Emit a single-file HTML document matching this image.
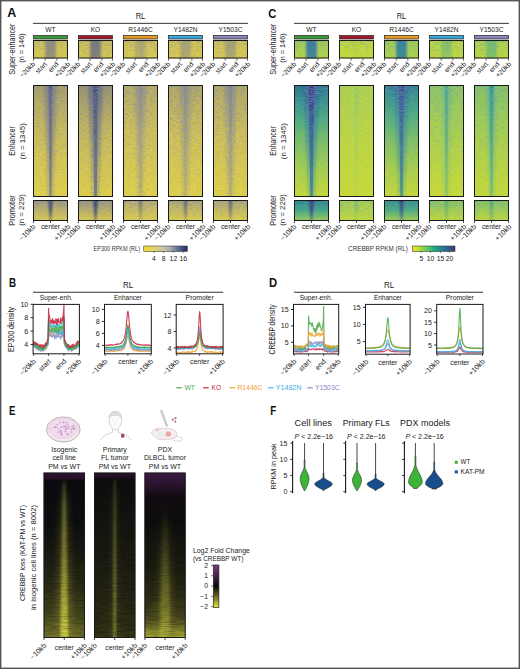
<!DOCTYPE html><html><head><meta charset="utf-8"><style>html,body{margin:0;padding:0;background:#fff;overflow:hidden;}svg{display:block;font-family:"Liberation Sans", sans-serif;}</style></head><body><svg width="520" height="669" viewBox="0 0 520 669"><defs><clipPath id="cp1"><rect x="33" y="40" width="35" height="18.5"/></clipPath><linearGradient id="lg2" x1="0" y1="0" x2="0" y2="1"><stop offset="0" stop-color="#cec256" stop-opacity="1"/><stop offset="1" stop-color="#d8ca50" stop-opacity="1"/></linearGradient><linearGradient id="lg3" x1="0" y1="0" x2="0" y2="1"><stop offset="0" stop-color="#8e8a7a" stop-opacity="1"/><stop offset="1" stop-color="#9a9676" stop-opacity="1"/></linearGradient><filter id="bl4" x="-100%" y="-5%" width="300%" height="110%"><feGaussianBlur stdDeviation="0.8 0.3"/></filter><filter id="nf5" x="33" y="40" width="35" height="18.5" filterUnits="userSpaceOnUse"><feTurbulence type="fractalNoise" baseFrequency="0.3 0.75" numOctaves="2" seed="10"/><feColorMatrix type="matrix" values="0 0 0 0 0.22  0 0 0 0 0.26  0 0 0 0 0.42  1.68 0 0 0 -0.672"/></filter><linearGradient id="lg7" x1="0" y1="0" x2="0" y2="1"><stop offset="0" stop-color="#fff" stop-opacity="1"/><stop offset="0.35" stop-color="#aaa" stop-opacity="1"/><stop offset="0.7" stop-color="#666" stop-opacity="1"/><stop offset="1" stop-color="#444" stop-opacity="1"/></linearGradient><mask id="mk6" maskUnits="userSpaceOnUse" x="33" y="40" width="35" height="18.5"><rect x="33" y="40" width="35" height="18.5" fill="url(#lg7)"/></mask><clipPath id="cp8"><rect x="33" y="85" width="35" height="112"/></clipPath><linearGradient id="lg9" x1="0" y1="0" x2="0" y2="1"><stop offset="0" stop-color="#aaa060" stop-opacity="1"/><stop offset="0.12" stop-color="#b8ac5e" stop-opacity="1"/><stop offset="0.35" stop-color="#cabb58" stop-opacity="1"/><stop offset="0.65" stop-color="#d8c852" stop-opacity="1"/><stop offset="1" stop-color="#e2d24a" stop-opacity="1"/></linearGradient><linearGradient id="lg10" x1="0" y1="0" x2="0" y2="1"><stop offset="0" stop-color="#6e6e74" stop-opacity="0.6"/><stop offset="0.5" stop-color="#7c7a74" stop-opacity="0.38"/><stop offset="1" stop-color="#9a9270" stop-opacity="0.25"/></linearGradient><filter id="bl11" x="-100%" y="-5%" width="300%" height="110%"><feGaussianBlur stdDeviation="1.5 0.3"/></filter><linearGradient id="lg12" x1="0" y1="0" x2="0" y2="1"><stop offset="0" stop-color="#50587a" stop-opacity="0.9"/><stop offset="0.5" stop-color="#66687a" stop-opacity="0.78"/><stop offset="1" stop-color="#747680" stop-opacity="0.7"/></linearGradient><filter id="bl13" x="-100%" y="-5%" width="300%" height="110%"><feGaussianBlur stdDeviation="0.7 0.3"/></filter><filter id="nf14" x="33" y="85" width="35" height="112" filterUnits="userSpaceOnUse"><feTurbulence type="fractalNoise" baseFrequency="0.3 0.75" numOctaves="2" seed="20"/><feColorMatrix type="matrix" values="0 0 0 0 0.22  0 0 0 0 0.26  0 0 0 0 0.42  1.68 0 0 0 -0.672"/></filter><linearGradient id="lg16" x1="0" y1="0" x2="0" y2="1"><stop offset="0" stop-color="#fff" stop-opacity="1"/><stop offset="0.35" stop-color="#aaa" stop-opacity="1"/><stop offset="0.7" stop-color="#666" stop-opacity="1"/><stop offset="1" stop-color="#444" stop-opacity="1"/></linearGradient><mask id="mk15" maskUnits="userSpaceOnUse" x="33" y="85" width="35" height="112"><rect x="33" y="85" width="35" height="112" fill="url(#lg16)"/></mask><linearGradient id="lg18" x1="0" y1="0" x2="0" y2="1"><stop offset="0" stop-color="#fff" stop-opacity="1"/><stop offset="1" stop-color="#fff" stop-opacity="0.65"/></linearGradient><filter id="bl19" x="-100%" y="-5%" width="300%" height="110%"><feGaussianBlur stdDeviation="1.2 0.3"/></filter><mask id="mk17" maskUnits="userSpaceOnUse" x="33" y="85" width="35" height="112"><polygon points="43.5,83 57.5,83 54.0,199 47.0,199" fill="url(#lg18)" filter="url(#bl19)"/></mask><filter id="nf20" x="33" y="85" width="35" height="112" filterUnits="userSpaceOnUse"><feTurbulence type="fractalNoise" baseFrequency="0.35 0.8" numOctaves="2" seed="120"/><feColorMatrix type="matrix" values="0 0 0 0 0.2  0 0 0 0 0.25  0 0 0 0 0.45  1.8 0 0 0 -0.7200000000000001"/></filter><clipPath id="cp21"><rect x="33" y="200" width="35" height="21"/></clipPath><linearGradient id="lg22" x1="0" y1="0" x2="0" y2="1"><stop offset="0" stop-color="#9c9884" stop-opacity="1"/><stop offset="0.5" stop-color="#c2b664" stop-opacity="1"/><stop offset="1" stop-color="#dacb50" stop-opacity="1"/></linearGradient><linearGradient id="lg23" x1="0" y1="0" x2="0" y2="1"><stop offset="0" stop-color="#2e3e70" stop-opacity="1"/><stop offset="0.6" stop-color="#3e4c72" stop-opacity="0.9"/><stop offset="1" stop-color="#6a6e78" stop-opacity="0.5"/></linearGradient><filter id="bl24" x="-100%" y="-5%" width="300%" height="110%"><feGaussianBlur stdDeviation="0.9 0.3"/></filter><filter id="nf25" x="33" y="200" width="35" height="21" filterUnits="userSpaceOnUse"><feTurbulence type="fractalNoise" baseFrequency="0.3 0.75" numOctaves="2" seed="30"/><feColorMatrix type="matrix" values="0 0 0 0 0.22  0 0 0 0 0.26  0 0 0 0 0.42  1.68 0 0 0 -0.672"/></filter><linearGradient id="lg27" x1="0" y1="0" x2="0" y2="1"><stop offset="0" stop-color="#fff" stop-opacity="1"/><stop offset="0.35" stop-color="#aaa" stop-opacity="1"/><stop offset="0.7" stop-color="#666" stop-opacity="1"/><stop offset="1" stop-color="#444" stop-opacity="1"/></linearGradient><mask id="mk26" maskUnits="userSpaceOnUse" x="33" y="200" width="35" height="21"><rect x="33" y="200" width="35" height="21" fill="url(#lg27)"/></mask><clipPath id="cp28"><rect x="78" y="40" width="35" height="18.5"/></clipPath><linearGradient id="lg29" x1="0" y1="0" x2="0" y2="1"><stop offset="0" stop-color="#ccbf58" stop-opacity="1"/><stop offset="1" stop-color="#d6c852" stop-opacity="1"/></linearGradient><linearGradient id="lg30" x1="0" y1="0" x2="0" y2="1"><stop offset="0" stop-color="#76767a" stop-opacity="1"/><stop offset="1" stop-color="#868276" stop-opacity="1"/></linearGradient><filter id="nf31" x="78" y="40" width="35" height="18.5" filterUnits="userSpaceOnUse"><feTurbulence type="fractalNoise" baseFrequency="0.3 0.75" numOctaves="2" seed="11"/><feColorMatrix type="matrix" values="0 0 0 0 0.22  0 0 0 0 0.26  0 0 0 0 0.42  1.68 0 0 0 -0.672"/></filter><linearGradient id="lg33" x1="0" y1="0" x2="0" y2="1"><stop offset="0" stop-color="#fff" stop-opacity="1"/><stop offset="0.35" stop-color="#aaa" stop-opacity="1"/><stop offset="0.7" stop-color="#666" stop-opacity="1"/><stop offset="1" stop-color="#444" stop-opacity="1"/></linearGradient><mask id="mk32" maskUnits="userSpaceOnUse" x="78" y="40" width="35" height="18.5"><rect x="78" y="40" width="35" height="18.5" fill="url(#lg33)"/></mask><clipPath id="cp34"><rect x="78" y="85" width="35" height="112"/></clipPath><linearGradient id="lg35" x1="0" y1="0" x2="0" y2="1"><stop offset="0" stop-color="#96926c" stop-opacity="1"/><stop offset="0.12" stop-color="#aaa064" stop-opacity="1"/><stop offset="0.35" stop-color="#c4b65c" stop-opacity="1"/><stop offset="0.65" stop-color="#d4c554" stop-opacity="1"/><stop offset="1" stop-color="#e0d04a" stop-opacity="1"/></linearGradient><linearGradient id="lg36" x1="0" y1="0" x2="0" y2="1"><stop offset="0" stop-color="#575c6d" stop-opacity="0.7"/><stop offset="0.5" stop-color="#707173" stop-opacity="0.42"/><stop offset="1" stop-color="#8a8678" stop-opacity="0.28"/></linearGradient><linearGradient id="lg37" x1="0" y1="0" x2="0" y2="1"><stop offset="0" stop-color="#3b496c" stop-opacity="0.95"/><stop offset="0.5" stop-color="#56607a" stop-opacity="0.85"/><stop offset="1" stop-color="#686c7c" stop-opacity="0.75"/></linearGradient><filter id="nf38" x="78" y="85" width="35" height="112" filterUnits="userSpaceOnUse"><feTurbulence type="fractalNoise" baseFrequency="0.3 0.75" numOctaves="2" seed="21"/><feColorMatrix type="matrix" values="0 0 0 0 0.22  0 0 0 0 0.26  0 0 0 0 0.42  1.68 0 0 0 -0.672"/></filter><linearGradient id="lg40" x1="0" y1="0" x2="0" y2="1"><stop offset="0" stop-color="#fff" stop-opacity="1"/><stop offset="0.35" stop-color="#aaa" stop-opacity="1"/><stop offset="0.7" stop-color="#666" stop-opacity="1"/><stop offset="1" stop-color="#444" stop-opacity="1"/></linearGradient><mask id="mk39" maskUnits="userSpaceOnUse" x="78" y="85" width="35" height="112"><rect x="78" y="85" width="35" height="112" fill="url(#lg40)"/></mask><linearGradient id="lg42" x1="0" y1="0" x2="0" y2="1"><stop offset="0" stop-color="#fff" stop-opacity="1"/><stop offset="1" stop-color="#fff" stop-opacity="0.65"/></linearGradient><mask id="mk41" maskUnits="userSpaceOnUse" x="78" y="85" width="35" height="112"><polygon points="87.5,83 103.5,83 99.5,199 91.5,199" fill="url(#lg42)" filter="url(#bl19)"/></mask><filter id="nf43" x="78" y="85" width="35" height="112" filterUnits="userSpaceOnUse"><feTurbulence type="fractalNoise" baseFrequency="0.35 0.8" numOctaves="2" seed="121"/><feColorMatrix type="matrix" values="0 0 0 0 0.15  0 0 0 0 0.2  0 0 0 0 0.45  2.0 0 0 0 -0.8"/></filter><clipPath id="cp44"><rect x="78" y="200" width="35" height="21"/></clipPath><linearGradient id="lg45" x1="0" y1="0" x2="0" y2="1"><stop offset="0" stop-color="#969482" stop-opacity="1"/><stop offset="0.5" stop-color="#beb266" stop-opacity="1"/><stop offset="1" stop-color="#dacb50" stop-opacity="1"/></linearGradient><linearGradient id="lg46" x1="0" y1="0" x2="0" y2="1"><stop offset="0" stop-color="#27386c" stop-opacity="1"/><stop offset="0.6" stop-color="#3a4870" stop-opacity="0.9"/><stop offset="1" stop-color="#5e6478" stop-opacity="0.55"/></linearGradient><filter id="nf47" x="78" y="200" width="35" height="21" filterUnits="userSpaceOnUse"><feTurbulence type="fractalNoise" baseFrequency="0.3 0.75" numOctaves="2" seed="31"/><feColorMatrix type="matrix" values="0 0 0 0 0.22  0 0 0 0 0.26  0 0 0 0 0.42  1.68 0 0 0 -0.672"/></filter><linearGradient id="lg49" x1="0" y1="0" x2="0" y2="1"><stop offset="0" stop-color="#fff" stop-opacity="1"/><stop offset="0.35" stop-color="#aaa" stop-opacity="1"/><stop offset="0.7" stop-color="#666" stop-opacity="1"/><stop offset="1" stop-color="#444" stop-opacity="1"/></linearGradient><mask id="mk48" maskUnits="userSpaceOnUse" x="78" y="200" width="35" height="21"><rect x="78" y="200" width="35" height="21" fill="url(#lg49)"/></mask><clipPath id="cp50"><rect x="123" y="40" width="35" height="18.5"/></clipPath><linearGradient id="lg51" x1="0" y1="0" x2="0" y2="1"><stop offset="0" stop-color="#d2c456" stop-opacity="1"/><stop offset="1" stop-color="#dacb50" stop-opacity="1"/></linearGradient><linearGradient id="lg52" x1="0" y1="0" x2="0" y2="1"><stop offset="0" stop-color="#b2a86e" stop-opacity="1"/><stop offset="1" stop-color="#bcb068" stop-opacity="1"/></linearGradient><filter id="nf53" x="123" y="40" width="35" height="18.5" filterUnits="userSpaceOnUse"><feTurbulence type="fractalNoise" baseFrequency="0.3 0.75" numOctaves="2" seed="12"/><feColorMatrix type="matrix" values="0 0 0 0 0.22  0 0 0 0 0.26  0 0 0 0 0.42  1.68 0 0 0 -0.672"/></filter><linearGradient id="lg55" x1="0" y1="0" x2="0" y2="1"><stop offset="0" stop-color="#fff" stop-opacity="1"/><stop offset="0.35" stop-color="#aaa" stop-opacity="1"/><stop offset="0.7" stop-color="#666" stop-opacity="1"/><stop offset="1" stop-color="#444" stop-opacity="1"/></linearGradient><mask id="mk54" maskUnits="userSpaceOnUse" x="123" y="40" width="35" height="18.5"><rect x="123" y="40" width="35" height="18.5" fill="url(#lg55)"/></mask><clipPath id="cp56"><rect x="123" y="85" width="35" height="112"/></clipPath><linearGradient id="lg57" x1="0" y1="0" x2="0" y2="1"><stop offset="0" stop-color="#b8ac60" stop-opacity="1"/><stop offset="0.15" stop-color="#c4b65c" stop-opacity="1"/><stop offset="0.45" stop-color="#d4c456" stop-opacity="1"/><stop offset="1" stop-color="#e2d24a" stop-opacity="1"/></linearGradient><linearGradient id="lg58" x1="0" y1="0" x2="0" y2="1"><stop offset="0" stop-color="#84837a" stop-opacity="0.5"/><stop offset="0.5" stop-color="#959080" stop-opacity="0.32"/><stop offset="1" stop-color="#a59c74" stop-opacity="0.2"/></linearGradient><linearGradient id="lg59" x1="0" y1="0" x2="0" y2="1"><stop offset="0" stop-color="#6a6e78" stop-opacity="0.3"/><stop offset="0.5" stop-color="#7c7c78" stop-opacity="0.22"/><stop offset="1" stop-color="#8e8a70" stop-opacity="0.25"/></linearGradient><filter id="nf60" x="123" y="85" width="35" height="112" filterUnits="userSpaceOnUse"><feTurbulence type="fractalNoise" baseFrequency="0.3 0.75" numOctaves="2" seed="22"/><feColorMatrix type="matrix" values="0 0 0 0 0.22  0 0 0 0 0.26  0 0 0 0 0.42  1.68 0 0 0 -0.672"/></filter><linearGradient id="lg62" x1="0" y1="0" x2="0" y2="1"><stop offset="0" stop-color="#fff" stop-opacity="1"/><stop offset="0.35" stop-color="#aaa" stop-opacity="1"/><stop offset="0.7" stop-color="#666" stop-opacity="1"/><stop offset="1" stop-color="#444" stop-opacity="1"/></linearGradient><mask id="mk61" maskUnits="userSpaceOnUse" x="123" y="85" width="35" height="112"><rect x="123" y="85" width="35" height="112" fill="url(#lg62)"/></mask><linearGradient id="lg64" x1="0" y1="0" x2="0" y2="1"><stop offset="0" stop-color="#fff" stop-opacity="1"/><stop offset="1" stop-color="#fff" stop-opacity="0.65"/></linearGradient><mask id="mk63" maskUnits="userSpaceOnUse" x="123" y="85" width="35" height="112"><polygon points="134.5,83 146.5,83 143.5,199 137.5,199" fill="url(#lg64)" filter="url(#bl19)"/></mask><filter id="nf65" x="123" y="85" width="35" height="112" filterUnits="userSpaceOnUse"><feTurbulence type="fractalNoise" baseFrequency="0.35 0.8" numOctaves="2" seed="122"/><feColorMatrix type="matrix" values="0 0 0 0 0.28  0 0 0 0 0.31  0 0 0 0 0.45  2.2 0 0 0 -0.8800000000000001"/></filter><clipPath id="cp66"><rect x="123" y="200" width="35" height="21"/></clipPath><linearGradient id="lg67" x1="0" y1="0" x2="0" y2="1"><stop offset="0" stop-color="#b2aa78" stop-opacity="1"/><stop offset="0.5" stop-color="#cec05c" stop-opacity="1"/><stop offset="1" stop-color="#dece4e" stop-opacity="1"/></linearGradient><linearGradient id="lg68" x1="0" y1="0" x2="0" y2="1"><stop offset="0" stop-color="#4a5470" stop-opacity="0.8"/><stop offset="0.6" stop-color="#5e6474" stop-opacity="0.6"/><stop offset="1" stop-color="#8a8672" stop-opacity="0.4"/></linearGradient><filter id="nf69" x="123" y="200" width="35" height="21" filterUnits="userSpaceOnUse"><feTurbulence type="fractalNoise" baseFrequency="0.3 0.75" numOctaves="2" seed="32"/><feColorMatrix type="matrix" values="0 0 0 0 0.22  0 0 0 0 0.26  0 0 0 0 0.42  1.68 0 0 0 -0.672"/></filter><linearGradient id="lg71" x1="0" y1="0" x2="0" y2="1"><stop offset="0" stop-color="#fff" stop-opacity="1"/><stop offset="0.35" stop-color="#aaa" stop-opacity="1"/><stop offset="0.7" stop-color="#666" stop-opacity="1"/><stop offset="1" stop-color="#444" stop-opacity="1"/></linearGradient><mask id="mk70" maskUnits="userSpaceOnUse" x="123" y="200" width="35" height="21"><rect x="123" y="200" width="35" height="21" fill="url(#lg71)"/></mask><clipPath id="cp72"><rect x="168" y="40" width="35" height="18.5"/></clipPath><linearGradient id="lg73" x1="0" y1="0" x2="0" y2="1"><stop offset="0" stop-color="#d2c456" stop-opacity="1"/><stop offset="1" stop-color="#dacb50" stop-opacity="1"/></linearGradient><linearGradient id="lg74" x1="0" y1="0" x2="0" y2="1"><stop offset="0" stop-color="#aaa270" stop-opacity="1"/><stop offset="1" stop-color="#b6ac6a" stop-opacity="1"/></linearGradient><filter id="nf75" x="168" y="40" width="35" height="18.5" filterUnits="userSpaceOnUse"><feTurbulence type="fractalNoise" baseFrequency="0.3 0.75" numOctaves="2" seed="13"/><feColorMatrix type="matrix" values="0 0 0 0 0.22  0 0 0 0 0.26  0 0 0 0 0.42  1.68 0 0 0 -0.672"/></filter><linearGradient id="lg77" x1="0" y1="0" x2="0" y2="1"><stop offset="0" stop-color="#fff" stop-opacity="1"/><stop offset="0.35" stop-color="#aaa" stop-opacity="1"/><stop offset="0.7" stop-color="#666" stop-opacity="1"/><stop offset="1" stop-color="#444" stop-opacity="1"/></linearGradient><mask id="mk76" maskUnits="userSpaceOnUse" x="168" y="40" width="35" height="18.5"><rect x="168" y="40" width="35" height="18.5" fill="url(#lg77)"/></mask><clipPath id="cp78"><rect x="168" y="85" width="35" height="112"/></clipPath><linearGradient id="lg79" x1="0" y1="0" x2="0" y2="1"><stop offset="0" stop-color="#b4aa62" stop-opacity="1"/><stop offset="0.15" stop-color="#c2b45c" stop-opacity="1"/><stop offset="0.45" stop-color="#d3c356" stop-opacity="1"/><stop offset="1" stop-color="#e2d24a" stop-opacity="1"/></linearGradient><linearGradient id="lg80" x1="0" y1="0" x2="0" y2="1"><stop offset="0" stop-color="#84837a" stop-opacity="0.5"/><stop offset="0.5" stop-color="#959080" stop-opacity="0.32"/><stop offset="1" stop-color="#a59c74" stop-opacity="0.2"/></linearGradient><linearGradient id="lg81" x1="0" y1="0" x2="0" y2="1"><stop offset="0" stop-color="#646a7a" stop-opacity="0.32"/><stop offset="0.5" stop-color="#787a78" stop-opacity="0.24"/><stop offset="1" stop-color="#8c8a70" stop-opacity="0.26"/></linearGradient><filter id="nf82" x="168" y="85" width="35" height="112" filterUnits="userSpaceOnUse"><feTurbulence type="fractalNoise" baseFrequency="0.3 0.75" numOctaves="2" seed="23"/><feColorMatrix type="matrix" values="0 0 0 0 0.22  0 0 0 0 0.26  0 0 0 0 0.42  1.68 0 0 0 -0.672"/></filter><linearGradient id="lg84" x1="0" y1="0" x2="0" y2="1"><stop offset="0" stop-color="#fff" stop-opacity="1"/><stop offset="0.35" stop-color="#aaa" stop-opacity="1"/><stop offset="0.7" stop-color="#666" stop-opacity="1"/><stop offset="1" stop-color="#444" stop-opacity="1"/></linearGradient><mask id="mk83" maskUnits="userSpaceOnUse" x="168" y="85" width="35" height="112"><rect x="168" y="85" width="35" height="112" fill="url(#lg84)"/></mask><linearGradient id="lg86" x1="0" y1="0" x2="0" y2="1"><stop offset="0" stop-color="#fff" stop-opacity="1"/><stop offset="1" stop-color="#fff" stop-opacity="0.65"/></linearGradient><mask id="mk85" maskUnits="userSpaceOnUse" x="168" y="85" width="35" height="112"><polygon points="179.5,83 191.5,83 188.5,199 182.5,199" fill="url(#lg86)" filter="url(#bl19)"/></mask><filter id="nf87" x="168" y="85" width="35" height="112" filterUnits="userSpaceOnUse"><feTurbulence type="fractalNoise" baseFrequency="0.35 0.8" numOctaves="2" seed="123"/><feColorMatrix type="matrix" values="0 0 0 0 0.28  0 0 0 0 0.31  0 0 0 0 0.45  2.2 0 0 0 -0.8800000000000001"/></filter><clipPath id="cp88"><rect x="168" y="200" width="35" height="21"/></clipPath><linearGradient id="lg89" x1="0" y1="0" x2="0" y2="1"><stop offset="0" stop-color="#aca67a" stop-opacity="1"/><stop offset="0.5" stop-color="#cabe5e" stop-opacity="1"/><stop offset="1" stop-color="#dece4e" stop-opacity="1"/></linearGradient><linearGradient id="lg90" x1="0" y1="0" x2="0" y2="1"><stop offset="0" stop-color="#3e4c70" stop-opacity="0.85"/><stop offset="0.6" stop-color="#505a74" stop-opacity="0.7"/><stop offset="1" stop-color="#7e7e74" stop-opacity="0.45"/></linearGradient><filter id="nf91" x="168" y="200" width="35" height="21" filterUnits="userSpaceOnUse"><feTurbulence type="fractalNoise" baseFrequency="0.3 0.75" numOctaves="2" seed="33"/><feColorMatrix type="matrix" values="0 0 0 0 0.22  0 0 0 0 0.26  0 0 0 0 0.42  1.68 0 0 0 -0.672"/></filter><linearGradient id="lg93" x1="0" y1="0" x2="0" y2="1"><stop offset="0" stop-color="#fff" stop-opacity="1"/><stop offset="0.35" stop-color="#aaa" stop-opacity="1"/><stop offset="0.7" stop-color="#666" stop-opacity="1"/><stop offset="1" stop-color="#444" stop-opacity="1"/></linearGradient><mask id="mk92" maskUnits="userSpaceOnUse" x="168" y="200" width="35" height="21"><rect x="168" y="200" width="35" height="21" fill="url(#lg93)"/></mask><clipPath id="cp94"><rect x="213" y="40" width="35" height="18.5"/></clipPath><linearGradient id="lg95" x1="0" y1="0" x2="0" y2="1"><stop offset="0" stop-color="#d2c456" stop-opacity="1"/><stop offset="1" stop-color="#dacb50" stop-opacity="1"/></linearGradient><linearGradient id="lg96" x1="0" y1="0" x2="0" y2="1"><stop offset="0" stop-color="#a8a072" stop-opacity="1"/><stop offset="1" stop-color="#b4ac6c" stop-opacity="1"/></linearGradient><filter id="nf97" x="213" y="40" width="35" height="18.5" filterUnits="userSpaceOnUse"><feTurbulence type="fractalNoise" baseFrequency="0.3 0.75" numOctaves="2" seed="14"/><feColorMatrix type="matrix" values="0 0 0 0 0.22  0 0 0 0 0.26  0 0 0 0 0.42  1.68 0 0 0 -0.672"/></filter><linearGradient id="lg99" x1="0" y1="0" x2="0" y2="1"><stop offset="0" stop-color="#fff" stop-opacity="1"/><stop offset="0.35" stop-color="#aaa" stop-opacity="1"/><stop offset="0.7" stop-color="#666" stop-opacity="1"/><stop offset="1" stop-color="#444" stop-opacity="1"/></linearGradient><mask id="mk98" maskUnits="userSpaceOnUse" x="213" y="40" width="35" height="18.5"><rect x="213" y="40" width="35" height="18.5" fill="url(#lg99)"/></mask><clipPath id="cp100"><rect x="213" y="85" width="35" height="112"/></clipPath><linearGradient id="lg101" x1="0" y1="0" x2="0" y2="1"><stop offset="0" stop-color="#b4aa62" stop-opacity="1"/><stop offset="0.15" stop-color="#c2b45c" stop-opacity="1"/><stop offset="0.45" stop-color="#d3c356" stop-opacity="1"/><stop offset="1" stop-color="#e2d24a" stop-opacity="1"/></linearGradient><linearGradient id="lg102" x1="0" y1="0" x2="0" y2="1"><stop offset="0" stop-color="#7c7c7c" stop-opacity="0.5"/><stop offset="0.5" stop-color="#909080" stop-opacity="0.32"/><stop offset="1" stop-color="#a59c74" stop-opacity="0.2"/></linearGradient><linearGradient id="lg103" x1="0" y1="0" x2="0" y2="1"><stop offset="0" stop-color="#5e667a" stop-opacity="0.36"/><stop offset="0.5" stop-color="#747678" stop-opacity="0.26"/><stop offset="1" stop-color="#8a8870" stop-opacity="0.28"/></linearGradient><filter id="nf104" x="213" y="85" width="35" height="112" filterUnits="userSpaceOnUse"><feTurbulence type="fractalNoise" baseFrequency="0.3 0.75" numOctaves="2" seed="24"/><feColorMatrix type="matrix" values="0 0 0 0 0.22  0 0 0 0 0.26  0 0 0 0 0.42  1.68 0 0 0 -0.672"/></filter><linearGradient id="lg106" x1="0" y1="0" x2="0" y2="1"><stop offset="0" stop-color="#fff" stop-opacity="1"/><stop offset="0.35" stop-color="#aaa" stop-opacity="1"/><stop offset="0.7" stop-color="#666" stop-opacity="1"/><stop offset="1" stop-color="#444" stop-opacity="1"/></linearGradient><mask id="mk105" maskUnits="userSpaceOnUse" x="213" y="85" width="35" height="112"><rect x="213" y="85" width="35" height="112" fill="url(#lg106)"/></mask><linearGradient id="lg108" x1="0" y1="0" x2="0" y2="1"><stop offset="0" stop-color="#fff" stop-opacity="1"/><stop offset="1" stop-color="#fff" stop-opacity="0.65"/></linearGradient><mask id="mk107" maskUnits="userSpaceOnUse" x="213" y="85" width="35" height="112"><polygon points="224.5,83 236.5,83 233.5,199 227.5,199" fill="url(#lg108)" filter="url(#bl19)"/></mask><filter id="nf109" x="213" y="85" width="35" height="112" filterUnits="userSpaceOnUse"><feTurbulence type="fractalNoise" baseFrequency="0.35 0.8" numOctaves="2" seed="124"/><feColorMatrix type="matrix" values="0 0 0 0 0.26  0 0 0 0 0.29  0 0 0 0 0.45  2.32 0 0 0 -0.9279999999999999"/></filter><clipPath id="cp110"><rect x="213" y="200" width="35" height="21"/></clipPath><linearGradient id="lg111" x1="0" y1="0" x2="0" y2="1"><stop offset="0" stop-color="#aca67a" stop-opacity="1"/><stop offset="0.5" stop-color="#cabe5e" stop-opacity="1"/><stop offset="1" stop-color="#dece4e" stop-opacity="1"/></linearGradient><linearGradient id="lg112" x1="0" y1="0" x2="0" y2="1"><stop offset="0" stop-color="#3e4c70" stop-opacity="0.85"/><stop offset="0.6" stop-color="#505a74" stop-opacity="0.7"/><stop offset="1" stop-color="#7e7e74" stop-opacity="0.45"/></linearGradient><filter id="nf113" x="213" y="200" width="35" height="21" filterUnits="userSpaceOnUse"><feTurbulence type="fractalNoise" baseFrequency="0.3 0.75" numOctaves="2" seed="34"/><feColorMatrix type="matrix" values="0 0 0 0 0.22  0 0 0 0 0.26  0 0 0 0 0.42  1.68 0 0 0 -0.672"/></filter><linearGradient id="lg115" x1="0" y1="0" x2="0" y2="1"><stop offset="0" stop-color="#fff" stop-opacity="1"/><stop offset="0.35" stop-color="#aaa" stop-opacity="1"/><stop offset="0.7" stop-color="#666" stop-opacity="1"/><stop offset="1" stop-color="#444" stop-opacity="1"/></linearGradient><mask id="mk114" maskUnits="userSpaceOnUse" x="213" y="200" width="35" height="21"><rect x="213" y="200" width="35" height="21" fill="url(#lg115)"/></mask><linearGradient id="lg116" x1="0" y1="0" x2="1" y2="0"><stop offset="0" stop-color="#f2dc3c" stop-opacity="1"/><stop offset="0.2" stop-color="#e6d460" stop-opacity="1"/><stop offset="0.45" stop-color="#c8c6a8" stop-opacity="1"/><stop offset="0.6" stop-color="#a8acb0" stop-opacity="1"/><stop offset="0.8" stop-color="#5a6890" stop-opacity="1"/><stop offset="1" stop-color="#1d2e5e" stop-opacity="1"/></linearGradient><clipPath id="cp117"><rect x="294" y="40" width="35" height="18.5"/></clipPath><linearGradient id="lg118" x1="0" y1="0" x2="0" y2="1"><stop offset="0" stop-color="#a4cc52" stop-opacity="1"/><stop offset="1" stop-color="#b4d448" stop-opacity="1"/></linearGradient><linearGradient id="lg119" x1="0" y1="0" x2="0" y2="1"><stop offset="0" stop-color="#3c7498" stop-opacity="1"/><stop offset="1" stop-color="#428896" stop-opacity="1"/></linearGradient><filter id="nf120" x="294" y="40" width="35" height="18.5" filterUnits="userSpaceOnUse"><feTurbulence type="fractalNoise" baseFrequency="0.2 0.75" numOctaves="2" seed="10"/><feColorMatrix type="matrix" values="0 0 0 0 0.13  0 0 0 0 0.35  0 0 0 0 0.55  1.44 0 0 0 -0.576"/></filter><linearGradient id="lg122" x1="0" y1="0" x2="0" y2="1"><stop offset="0" stop-color="#fff" stop-opacity="1"/><stop offset="0.35" stop-color="#aaa" stop-opacity="1"/><stop offset="0.7" stop-color="#666" stop-opacity="1"/><stop offset="1" stop-color="#444" stop-opacity="1"/></linearGradient><mask id="mk121" maskUnits="userSpaceOnUse" x="294" y="40" width="35" height="18.5"><rect x="294" y="40" width="35" height="18.5" fill="url(#lg122)"/></mask><clipPath id="cp123"><rect x="294" y="85" width="35" height="112"/></clipPath><linearGradient id="lg124" x1="0" y1="0" x2="0" y2="1"><stop offset="0" stop-color="#2f6e8e" stop-opacity="1"/><stop offset="0.1" stop-color="#32888c" stop-opacity="1"/><stop offset="0.3" stop-color="#4eab7e" stop-opacity="1"/><stop offset="0.5" stop-color="#7cc064" stop-opacity="1"/><stop offset="0.75" stop-color="#a8d04c" stop-opacity="1"/><stop offset="1" stop-color="#c8da38" stop-opacity="1"/></linearGradient><linearGradient id="lg125" x1="0" y1="0" x2="0" y2="1"><stop offset="0" stop-color="#2f5a8e" stop-opacity="0.85"/><stop offset="0.4" stop-color="#2f8a8c" stop-opacity="0.6"/><stop offset="1" stop-color="#4aa884" stop-opacity="0.4"/></linearGradient><linearGradient id="lg126" x1="0" y1="0" x2="0" y2="1"><stop offset="0" stop-color="#3a307e" stop-opacity="1"/><stop offset="0.3" stop-color="#31538e" stop-opacity="0.95"/><stop offset="1" stop-color="#2f8a8c" stop-opacity="0.85"/></linearGradient><filter id="nf127" x="294" y="85" width="35" height="112" filterUnits="userSpaceOnUse"><feTurbulence type="fractalNoise" baseFrequency="0.2 0.75" numOctaves="2" seed="20"/><feColorMatrix type="matrix" values="0 0 0 0 0.13  0 0 0 0 0.35  0 0 0 0 0.55  1.44 0 0 0 -0.576"/></filter><linearGradient id="lg129" x1="0" y1="0" x2="0" y2="1"><stop offset="0" stop-color="#fff" stop-opacity="1"/><stop offset="0.35" stop-color="#aaa" stop-opacity="1"/><stop offset="0.7" stop-color="#666" stop-opacity="1"/><stop offset="1" stop-color="#444" stop-opacity="1"/></linearGradient><mask id="mk128" maskUnits="userSpaceOnUse" x="294" y="85" width="35" height="112"><rect x="294" y="85" width="35" height="112" fill="url(#lg129)"/></mask><linearGradient id="lg131" x1="0" y1="0" x2="0" y2="1"><stop offset="0" stop-color="#fff" stop-opacity="1"/><stop offset="1" stop-color="#fff" stop-opacity="0.65"/></linearGradient><mask id="mk130" maskUnits="userSpaceOnUse" x="294" y="85" width="35" height="112"><polygon points="304.5,83 318.5,83 315.0,199 308.0,199" fill="url(#lg131)" filter="url(#bl19)"/></mask><filter id="nf132" x="294" y="85" width="35" height="112" filterUnits="userSpaceOnUse"><feTurbulence type="fractalNoise" baseFrequency="0.35 0.8" numOctaves="2" seed="120"/><feColorMatrix type="matrix" values="0 0 0 0 0.2  0 0 0 0 0.2  0 0 0 0 0.5  1.6 0 0 0 -0.6400000000000001"/></filter><clipPath id="cp133"><rect x="294" y="200" width="35" height="21"/></clipPath><linearGradient id="lg134" x1="0" y1="0" x2="0" y2="1"><stop offset="0" stop-color="#2a828c" stop-opacity="1"/><stop offset="0.5" stop-color="#46a884" stop-opacity="1"/><stop offset="1" stop-color="#a4ce52" stop-opacity="1"/></linearGradient><linearGradient id="lg135" x1="0" y1="0" x2="0" y2="1"><stop offset="0" stop-color="#40207a" stop-opacity="1"/><stop offset="0.5" stop-color="#3a3a86" stop-opacity="0.95"/><stop offset="1" stop-color="#2d6a8e" stop-opacity="0.7"/></linearGradient><filter id="nf136" x="294" y="200" width="35" height="21" filterUnits="userSpaceOnUse"><feTurbulence type="fractalNoise" baseFrequency="0.2 0.75" numOctaves="2" seed="30"/><feColorMatrix type="matrix" values="0 0 0 0 0.13  0 0 0 0 0.35  0 0 0 0 0.55  1.44 0 0 0 -0.576"/></filter><linearGradient id="lg138" x1="0" y1="0" x2="0" y2="1"><stop offset="0" stop-color="#fff" stop-opacity="1"/><stop offset="0.35" stop-color="#aaa" stop-opacity="1"/><stop offset="0.7" stop-color="#666" stop-opacity="1"/><stop offset="1" stop-color="#444" stop-opacity="1"/></linearGradient><mask id="mk137" maskUnits="userSpaceOnUse" x="294" y="200" width="35" height="21"><rect x="294" y="200" width="35" height="21" fill="url(#lg138)"/></mask><clipPath id="cp139"><rect x="339" y="40" width="35" height="18.5"/></clipPath><linearGradient id="lg140" x1="0" y1="0" x2="0" y2="1"><stop offset="0" stop-color="#c2d83c" stop-opacity="1"/><stop offset="1" stop-color="#c8da38" stop-opacity="1"/></linearGradient><linearGradient id="lg141" x1="0" y1="0" x2="0" y2="1"><stop offset="0" stop-color="#c0d63e" stop-opacity="1"/><stop offset="1" stop-color="#c6d83a" stop-opacity="1"/></linearGradient><filter id="nf142" x="339" y="40" width="35" height="18.5" filterUnits="userSpaceOnUse"><feTurbulence type="fractalNoise" baseFrequency="0.2 0.75" numOctaves="2" seed="11"/><feColorMatrix type="matrix" values="0 0 0 0 0.13  0 0 0 0 0.35  0 0 0 0 0.55  1.44 0 0 0 -0.576"/></filter><linearGradient id="lg144" x1="0" y1="0" x2="0" y2="1"><stop offset="0" stop-color="#fff" stop-opacity="1"/><stop offset="0.35" stop-color="#aaa" stop-opacity="1"/><stop offset="0.7" stop-color="#666" stop-opacity="1"/><stop offset="1" stop-color="#444" stop-opacity="1"/></linearGradient><mask id="mk143" maskUnits="userSpaceOnUse" x="339" y="40" width="35" height="18.5"><rect x="339" y="40" width="35" height="18.5" fill="url(#lg144)"/></mask><clipPath id="cp145"><rect x="339" y="85" width="35" height="112"/></clipPath><linearGradient id="lg146" x1="0" y1="0" x2="0" y2="1"><stop offset="0" stop-color="#b4d34a" stop-opacity="1"/><stop offset="0.5" stop-color="#c0d740" stop-opacity="1"/><stop offset="1" stop-color="#c9da38" stop-opacity="1"/></linearGradient><linearGradient id="lg147" x1="0" y1="0" x2="0" y2="1"><stop offset="0" stop-color="#8cc860" stop-opacity="0.45"/><stop offset="1" stop-color="#a8d050" stop-opacity="0.3"/></linearGradient><filter id="nf148" x="339" y="85" width="35" height="112" filterUnits="userSpaceOnUse"><feTurbulence type="fractalNoise" baseFrequency="0.2 0.75" numOctaves="2" seed="21"/><feColorMatrix type="matrix" values="0 0 0 0 0.13  0 0 0 0 0.35  0 0 0 0 0.55  0.72 0 0 0 -0.288"/></filter><linearGradient id="lg150" x1="0" y1="0" x2="0" y2="1"><stop offset="0" stop-color="#fff" stop-opacity="1"/><stop offset="0.35" stop-color="#aaa" stop-opacity="1"/><stop offset="0.7" stop-color="#666" stop-opacity="1"/><stop offset="1" stop-color="#444" stop-opacity="1"/></linearGradient><mask id="mk149" maskUnits="userSpaceOnUse" x="339" y="85" width="35" height="112"><rect x="339" y="85" width="35" height="112" fill="url(#lg150)"/></mask><linearGradient id="lg152" x1="0" y1="0" x2="0" y2="1"><stop offset="0" stop-color="#fff" stop-opacity="1"/><stop offset="1" stop-color="#fff" stop-opacity="0.65"/></linearGradient><mask id="mk151" maskUnits="userSpaceOnUse" x="339" y="85" width="35" height="112"><polygon points="352.5,83 360.5,83 358.5,199 354.5,199" fill="url(#lg152)" filter="url(#bl19)"/></mask><filter id="nf153" x="339" y="85" width="35" height="112" filterUnits="userSpaceOnUse"><feTurbulence type="fractalNoise" baseFrequency="0.35 0.8" numOctaves="2" seed="121"/><feColorMatrix type="matrix" values="0 0 0 0 0.4  0 0 0 0 0.7  0 0 0 0 0.4  0.8 0 0 0 -0.32000000000000006"/></filter><clipPath id="cp154"><rect x="339" y="200" width="35" height="21"/></clipPath><linearGradient id="lg155" x1="0" y1="0" x2="0" y2="1"><stop offset="0" stop-color="#a8cf50" stop-opacity="1"/><stop offset="0.5" stop-color="#b6d446" stop-opacity="1"/><stop offset="1" stop-color="#c3d83c" stop-opacity="1"/></linearGradient><linearGradient id="lg156" x1="0" y1="0" x2="0" y2="1"><stop offset="0" stop-color="#58ac78" stop-opacity="0.7"/><stop offset="1" stop-color="#88c262" stop-opacity="0.5"/></linearGradient><filter id="nf157" x="339" y="200" width="35" height="21" filterUnits="userSpaceOnUse"><feTurbulence type="fractalNoise" baseFrequency="0.2 0.75" numOctaves="2" seed="31"/><feColorMatrix type="matrix" values="0 0 0 0 0.13  0 0 0 0 0.35  0 0 0 0 0.55  1.44 0 0 0 -0.576"/></filter><linearGradient id="lg159" x1="0" y1="0" x2="0" y2="1"><stop offset="0" stop-color="#fff" stop-opacity="1"/><stop offset="0.35" stop-color="#aaa" stop-opacity="1"/><stop offset="0.7" stop-color="#666" stop-opacity="1"/><stop offset="1" stop-color="#444" stop-opacity="1"/></linearGradient><mask id="mk158" maskUnits="userSpaceOnUse" x="339" y="200" width="35" height="21"><rect x="339" y="200" width="35" height="21" fill="url(#lg159)"/></mask><clipPath id="cp160"><rect x="384" y="40" width="35" height="18.5"/></clipPath><linearGradient id="lg161" x1="0" y1="0" x2="0" y2="1"><stop offset="0" stop-color="#a0cc54" stop-opacity="1"/><stop offset="1" stop-color="#b2d34a" stop-opacity="1"/></linearGradient><linearGradient id="lg162" x1="0" y1="0" x2="0" y2="1"><stop offset="0" stop-color="#387a98" stop-opacity="1"/><stop offset="1" stop-color="#408e92" stop-opacity="1"/></linearGradient><filter id="nf163" x="384" y="40" width="35" height="18.5" filterUnits="userSpaceOnUse"><feTurbulence type="fractalNoise" baseFrequency="0.2 0.75" numOctaves="2" seed="12"/><feColorMatrix type="matrix" values="0 0 0 0 0.13  0 0 0 0 0.35  0 0 0 0 0.55  1.44 0 0 0 -0.576"/></filter><linearGradient id="lg165" x1="0" y1="0" x2="0" y2="1"><stop offset="0" stop-color="#fff" stop-opacity="1"/><stop offset="0.35" stop-color="#aaa" stop-opacity="1"/><stop offset="0.7" stop-color="#666" stop-opacity="1"/><stop offset="1" stop-color="#444" stop-opacity="1"/></linearGradient><mask id="mk164" maskUnits="userSpaceOnUse" x="384" y="40" width="35" height="18.5"><rect x="384" y="40" width="35" height="18.5" fill="url(#lg165)"/></mask><clipPath id="cp166"><rect x="384" y="85" width="35" height="112"/></clipPath><linearGradient id="lg167" x1="0" y1="0" x2="0" y2="1"><stop offset="0" stop-color="#33788e" stop-opacity="1"/><stop offset="0.1" stop-color="#3a948a" stop-opacity="1"/><stop offset="0.3" stop-color="#58b07b" stop-opacity="1"/><stop offset="0.5" stop-color="#84c262" stop-opacity="1"/><stop offset="0.75" stop-color="#acd04a" stop-opacity="1"/><stop offset="1" stop-color="#c9da38" stop-opacity="1"/></linearGradient><linearGradient id="lg168" x1="0" y1="0" x2="0" y2="1"><stop offset="0" stop-color="#2f6690" stop-opacity="0.8"/><stop offset="0.4" stop-color="#34928a" stop-opacity="0.55"/><stop offset="1" stop-color="#58b07c" stop-opacity="0.35"/></linearGradient><linearGradient id="lg169" x1="0" y1="0" x2="0" y2="1"><stop offset="0" stop-color="#3b458a" stop-opacity="1"/><stop offset="0.3" stop-color="#2f6090" stop-opacity="0.9"/><stop offset="1" stop-color="#34928a" stop-opacity="0.8"/></linearGradient><filter id="nf170" x="384" y="85" width="35" height="112" filterUnits="userSpaceOnUse"><feTurbulence type="fractalNoise" baseFrequency="0.2 0.75" numOctaves="2" seed="22"/><feColorMatrix type="matrix" values="0 0 0 0 0.13  0 0 0 0 0.35  0 0 0 0 0.55  1.44 0 0 0 -0.576"/></filter><linearGradient id="lg172" x1="0" y1="0" x2="0" y2="1"><stop offset="0" stop-color="#fff" stop-opacity="1"/><stop offset="0.35" stop-color="#aaa" stop-opacity="1"/><stop offset="0.7" stop-color="#666" stop-opacity="1"/><stop offset="1" stop-color="#444" stop-opacity="1"/></linearGradient><mask id="mk171" maskUnits="userSpaceOnUse" x="384" y="85" width="35" height="112"><rect x="384" y="85" width="35" height="112" fill="url(#lg172)"/></mask><linearGradient id="lg174" x1="0" y1="0" x2="0" y2="1"><stop offset="0" stop-color="#fff" stop-opacity="1"/><stop offset="1" stop-color="#fff" stop-opacity="0.65"/></linearGradient><mask id="mk173" maskUnits="userSpaceOnUse" x="384" y="85" width="35" height="112"><polygon points="394.5,83 408.5,83 405.0,199 398.0,199" fill="url(#lg174)" filter="url(#bl19)"/></mask><filter id="nf175" x="384" y="85" width="35" height="112" filterUnits="userSpaceOnUse"><feTurbulence type="fractalNoise" baseFrequency="0.35 0.8" numOctaves="2" seed="122"/><feColorMatrix type="matrix" values="0 0 0 0 0.2  0 0 0 0 0.25  0 0 0 0 0.5  1.6 0 0 0 -0.6400000000000001"/></filter><clipPath id="cp176"><rect x="384" y="200" width="35" height="21"/></clipPath><linearGradient id="lg177" x1="0" y1="0" x2="0" y2="1"><stop offset="0" stop-color="#348a8c" stop-opacity="1"/><stop offset="0.5" stop-color="#52ac7e" stop-opacity="1"/><stop offset="1" stop-color="#aad04e" stop-opacity="1"/></linearGradient><linearGradient id="lg178" x1="0" y1="0" x2="0" y2="1"><stop offset="0" stop-color="#3a2f78" stop-opacity="1"/><stop offset="0.5" stop-color="#3a4a8a" stop-opacity="0.9"/><stop offset="1" stop-color="#2f7a8e" stop-opacity="0.7"/></linearGradient><filter id="nf179" x="384" y="200" width="35" height="21" filterUnits="userSpaceOnUse"><feTurbulence type="fractalNoise" baseFrequency="0.2 0.75" numOctaves="2" seed="32"/><feColorMatrix type="matrix" values="0 0 0 0 0.13  0 0 0 0 0.35  0 0 0 0 0.55  1.44 0 0 0 -0.576"/></filter><linearGradient id="lg181" x1="0" y1="0" x2="0" y2="1"><stop offset="0" stop-color="#fff" stop-opacity="1"/><stop offset="0.35" stop-color="#aaa" stop-opacity="1"/><stop offset="0.7" stop-color="#666" stop-opacity="1"/><stop offset="1" stop-color="#444" stop-opacity="1"/></linearGradient><mask id="mk180" maskUnits="userSpaceOnUse" x="384" y="200" width="35" height="21"><rect x="384" y="200" width="35" height="21" fill="url(#lg181)"/></mask><clipPath id="cp182"><rect x="429" y="40" width="35" height="18.5"/></clipPath><linearGradient id="lg183" x1="0" y1="0" x2="0" y2="1"><stop offset="0" stop-color="#b6d446" stop-opacity="1"/><stop offset="1" stop-color="#c2d83e" stop-opacity="1"/></linearGradient><linearGradient id="lg184" x1="0" y1="0" x2="0" y2="1"><stop offset="0" stop-color="#88c262" stop-opacity="1"/><stop offset="1" stop-color="#98c85a" stop-opacity="1"/></linearGradient><filter id="nf185" x="429" y="40" width="35" height="18.5" filterUnits="userSpaceOnUse"><feTurbulence type="fractalNoise" baseFrequency="0.2 0.75" numOctaves="2" seed="13"/><feColorMatrix type="matrix" values="0 0 0 0 0.13  0 0 0 0 0.35  0 0 0 0 0.55  1.44 0 0 0 -0.576"/></filter><linearGradient id="lg187" x1="0" y1="0" x2="0" y2="1"><stop offset="0" stop-color="#fff" stop-opacity="1"/><stop offset="0.35" stop-color="#aaa" stop-opacity="1"/><stop offset="0.7" stop-color="#666" stop-opacity="1"/><stop offset="1" stop-color="#444" stop-opacity="1"/></linearGradient><mask id="mk186" maskUnits="userSpaceOnUse" x="429" y="40" width="35" height="18.5"><rect x="429" y="40" width="35" height="18.5" fill="url(#lg187)"/></mask><clipPath id="cp188"><rect x="429" y="85" width="35" height="112"/></clipPath><linearGradient id="lg189" x1="0" y1="0" x2="0" y2="1"><stop offset="0" stop-color="#92c65e" stop-opacity="1"/><stop offset="0.3" stop-color="#a8cf50" stop-opacity="1"/><stop offset="1" stop-color="#cbdb36" stop-opacity="1"/></linearGradient><linearGradient id="lg190" x1="0" y1="0" x2="0" y2="1"><stop offset="0" stop-color="#5cb07c" stop-opacity="0.5"/><stop offset="1" stop-color="#90c660" stop-opacity="0.3"/></linearGradient><linearGradient id="lg191" x1="0" y1="0" x2="0" y2="1"><stop offset="0" stop-color="#3c9a88" stop-opacity="0.8"/><stop offset="0.5" stop-color="#58ac78" stop-opacity="0.7"/><stop offset="1" stop-color="#7abc68" stop-opacity="0.5"/></linearGradient><filter id="nf192" x="429" y="85" width="35" height="112" filterUnits="userSpaceOnUse"><feTurbulence type="fractalNoise" baseFrequency="0.2 0.75" numOctaves="2" seed="23"/><feColorMatrix type="matrix" values="0 0 0 0 0.13  0 0 0 0 0.35  0 0 0 0 0.55  1.152 0 0 0 -0.4608"/></filter><linearGradient id="lg194" x1="0" y1="0" x2="0" y2="1"><stop offset="0" stop-color="#fff" stop-opacity="1"/><stop offset="0.35" stop-color="#aaa" stop-opacity="1"/><stop offset="0.7" stop-color="#666" stop-opacity="1"/><stop offset="1" stop-color="#444" stop-opacity="1"/></linearGradient><mask id="mk193" maskUnits="userSpaceOnUse" x="429" y="85" width="35" height="112"><rect x="429" y="85" width="35" height="112" fill="url(#lg194)"/></mask><linearGradient id="lg196" x1="0" y1="0" x2="0" y2="1"><stop offset="0" stop-color="#fff" stop-opacity="1"/><stop offset="1" stop-color="#fff" stop-opacity="0.65"/></linearGradient><mask id="mk195" maskUnits="userSpaceOnUse" x="429" y="85" width="35" height="112"><polygon points="440.5,83 452.5,83 449.5,199 443.5,199" fill="url(#lg196)" filter="url(#bl19)"/></mask><filter id="nf197" x="429" y="85" width="35" height="112" filterUnits="userSpaceOnUse"><feTurbulence type="fractalNoise" baseFrequency="0.35 0.8" numOctaves="2" seed="123"/><feColorMatrix type="matrix" values="0 0 0 0 0.2  0 0 0 0 0.55  0 0 0 0 0.5  1.4 0 0 0 -0.5599999999999999"/></filter><clipPath id="cp198"><rect x="429" y="200" width="35" height="21"/></clipPath><linearGradient id="lg199" x1="0" y1="0" x2="0" y2="1"><stop offset="0" stop-color="#8cc460" stop-opacity="1"/><stop offset="0.5" stop-color="#a8cf50" stop-opacity="1"/><stop offset="1" stop-color="#c3d83c" stop-opacity="1"/></linearGradient><linearGradient id="lg200" x1="0" y1="0" x2="0" y2="1"><stop offset="0" stop-color="#3a9488" stop-opacity="0.8"/><stop offset="1" stop-color="#6cb870" stop-opacity="0.6"/></linearGradient><filter id="nf201" x="429" y="200" width="35" height="21" filterUnits="userSpaceOnUse"><feTurbulence type="fractalNoise" baseFrequency="0.2 0.75" numOctaves="2" seed="33"/><feColorMatrix type="matrix" values="0 0 0 0 0.13  0 0 0 0 0.35  0 0 0 0 0.55  1.44 0 0 0 -0.576"/></filter><linearGradient id="lg203" x1="0" y1="0" x2="0" y2="1"><stop offset="0" stop-color="#fff" stop-opacity="1"/><stop offset="0.35" stop-color="#aaa" stop-opacity="1"/><stop offset="0.7" stop-color="#666" stop-opacity="1"/><stop offset="1" stop-color="#444" stop-opacity="1"/></linearGradient><mask id="mk202" maskUnits="userSpaceOnUse" x="429" y="200" width="35" height="21"><rect x="429" y="200" width="35" height="21" fill="url(#lg203)"/></mask><clipPath id="cp204"><rect x="474" y="40" width="35" height="18.5"/></clipPath><linearGradient id="lg205" x1="0" y1="0" x2="0" y2="1"><stop offset="0" stop-color="#b0d24a" stop-opacity="1"/><stop offset="1" stop-color="#bed640" stop-opacity="1"/></linearGradient><linearGradient id="lg206" x1="0" y1="0" x2="0" y2="1"><stop offset="0" stop-color="#72bc6c" stop-opacity="1"/><stop offset="1" stop-color="#84c264" stop-opacity="1"/></linearGradient><filter id="nf207" x="474" y="40" width="35" height="18.5" filterUnits="userSpaceOnUse"><feTurbulence type="fractalNoise" baseFrequency="0.2 0.75" numOctaves="2" seed="14"/><feColorMatrix type="matrix" values="0 0 0 0 0.13  0 0 0 0 0.35  0 0 0 0 0.55  1.44 0 0 0 -0.576"/></filter><linearGradient id="lg209" x1="0" y1="0" x2="0" y2="1"><stop offset="0" stop-color="#fff" stop-opacity="1"/><stop offset="0.35" stop-color="#aaa" stop-opacity="1"/><stop offset="0.7" stop-color="#666" stop-opacity="1"/><stop offset="1" stop-color="#444" stop-opacity="1"/></linearGradient><mask id="mk208" maskUnits="userSpaceOnUse" x="474" y="40" width="35" height="18.5"><rect x="474" y="40" width="35" height="18.5" fill="url(#lg209)"/></mask><clipPath id="cp210"><rect x="474" y="85" width="35" height="112"/></clipPath><linearGradient id="lg211" x1="0" y1="0" x2="0" y2="1"><stop offset="0" stop-color="#88c362" stop-opacity="1"/><stop offset="0.3" stop-color="#a2cd52" stop-opacity="1"/><stop offset="1" stop-color="#c9da38" stop-opacity="1"/></linearGradient><linearGradient id="lg212" x1="0" y1="0" x2="0" y2="1"><stop offset="0" stop-color="#4aa884" stop-opacity="0.55"/><stop offset="1" stop-color="#88c262" stop-opacity="0.3"/></linearGradient><linearGradient id="lg213" x1="0" y1="0" x2="0" y2="1"><stop offset="0" stop-color="#2f8a8c" stop-opacity="0.9"/><stop offset="0.5" stop-color="#48a682" stop-opacity="0.8"/><stop offset="1" stop-color="#6cb870" stop-opacity="0.6"/></linearGradient><filter id="nf214" x="474" y="85" width="35" height="112" filterUnits="userSpaceOnUse"><feTurbulence type="fractalNoise" baseFrequency="0.2 0.75" numOctaves="2" seed="24"/><feColorMatrix type="matrix" values="0 0 0 0 0.13  0 0 0 0 0.35  0 0 0 0 0.55  1.152 0 0 0 -0.4608"/></filter><linearGradient id="lg216" x1="0" y1="0" x2="0" y2="1"><stop offset="0" stop-color="#fff" stop-opacity="1"/><stop offset="0.35" stop-color="#aaa" stop-opacity="1"/><stop offset="0.7" stop-color="#666" stop-opacity="1"/><stop offset="1" stop-color="#444" stop-opacity="1"/></linearGradient><mask id="mk215" maskUnits="userSpaceOnUse" x="474" y="85" width="35" height="112"><rect x="474" y="85" width="35" height="112" fill="url(#lg216)"/></mask><linearGradient id="lg218" x1="0" y1="0" x2="0" y2="1"><stop offset="0" stop-color="#fff" stop-opacity="1"/><stop offset="1" stop-color="#fff" stop-opacity="0.65"/></linearGradient><mask id="mk217" maskUnits="userSpaceOnUse" x="474" y="85" width="35" height="112"><polygon points="485.5,83 497.5,83 494.5,199 488.5,199" fill="url(#lg218)" filter="url(#bl19)"/></mask><filter id="nf219" x="474" y="85" width="35" height="112" filterUnits="userSpaceOnUse"><feTurbulence type="fractalNoise" baseFrequency="0.35 0.8" numOctaves="2" seed="124"/><feColorMatrix type="matrix" values="0 0 0 0 0.15  0 0 0 0 0.5  0 0 0 0 0.52  1.52 0 0 0 -0.6080000000000001"/></filter><clipPath id="cp220"><rect x="474" y="200" width="35" height="21"/></clipPath><linearGradient id="lg221" x1="0" y1="0" x2="0" y2="1"><stop offset="0" stop-color="#86c264" stop-opacity="1"/><stop offset="0.5" stop-color="#a4ce52" stop-opacity="1"/><stop offset="1" stop-color="#c0d63e" stop-opacity="1"/></linearGradient><linearGradient id="lg222" x1="0" y1="0" x2="0" y2="1"><stop offset="0" stop-color="#2f8a8c" stop-opacity="0.85"/><stop offset="1" stop-color="#5cb07c" stop-opacity="0.6"/></linearGradient><filter id="nf223" x="474" y="200" width="35" height="21" filterUnits="userSpaceOnUse"><feTurbulence type="fractalNoise" baseFrequency="0.2 0.75" numOctaves="2" seed="34"/><feColorMatrix type="matrix" values="0 0 0 0 0.13  0 0 0 0 0.35  0 0 0 0 0.55  1.44 0 0 0 -0.576"/></filter><linearGradient id="lg225" x1="0" y1="0" x2="0" y2="1"><stop offset="0" stop-color="#fff" stop-opacity="1"/><stop offset="0.35" stop-color="#aaa" stop-opacity="1"/><stop offset="0.7" stop-color="#666" stop-opacity="1"/><stop offset="1" stop-color="#444" stop-opacity="1"/></linearGradient><mask id="mk224" maskUnits="userSpaceOnUse" x="474" y="200" width="35" height="21"><rect x="474" y="200" width="35" height="21" fill="url(#lg225)"/></mask><linearGradient id="lg226" x1="0" y1="0" x2="1" y2="0"><stop offset="0" stop-color="#fde725" stop-opacity="1"/><stop offset="0.2" stop-color="#a0da39" stop-opacity="1"/><stop offset="0.4" stop-color="#4ac16d" stop-opacity="1"/><stop offset="0.55" stop-color="#1fa187" stop-opacity="1"/><stop offset="0.7" stop-color="#277f8e" stop-opacity="1"/><stop offset="0.85" stop-color="#365c8d" stop-opacity="1"/><stop offset="1" stop-color="#46327e" stop-opacity="1"/></linearGradient><clipPath id="cp227"><rect x="33.1" y="301.4" width="46.300000000000004" height="52.400000000000034"/></clipPath><clipPath id="cp228"><rect x="104.5" y="301.4" width="46.80000000000001" height="52.400000000000034"/></clipPath><clipPath id="cp229"><rect x="176.2" y="301.4" width="46.900000000000006" height="52.400000000000034"/></clipPath><clipPath id="cp230"><rect x="293.5" y="301.4" width="45.19999999999999" height="52.5"/></clipPath><clipPath id="cp231"><rect x="365.5" y="301.4" width="44.60000000000002" height="52.80000000000001"/></clipPath><clipPath id="cp232"><rect x="436.7" y="301.4" width="46.30000000000001" height="52.60000000000002"/></clipPath><clipPath id="cp233"><rect x="43.5" y="472.5" width="41.5" height="165.5"/></clipPath><linearGradient id="lg234" x1="0" y1="0" x2="0" y2="1"><stop offset="0" stop-color="#2c1230" stop-opacity="1"/><stop offset="0.035" stop-color="#2a1228" stop-opacity="1"/><stop offset="0.05" stop-color="#0c0a10" stop-opacity="1"/><stop offset="0.3" stop-color="#0e0e10" stop-opacity="1"/><stop offset="0.5" stop-color="#1a1a12" stop-opacity="1"/><stop offset="0.7" stop-color="#2c2c16" stop-opacity="1"/><stop offset="0.85" stop-color="#44441c" stop-opacity="1"/><stop offset="0.95" stop-color="#626226" stop-opacity="1"/><stop offset="1" stop-color="#76762c" stop-opacity="1"/></linearGradient><linearGradient id="lg235" x1="0" y1="0" x2="0" y2="1"><stop offset="0" stop-color="#707028" stop-opacity="0"/><stop offset="0.06" stop-color="#707028" stop-opacity="0"/><stop offset="0.2" stop-color="#707028" stop-opacity="0.2"/><stop offset="0.6" stop-color="#7a7a2c" stop-opacity="0.35"/><stop offset="1" stop-color="#8a8a30" stop-opacity="0.45"/></linearGradient><filter id="bl236" x="-100%" y="-5%" width="300%" height="110%"><feGaussianBlur stdDeviation="2.5 0.3"/></filter><linearGradient id="lg237" x1="0" y1="0" x2="0" y2="1"><stop offset="0" stop-color="#a8b040" stop-opacity="0"/><stop offset="0.05" stop-color="#a8b040" stop-opacity="0"/><stop offset="0.08" stop-color="#a8b040" stop-opacity="0.2"/><stop offset="0.2" stop-color="#b0b440" stop-opacity="0.4"/><stop offset="0.5" stop-color="#b8b840" stop-opacity="0.55"/><stop offset="0.8" stop-color="#c8c844" stop-opacity="0.75"/><stop offset="1" stop-color="#d8d848" stop-opacity="0.9"/></linearGradient><filter id="bl238" x="-100%" y="-5%" width="300%" height="110%"><feGaussianBlur stdDeviation="1.1 0.3"/></filter><filter id="nf239" x="43.5" y="472.5" width="41.5" height="165.5" filterUnits="userSpaceOnUse"><feTurbulence type="fractalNoise" baseFrequency="0.08 1.1" numOctaves="2" seed="60"/><feColorMatrix type="matrix" values="0 0 0 0 0.0  0 0 0 0 0.0  0 0 0 0 0.0  0.72 0 0 0 -0.288"/></filter><linearGradient id="lg241" x1="0" y1="0" x2="0" y2="1"><stop offset="0" stop-color="#000" stop-opacity="1"/><stop offset="0.1" stop-color="#666" stop-opacity="1"/><stop offset="0.5" stop-color="#aaa" stop-opacity="1"/><stop offset="1" stop-color="#ddd" stop-opacity="1"/></linearGradient><mask id="mk240" maskUnits="userSpaceOnUse" x="43.5" y="472.5" width="41.5" height="165.5"><rect x="43.5" y="472.5" width="41.5" height="165.5" fill="url(#lg241)"/></mask><clipPath id="cp242"><rect x="94" y="472.5" width="41.5" height="165.5"/></clipPath><linearGradient id="lg243" x1="0" y1="0" x2="0" y2="1"><stop offset="0" stop-color="#26122a" stop-opacity="1"/><stop offset="0.025" stop-color="#221024" stop-opacity="1"/><stop offset="0.04" stop-color="#0e0c0e" stop-opacity="1"/><stop offset="0.3" stop-color="#141410" stop-opacity="1"/><stop offset="0.6" stop-color="#1e1e14" stop-opacity="1"/><stop offset="0.9" stop-color="#2c2c16" stop-opacity="1"/><stop offset="1" stop-color="#363618" stop-opacity="1"/></linearGradient><linearGradient id="lg244" x1="0" y1="0" x2="0" y2="1"><stop offset="0" stop-color="#505020" stop-opacity="0"/><stop offset="0.06" stop-color="#505020" stop-opacity="0"/><stop offset="0.2" stop-color="#505020" stop-opacity="0.25"/><stop offset="1" stop-color="#606024" stop-opacity="0.35"/></linearGradient><linearGradient id="lg245" x1="0" y1="0" x2="0" y2="1"><stop offset="0" stop-color="#a0a040" stop-opacity="0"/><stop offset="0.04" stop-color="#a0a040" stop-opacity="0"/><stop offset="0.07" stop-color="#a0a040" stop-opacity="0.3"/><stop offset="0.5" stop-color="#a8a840" stop-opacity="0.55"/><stop offset="1" stop-color="#b0b044" stop-opacity="0.65"/></linearGradient><filter id="nf246" x="94" y="472.5" width="41.5" height="165.5" filterUnits="userSpaceOnUse"><feTurbulence type="fractalNoise" baseFrequency="0.08 1.1" numOctaves="2" seed="61"/><feColorMatrix type="matrix" values="0 0 0 0 0.0  0 0 0 0 0.0  0 0 0 0 0.0  0.88 0 0 0 -0.35200000000000004"/></filter><linearGradient id="lg248" x1="0" y1="0" x2="0" y2="1"><stop offset="0" stop-color="#000" stop-opacity="1"/><stop offset="0.1" stop-color="#666" stop-opacity="1"/><stop offset="0.5" stop-color="#aaa" stop-opacity="1"/><stop offset="1" stop-color="#ddd" stop-opacity="1"/></linearGradient><mask id="mk247" maskUnits="userSpaceOnUse" x="94" y="472.5" width="41.5" height="165.5"><rect x="94" y="472.5" width="41.5" height="165.5" fill="url(#lg248)"/></mask><clipPath id="cp249"><rect x="144.4" y="472.5" width="41.29999999999998" height="165.5"/></clipPath><linearGradient id="lg250" x1="0" y1="0" x2="0" y2="1"><stop offset="0" stop-color="#3a1a40" stop-opacity="1"/><stop offset="0.06" stop-color="#2e1634" stop-opacity="1"/><stop offset="0.15" stop-color="#120c12" stop-opacity="1"/><stop offset="0.3" stop-color="#0e0e0e" stop-opacity="1"/><stop offset="0.55" stop-color="#1a1a10" stop-opacity="1"/><stop offset="0.75" stop-color="#2c2c16" stop-opacity="1"/><stop offset="0.88" stop-color="#4a4a1e" stop-opacity="1"/><stop offset="0.93" stop-color="#6a6a26" stop-opacity="1"/><stop offset="0.97" stop-color="#9a9a32" stop-opacity="1"/><stop offset="1" stop-color="#a8a834" stop-opacity="1"/></linearGradient><linearGradient id="lg251" x1="0" y1="0" x2="0" y2="1"><stop offset="0" stop-color="#606024" stop-opacity="0"/><stop offset="0.25" stop-color="#606024" stop-opacity="0"/><stop offset="0.5" stop-color="#606024" stop-opacity="0.2"/><stop offset="1" stop-color="#707028" stop-opacity="0.35"/></linearGradient><linearGradient id="lg252" x1="0" y1="0" x2="0" y2="1"><stop offset="0" stop-color="#b0b040" stop-opacity="0"/><stop offset="0.2" stop-color="#b0b040" stop-opacity="0"/><stop offset="0.35" stop-color="#b0b040" stop-opacity="0.1"/><stop offset="0.6" stop-color="#b8b840" stop-opacity="0.28"/><stop offset="0.85" stop-color="#c0c044" stop-opacity="0.45"/><stop offset="1" stop-color="#d0d048" stop-opacity="0.55"/></linearGradient><filter id="bl253" x="-100%" y="-5%" width="300%" height="110%"><feGaussianBlur stdDeviation="1.8 0.3"/></filter><filter id="nf254" x="144.4" y="472.5" width="41.29999999999998" height="165.5" filterUnits="userSpaceOnUse"><feTurbulence type="fractalNoise" baseFrequency="0.08 1.1" numOctaves="2" seed="62"/><feColorMatrix type="matrix" values="0 0 0 0 0.0  0 0 0 0 0.0  0 0 0 0 0.0  0.72 0 0 0 -0.288"/></filter><linearGradient id="lg256" x1="0" y1="0" x2="0" y2="1"><stop offset="0" stop-color="#000" stop-opacity="1"/><stop offset="0.1" stop-color="#666" stop-opacity="1"/><stop offset="0.5" stop-color="#aaa" stop-opacity="1"/><stop offset="1" stop-color="#ddd" stop-opacity="1"/></linearGradient><mask id="mk255" maskUnits="userSpaceOnUse" x="144.4" y="472.5" width="41.29999999999998" height="165.5"><rect x="144.4" y="472.5" width="41.29999999999998" height="165.5" fill="url(#lg256)"/></mask><linearGradient id="lg257" x1="0" y1="0" x2="0" y2="1"><stop offset="0" stop-color="#7a3c78" stop-opacity="1"/><stop offset="0.25" stop-color="#4a2448" stop-opacity="1"/><stop offset="0.5" stop-color="#0a0808" stop-opacity="1"/><stop offset="0.75" stop-color="#6a6a28" stop-opacity="1"/><stop offset="1" stop-color="#e8e840" stop-opacity="1"/></linearGradient></defs><rect x="0" y="0" width="520" height="669" fill="#fff" stroke="none" stroke-width="1"/><text x="0" y="0" font-size="12.21" font-weight="bold" fill="#111" transform="translate(7.30 17.3) scale(1.021 1)">A</text><text x="140.5" y="18.75" font-size="9.3" fill="#222" text-anchor="middle" textLength="9.6" lengthAdjust="spacingAndGlyphs">RL</text><line x1="33" y1="23.35" x2="248" y2="23.35" stroke="#333" stroke-width="1"/><text x="50.5" y="31.6" font-size="7.3" fill="#222" text-anchor="middle" textLength="10.33" lengthAdjust="spacingAndGlyphs">WT</text><rect x="33.5" y="35.5" width="34" height="3.5" fill="#3f9a3c" stroke="#222" stroke-width="0.7"/><g clip-path="url(#cp1)"><rect x="33" y="40" width="35" height="18.5" fill="url(#lg2)" stroke="none" stroke-width="1"/><rect x="45.166666666666664" y="38" width="10.666666666666666" height="22.5" fill="url(#lg3)" filter="url(#bl4)"/><g mask="url(#mk6)"><rect x="33" y="40" width="35" height="18.5" filter="url(#nf5)"/></g></g><rect x="33.5" y="40.5" width="34" height="17.5" fill="none" stroke="#1a1a1a" stroke-width="1"/><line x1="33.5" y1="58.5" x2="33.5" y2="60.5" stroke="#222" stroke-width="0.8"/><text x="35.7" y="64.6" font-size="6.9" fill="#222" text-anchor="end" transform="rotate(-45 35.7 64.6)">−20kb</text><line x1="45.166666666666664" y1="58.5" x2="45.166666666666664" y2="60.5" stroke="#222" stroke-width="0.8"/><text x="47.36666666666667" y="64.6" font-size="6.9" fill="#222" text-anchor="end" transform="rotate(-45 47.36666666666667 64.6)">start</text><line x1="56.83333333333333" y1="58.5" x2="56.83333333333333" y2="60.5" stroke="#222" stroke-width="0.8"/><text x="59.03333333333333" y="64.6" font-size="6.9" fill="#222" text-anchor="end" transform="rotate(-45 59.03333333333333 64.6)">end</text><line x1="67.5" y1="58.5" x2="67.5" y2="60.5" stroke="#222" stroke-width="0.8"/><text x="70.7" y="64.6" font-size="6.9" fill="#222" text-anchor="end" transform="rotate(-45 70.7 64.6)">+20kb</text><g clip-path="url(#cp8)"><rect x="33" y="85" width="35" height="112" fill="url(#lg9)" stroke="none" stroke-width="1"/><polygon points="44.5,83 56.5,83 53.5,199 47.5,199" fill="url(#lg10)" filter="url(#bl11)"/><polygon points="48.5,83 52.5,83 51.7,199 49.3,199" fill="url(#lg12)" filter="url(#bl13)"/><g mask="url(#mk15)"><rect x="33" y="85" width="35" height="112" filter="url(#nf14)"/></g><g mask="url(#mk17)"><rect x="33" y="85" width="35" height="112" filter="url(#nf20)"/></g></g><rect x="33.5" y="85.5" width="34" height="111" fill="none" stroke="#1a1a1a" stroke-width="1"/><g clip-path="url(#cp21)"><rect x="33" y="200" width="35" height="21" fill="url(#lg22)" stroke="none" stroke-width="1"/><polygon points="48.3,198 52.7,198 51.2,223 49.8,223" fill="url(#lg23)" filter="url(#bl24)"/><g mask="url(#mk26)"><rect x="33" y="200" width="35" height="21" filter="url(#nf25)"/></g></g><rect x="33.5" y="200.5" width="34" height="20" fill="none" stroke="#1a1a1a" stroke-width="1"/><line x1="33.5" y1="221" x2="33.5" y2="223" stroke="#222" stroke-width="0.8"/><text x="35.8" y="227.2" font-size="7.2" fill="#222" text-anchor="end" transform="rotate(-45 35.8 227.2)">−10kb</text><line x1="50.5" y1="221" x2="50.5" y2="223" stroke="#222" stroke-width="0.8"/><text x="50.5" y="228.9" font-size="6.9" fill="#222" text-anchor="middle">center</text><line x1="67.5" y1="221" x2="67.5" y2="223" stroke="#222" stroke-width="0.8"/><text x="70.8" y="227.2" font-size="7.2" fill="#222" text-anchor="end" transform="rotate(-45 70.8 227.2)">+10kb</text><text x="95.5" y="31.6" font-size="7.3" fill="#222" text-anchor="middle" textLength="9.6" lengthAdjust="spacingAndGlyphs">KO</text><rect x="78.5" y="35.5" width="34" height="3.5" fill="#a3192e" stroke="#222" stroke-width="0.7"/><g clip-path="url(#cp28)"><rect x="78" y="40" width="35" height="18.5" fill="url(#lg29)" stroke="none" stroke-width="1"/><rect x="90.16666666666667" y="38" width="10.666666666666666" height="22.5" fill="url(#lg30)" filter="url(#bl4)"/><g mask="url(#mk32)"><rect x="78" y="40" width="35" height="18.5" filter="url(#nf31)"/></g></g><rect x="78.5" y="40.5" width="34" height="17.5" fill="none" stroke="#1a1a1a" stroke-width="1"/><line x1="78.5" y1="58.5" x2="78.5" y2="60.5" stroke="#222" stroke-width="0.8"/><text x="80.7" y="64.6" font-size="6.9" fill="#222" text-anchor="end" transform="rotate(-45 80.7 64.6)">−20kb</text><line x1="90.16666666666667" y1="58.5" x2="90.16666666666667" y2="60.5" stroke="#222" stroke-width="0.8"/><text x="92.36666666666667" y="64.6" font-size="6.9" fill="#222" text-anchor="end" transform="rotate(-45 92.36666666666667 64.6)">start</text><line x1="101.83333333333333" y1="58.5" x2="101.83333333333333" y2="60.5" stroke="#222" stroke-width="0.8"/><text x="104.03333333333333" y="64.6" font-size="6.9" fill="#222" text-anchor="end" transform="rotate(-45 104.03333333333333 64.6)">end</text><line x1="112.5" y1="58.5" x2="112.5" y2="60.5" stroke="#222" stroke-width="0.8"/><text x="115.7" y="64.6" font-size="6.9" fill="#222" text-anchor="end" transform="rotate(-45 115.7 64.6)">+20kb</text><g clip-path="url(#cp34)"><rect x="78" y="85" width="35" height="112" fill="url(#lg35)" stroke="none" stroke-width="1"/><polygon points="88.5,83 102.5,83 98.7,199 92.3,199" fill="url(#lg36)" filter="url(#bl11)"/><polygon points="93.1,83 97.9,83 96.9,199 94.1,199" fill="url(#lg37)" filter="url(#bl13)"/><g mask="url(#mk39)"><rect x="78" y="85" width="35" height="112" filter="url(#nf38)"/></g><g mask="url(#mk41)"><rect x="78" y="85" width="35" height="112" filter="url(#nf43)"/></g></g><rect x="78.5" y="85.5" width="34" height="111" fill="none" stroke="#1a1a1a" stroke-width="1"/><g clip-path="url(#cp44)"><rect x="78" y="200" width="35" height="21" fill="url(#lg45)" stroke="none" stroke-width="1"/><polygon points="93.1,198 97.9,198 96.3,223 94.7,223" fill="url(#lg46)" filter="url(#bl24)"/><g mask="url(#mk48)"><rect x="78" y="200" width="35" height="21" filter="url(#nf47)"/></g></g><rect x="78.5" y="200.5" width="34" height="20" fill="none" stroke="#1a1a1a" stroke-width="1"/><line x1="78.5" y1="221" x2="78.5" y2="223" stroke="#222" stroke-width="0.8"/><text x="80.8" y="227.2" font-size="7.2" fill="#222" text-anchor="end" transform="rotate(-45 80.8 227.2)">−10kb</text><line x1="95.5" y1="221" x2="95.5" y2="223" stroke="#222" stroke-width="0.8"/><text x="95.5" y="228.9" font-size="6.9" fill="#222" text-anchor="middle">center</text><line x1="112.5" y1="221" x2="112.5" y2="223" stroke="#222" stroke-width="0.8"/><text x="115.8" y="227.2" font-size="7.2" fill="#222" text-anchor="end" transform="rotate(-45 115.8 227.2)">+10kb</text><text x="140.5" y="31.6" font-size="7.3" fill="#222" text-anchor="middle" textLength="24.37" lengthAdjust="spacingAndGlyphs">R1446C</text><rect x="123.5" y="35.5" width="34" height="3.5" fill="#e79a27" stroke="#222" stroke-width="0.7"/><g clip-path="url(#cp50)"><rect x="123" y="40" width="35" height="18.5" fill="url(#lg51)" stroke="none" stroke-width="1"/><rect x="135.16666666666666" y="38" width="10.666666666666666" height="22.5" fill="url(#lg52)" filter="url(#bl4)"/><g mask="url(#mk54)"><rect x="123" y="40" width="35" height="18.5" filter="url(#nf53)"/></g></g><rect x="123.5" y="40.5" width="34" height="17.5" fill="none" stroke="#1a1a1a" stroke-width="1"/><line x1="123.5" y1="58.5" x2="123.5" y2="60.5" stroke="#222" stroke-width="0.8"/><text x="125.7" y="64.6" font-size="6.9" fill="#222" text-anchor="end" transform="rotate(-45 125.7 64.6)">−20kb</text><line x1="135.16666666666666" y1="58.5" x2="135.16666666666666" y2="60.5" stroke="#222" stroke-width="0.8"/><text x="137.36666666666665" y="64.6" font-size="6.9" fill="#222" text-anchor="end" transform="rotate(-45 137.36666666666665 64.6)">start</text><line x1="146.83333333333334" y1="58.5" x2="146.83333333333334" y2="60.5" stroke="#222" stroke-width="0.8"/><text x="149.03333333333333" y="64.6" font-size="6.9" fill="#222" text-anchor="end" transform="rotate(-45 149.03333333333333 64.6)">end</text><line x1="157.5" y1="58.5" x2="157.5" y2="60.5" stroke="#222" stroke-width="0.8"/><text x="160.7" y="64.6" font-size="6.9" fill="#222" text-anchor="end" transform="rotate(-45 160.7 64.6)">+20kb</text><g clip-path="url(#cp56)"><rect x="123" y="85" width="35" height="112" fill="url(#lg57)" stroke="none" stroke-width="1"/><polygon points="135.0,83 146.0,83 143.3,199 137.7,199" fill="url(#lg58)" filter="url(#bl11)"/><polygon points="139.0,83 142.0,83 141.5,199 139.5,199" fill="url(#lg59)" filter="url(#bl13)"/><g mask="url(#mk61)"><rect x="123" y="85" width="35" height="112" filter="url(#nf60)"/></g><g mask="url(#mk63)"><rect x="123" y="85" width="35" height="112" filter="url(#nf65)"/></g></g><rect x="123.5" y="85.5" width="34" height="111" fill="none" stroke="#1a1a1a" stroke-width="1"/><g clip-path="url(#cp66)"><rect x="123" y="200" width="35" height="21" fill="url(#lg67)" stroke="none" stroke-width="1"/><polygon points="138.8,198 142.2,198 141.2,223 139.8,223" fill="url(#lg68)" filter="url(#bl24)"/><g mask="url(#mk70)"><rect x="123" y="200" width="35" height="21" filter="url(#nf69)"/></g></g><rect x="123.5" y="200.5" width="34" height="20" fill="none" stroke="#1a1a1a" stroke-width="1"/><line x1="123.5" y1="221" x2="123.5" y2="223" stroke="#222" stroke-width="0.8"/><text x="125.8" y="227.2" font-size="7.2" fill="#222" text-anchor="end" transform="rotate(-45 125.8 227.2)">−10kb</text><line x1="140.5" y1="221" x2="140.5" y2="223" stroke="#222" stroke-width="0.8"/><text x="140.5" y="228.9" font-size="6.9" fill="#222" text-anchor="middle">center</text><line x1="157.5" y1="221" x2="157.5" y2="223" stroke="#222" stroke-width="0.8"/><text x="160.8" y="227.2" font-size="7.2" fill="#222" text-anchor="end" transform="rotate(-45 160.8 227.2)">+10kb</text><text x="185.5" y="31.6" font-size="7.3" fill="#222" text-anchor="middle" textLength="24.01" lengthAdjust="spacingAndGlyphs">Y1482N</text><rect x="168.5" y="35.5" width="34" height="3.5" fill="#3aa5d8" stroke="#222" stroke-width="0.7"/><g clip-path="url(#cp72)"><rect x="168" y="40" width="35" height="18.5" fill="url(#lg73)" stroke="none" stroke-width="1"/><rect x="180.16666666666666" y="38" width="10.666666666666666" height="22.5" fill="url(#lg74)" filter="url(#bl4)"/><g mask="url(#mk76)"><rect x="168" y="40" width="35" height="18.5" filter="url(#nf75)"/></g></g><rect x="168.5" y="40.5" width="34" height="17.5" fill="none" stroke="#1a1a1a" stroke-width="1"/><line x1="168.5" y1="58.5" x2="168.5" y2="60.5" stroke="#222" stroke-width="0.8"/><text x="170.7" y="64.6" font-size="6.9" fill="#222" text-anchor="end" transform="rotate(-45 170.7 64.6)">−20kb</text><line x1="180.16666666666666" y1="58.5" x2="180.16666666666666" y2="60.5" stroke="#222" stroke-width="0.8"/><text x="182.36666666666665" y="64.6" font-size="6.9" fill="#222" text-anchor="end" transform="rotate(-45 182.36666666666665 64.6)">start</text><line x1="191.83333333333334" y1="58.5" x2="191.83333333333334" y2="60.5" stroke="#222" stroke-width="0.8"/><text x="194.03333333333333" y="64.6" font-size="6.9" fill="#222" text-anchor="end" transform="rotate(-45 194.03333333333333 64.6)">end</text><line x1="202.5" y1="58.5" x2="202.5" y2="60.5" stroke="#222" stroke-width="0.8"/><text x="205.7" y="64.6" font-size="6.9" fill="#222" text-anchor="end" transform="rotate(-45 205.7 64.6)">+20kb</text><g clip-path="url(#cp78)"><rect x="168" y="85" width="35" height="112" fill="url(#lg79)" stroke="none" stroke-width="1"/><polygon points="180.0,83 191.0,83 188.3,199 182.7,199" fill="url(#lg80)" filter="url(#bl11)"/><polygon points="184.0,83 187.0,83 186.5,199 184.5,199" fill="url(#lg81)" filter="url(#bl13)"/><g mask="url(#mk83)"><rect x="168" y="85" width="35" height="112" filter="url(#nf82)"/></g><g mask="url(#mk85)"><rect x="168" y="85" width="35" height="112" filter="url(#nf87)"/></g></g><rect x="168.5" y="85.5" width="34" height="111" fill="none" stroke="#1a1a1a" stroke-width="1"/><g clip-path="url(#cp88)"><rect x="168" y="200" width="35" height="21" fill="url(#lg89)" stroke="none" stroke-width="1"/><polygon points="183.7,198 187.3,198 186.2,223 184.8,223" fill="url(#lg90)" filter="url(#bl24)"/><g mask="url(#mk92)"><rect x="168" y="200" width="35" height="21" filter="url(#nf91)"/></g></g><rect x="168.5" y="200.5" width="34" height="20" fill="none" stroke="#1a1a1a" stroke-width="1"/><line x1="168.5" y1="221" x2="168.5" y2="223" stroke="#222" stroke-width="0.8"/><text x="170.8" y="227.2" font-size="7.2" fill="#222" text-anchor="end" transform="rotate(-45 170.8 227.2)">−10kb</text><line x1="185.5" y1="221" x2="185.5" y2="223" stroke="#222" stroke-width="0.8"/><text x="185.5" y="228.9" font-size="6.9" fill="#222" text-anchor="middle">center</text><line x1="202.5" y1="221" x2="202.5" y2="223" stroke="#222" stroke-width="0.8"/><text x="205.8" y="227.2" font-size="7.2" fill="#222" text-anchor="end" transform="rotate(-45 205.8 227.2)">+10kb</text><text x="230.5" y="31.6" font-size="7.3" fill="#222" text-anchor="middle" textLength="24.01" lengthAdjust="spacingAndGlyphs">Y1503C</text><rect x="213.5" y="35.5" width="34" height="3.5" fill="#8a86b8" stroke="#222" stroke-width="0.7"/><g clip-path="url(#cp94)"><rect x="213" y="40" width="35" height="18.5" fill="url(#lg95)" stroke="none" stroke-width="1"/><rect x="225.16666666666666" y="38" width="10.666666666666666" height="22.5" fill="url(#lg96)" filter="url(#bl4)"/><g mask="url(#mk98)"><rect x="213" y="40" width="35" height="18.5" filter="url(#nf97)"/></g></g><rect x="213.5" y="40.5" width="34" height="17.5" fill="none" stroke="#1a1a1a" stroke-width="1"/><line x1="213.5" y1="58.5" x2="213.5" y2="60.5" stroke="#222" stroke-width="0.8"/><text x="215.7" y="64.6" font-size="6.9" fill="#222" text-anchor="end" transform="rotate(-45 215.7 64.6)">−20kb</text><line x1="225.16666666666666" y1="58.5" x2="225.16666666666666" y2="60.5" stroke="#222" stroke-width="0.8"/><text x="227.36666666666665" y="64.6" font-size="6.9" fill="#222" text-anchor="end" transform="rotate(-45 227.36666666666665 64.6)">start</text><line x1="236.83333333333334" y1="58.5" x2="236.83333333333334" y2="60.5" stroke="#222" stroke-width="0.8"/><text x="239.03333333333333" y="64.6" font-size="6.9" fill="#222" text-anchor="end" transform="rotate(-45 239.03333333333333 64.6)">end</text><line x1="247.5" y1="58.5" x2="247.5" y2="60.5" stroke="#222" stroke-width="0.8"/><text x="250.7" y="64.6" font-size="6.9" fill="#222" text-anchor="end" transform="rotate(-45 250.7 64.6)">+20kb</text><g clip-path="url(#cp100)"><rect x="213" y="85" width="35" height="112" fill="url(#lg101)" stroke="none" stroke-width="1"/><polygon points="225.0,83 236.0,83 233.3,199 227.7,199" fill="url(#lg102)" filter="url(#bl11)"/><polygon points="228.9,83 232.1,83 231.6,199 229.4,199" fill="url(#lg103)" filter="url(#bl13)"/><g mask="url(#mk105)"><rect x="213" y="85" width="35" height="112" filter="url(#nf104)"/></g><g mask="url(#mk107)"><rect x="213" y="85" width="35" height="112" filter="url(#nf109)"/></g></g><rect x="213.5" y="85.5" width="34" height="111" fill="none" stroke="#1a1a1a" stroke-width="1"/><g clip-path="url(#cp110)"><rect x="213" y="200" width="35" height="21" fill="url(#lg111)" stroke="none" stroke-width="1"/><polygon points="228.7,198 232.3,198 231.2,223 229.8,223" fill="url(#lg112)" filter="url(#bl24)"/><g mask="url(#mk114)"><rect x="213" y="200" width="35" height="21" filter="url(#nf113)"/></g></g><rect x="213.5" y="200.5" width="34" height="20" fill="none" stroke="#1a1a1a" stroke-width="1"/><line x1="213.5" y1="221" x2="213.5" y2="223" stroke="#222" stroke-width="0.8"/><text x="215.8" y="227.2" font-size="7.2" fill="#222" text-anchor="end" transform="rotate(-45 215.8 227.2)">−10kb</text><line x1="230.5" y1="221" x2="230.5" y2="223" stroke="#222" stroke-width="0.8"/><text x="230.5" y="228.9" font-size="6.9" fill="#222" text-anchor="middle">center</text><line x1="247.5" y1="221" x2="247.5" y2="223" stroke="#222" stroke-width="0.8"/><text x="250.8" y="227.2" font-size="7.2" fill="#222" text-anchor="end" transform="rotate(-45 250.8 227.2)">+10kb</text><text x="14.899999999999999" y="49.2" font-size="8.2" fill="#222" text-anchor="middle" textLength="50.9" lengthAdjust="spacingAndGlyphs" transform="rotate(-90 14.899999999999999 49.2)">Super-enhancer</text><text x="24.1" y="48" font-size="7.3" fill="#222" text-anchor="middle" textLength="29.3" lengthAdjust="spacingAndGlyphs" transform="rotate(-90 24.1 48)">(n = 146)</text><text x="14.899999999999999" y="141.0" font-size="8.2" fill="#222" text-anchor="middle" textLength="29.6" lengthAdjust="spacingAndGlyphs" transform="rotate(-90 14.899999999999999 141.0)">Enhancer</text><text x="24.6" y="141.2" font-size="7.6" fill="#222" text-anchor="middle" textLength="36" lengthAdjust="spacingAndGlyphs" transform="rotate(-90 24.6 141.2)">(n = 1345)</text><text x="14.899999999999999" y="210.5" font-size="8.2" fill="#222" text-anchor="middle" textLength="30.4" lengthAdjust="spacingAndGlyphs" transform="rotate(-90 14.899999999999999 210.5)">Promoter</text><text x="24.1" y="210" font-size="7.3" fill="#222" text-anchor="middle" textLength="31.5" lengthAdjust="spacingAndGlyphs" transform="rotate(-90 24.1 210)">(n = 229)</text><text x="140" y="251.2" font-size="6.3" fill="#333" text-anchor="end" textLength="46.5" lengthAdjust="spacingAndGlyphs">EP300 RPKM (RL)</text><rect x="143.8" y="246" width="43.5" height="5.5" fill="url(#lg116)" stroke="#222" stroke-width="0.5"/><line x1="153.8" y1="251.5" x2="153.8" y2="253" stroke="#222" stroke-width="0.5"/><text x="153.8" y="261" font-size="6.8" fill="#222" text-anchor="middle">4</text><line x1="163.6" y1="251.5" x2="163.6" y2="253" stroke="#222" stroke-width="0.5"/><text x="163.6" y="261" font-size="6.8" fill="#222" text-anchor="middle">8</text><line x1="173.4" y1="251.5" x2="173.4" y2="253" stroke="#222" stroke-width="0.5"/><text x="173.4" y="261" font-size="6.8" fill="#222" text-anchor="middle">12</text><line x1="183.2" y1="251.5" x2="183.2" y2="253" stroke="#222" stroke-width="0.5"/><text x="183.2" y="261" font-size="6.8" fill="#222" text-anchor="middle">16</text><text x="0" y="0" font-size="13.18" font-weight="bold" fill="#111" transform="translate(268.30 17.6) scale(0.851 1)">C</text><text x="401.5" y="18.75" font-size="9.3" fill="#222" text-anchor="middle" textLength="9.6" lengthAdjust="spacingAndGlyphs">RL</text><line x1="294" y1="23.35" x2="509" y2="23.35" stroke="#333" stroke-width="1"/><text x="311.5" y="31.6" font-size="7.3" fill="#222" text-anchor="middle" textLength="10.33" lengthAdjust="spacingAndGlyphs">WT</text><rect x="294.5" y="35.5" width="34" height="3.5" fill="#3f9a3c" stroke="#222" stroke-width="0.7"/><g clip-path="url(#cp117)"><rect x="294" y="40" width="35" height="18.5" fill="url(#lg118)" stroke="none" stroke-width="1"/><rect x="306.1666666666667" y="38" width="10.666666666666666" height="22.5" fill="url(#lg119)" filter="url(#bl4)"/><g mask="url(#mk121)"><rect x="294" y="40" width="35" height="18.5" filter="url(#nf120)"/></g></g><rect x="294.5" y="40.5" width="34" height="17.5" fill="none" stroke="#1a1a1a" stroke-width="1"/><line x1="294.5" y1="58.5" x2="294.5" y2="60.5" stroke="#222" stroke-width="0.8"/><text x="296.7" y="64.6" font-size="6.9" fill="#222" text-anchor="end" transform="rotate(-45 296.7 64.6)">−20kb</text><line x1="306.1666666666667" y1="58.5" x2="306.1666666666667" y2="60.5" stroke="#222" stroke-width="0.8"/><text x="308.3666666666667" y="64.6" font-size="6.9" fill="#222" text-anchor="end" transform="rotate(-45 308.3666666666667 64.6)">start</text><line x1="317.8333333333333" y1="58.5" x2="317.8333333333333" y2="60.5" stroke="#222" stroke-width="0.8"/><text x="320.0333333333333" y="64.6" font-size="6.9" fill="#222" text-anchor="end" transform="rotate(-45 320.0333333333333 64.6)">end</text><line x1="328.5" y1="58.5" x2="328.5" y2="60.5" stroke="#222" stroke-width="0.8"/><text x="331.7" y="64.6" font-size="6.9" fill="#222" text-anchor="end" transform="rotate(-45 331.7 64.6)">+20kb</text><g clip-path="url(#cp123)"><rect x="294" y="85" width="35" height="112" fill="url(#lg124)" stroke="none" stroke-width="1"/><polygon points="303.5,83 319.5,83 314.5,199 308.5,199" fill="url(#lg125)" filter="url(#bl11)"/><polygon points="308.7,83 314.3,83 312.7,199 310.3,199" fill="url(#lg126)" filter="url(#bl13)"/><g mask="url(#mk128)"><rect x="294" y="85" width="35" height="112" filter="url(#nf127)"/></g><g mask="url(#mk130)"><rect x="294" y="85" width="35" height="112" filter="url(#nf132)"/></g></g><rect x="294.5" y="85.5" width="34" height="111" fill="none" stroke="#1a1a1a" stroke-width="1"/><g clip-path="url(#cp133)"><rect x="294" y="200" width="35" height="21" fill="url(#lg134)" stroke="none" stroke-width="1"/><polygon points="309.2,198 313.8,198 312.3,223 310.7,223" fill="url(#lg135)" filter="url(#bl24)"/><g mask="url(#mk137)"><rect x="294" y="200" width="35" height="21" filter="url(#nf136)"/></g></g><rect x="294.5" y="200.5" width="34" height="20" fill="none" stroke="#1a1a1a" stroke-width="1"/><line x1="294.5" y1="221" x2="294.5" y2="223" stroke="#222" stroke-width="0.8"/><text x="296.8" y="227.2" font-size="7.2" fill="#222" text-anchor="end" transform="rotate(-45 296.8 227.2)">−10kb</text><line x1="311.5" y1="221" x2="311.5" y2="223" stroke="#222" stroke-width="0.8"/><text x="311.5" y="228.9" font-size="6.9" fill="#222" text-anchor="middle">center</text><line x1="328.5" y1="221" x2="328.5" y2="223" stroke="#222" stroke-width="0.8"/><text x="331.8" y="227.2" font-size="7.2" fill="#222" text-anchor="end" transform="rotate(-45 331.8 227.2)">+10kb</text><text x="356.5" y="31.6" font-size="7.3" fill="#222" text-anchor="middle" textLength="9.6" lengthAdjust="spacingAndGlyphs">KO</text><rect x="339.5" y="35.5" width="34" height="3.5" fill="#a3192e" stroke="#222" stroke-width="0.7"/><g clip-path="url(#cp139)"><rect x="339" y="40" width="35" height="18.5" fill="url(#lg140)" stroke="none" stroke-width="1"/><rect x="351.1666666666667" y="38" width="10.666666666666666" height="22.5" fill="url(#lg141)" filter="url(#bl4)"/><g mask="url(#mk143)"><rect x="339" y="40" width="35" height="18.5" filter="url(#nf142)"/></g></g><rect x="339.5" y="40.5" width="34" height="17.5" fill="none" stroke="#1a1a1a" stroke-width="1"/><line x1="339.5" y1="58.5" x2="339.5" y2="60.5" stroke="#222" stroke-width="0.8"/><text x="341.7" y="64.6" font-size="6.9" fill="#222" text-anchor="end" transform="rotate(-45 341.7 64.6)">−20kb</text><line x1="351.1666666666667" y1="58.5" x2="351.1666666666667" y2="60.5" stroke="#222" stroke-width="0.8"/><text x="353.3666666666667" y="64.6" font-size="6.9" fill="#222" text-anchor="end" transform="rotate(-45 353.3666666666667 64.6)">start</text><line x1="362.8333333333333" y1="58.5" x2="362.8333333333333" y2="60.5" stroke="#222" stroke-width="0.8"/><text x="365.0333333333333" y="64.6" font-size="6.9" fill="#222" text-anchor="end" transform="rotate(-45 365.0333333333333 64.6)">end</text><line x1="373.5" y1="58.5" x2="373.5" y2="60.5" stroke="#222" stroke-width="0.8"/><text x="376.7" y="64.6" font-size="6.9" fill="#222" text-anchor="end" transform="rotate(-45 376.7 64.6)">+20kb</text><g clip-path="url(#cp145)"><rect x="339" y="85" width="35" height="112" fill="url(#lg146)" stroke="none" stroke-width="1"/><polygon points="354.5,83 358.5,83 357.7,199 355.3,199" fill="url(#lg147)" filter="url(#bl13)"/><g mask="url(#mk149)"><rect x="339" y="85" width="35" height="112" filter="url(#nf148)"/></g><g mask="url(#mk151)"><rect x="339" y="85" width="35" height="112" filter="url(#nf153)"/></g></g><rect x="339.5" y="85.5" width="34" height="111" fill="none" stroke="#1a1a1a" stroke-width="1"/><g clip-path="url(#cp154)"><rect x="339" y="200" width="35" height="21" fill="url(#lg155)" stroke="none" stroke-width="1"/><polygon points="355.0,198 358.0,198 357.3,223 355.7,223" fill="url(#lg156)" filter="url(#bl24)"/><g mask="url(#mk158)"><rect x="339" y="200" width="35" height="21" filter="url(#nf157)"/></g></g><rect x="339.5" y="200.5" width="34" height="20" fill="none" stroke="#1a1a1a" stroke-width="1"/><line x1="339.5" y1="221" x2="339.5" y2="223" stroke="#222" stroke-width="0.8"/><text x="341.8" y="227.2" font-size="7.2" fill="#222" text-anchor="end" transform="rotate(-45 341.8 227.2)">−10kb</text><line x1="356.5" y1="221" x2="356.5" y2="223" stroke="#222" stroke-width="0.8"/><text x="356.5" y="228.9" font-size="6.9" fill="#222" text-anchor="middle">center</text><line x1="373.5" y1="221" x2="373.5" y2="223" stroke="#222" stroke-width="0.8"/><text x="376.8" y="227.2" font-size="7.2" fill="#222" text-anchor="end" transform="rotate(-45 376.8 227.2)">+10kb</text><text x="401.5" y="31.6" font-size="7.3" fill="#222" text-anchor="middle" textLength="24.37" lengthAdjust="spacingAndGlyphs">R1446C</text><rect x="384.5" y="35.5" width="34" height="3.5" fill="#e79a27" stroke="#222" stroke-width="0.7"/><g clip-path="url(#cp160)"><rect x="384" y="40" width="35" height="18.5" fill="url(#lg161)" stroke="none" stroke-width="1"/><rect x="396.1666666666667" y="38" width="10.666666666666666" height="22.5" fill="url(#lg162)" filter="url(#bl4)"/><g mask="url(#mk164)"><rect x="384" y="40" width="35" height="18.5" filter="url(#nf163)"/></g></g><rect x="384.5" y="40.5" width="34" height="17.5" fill="none" stroke="#1a1a1a" stroke-width="1"/><line x1="384.5" y1="58.5" x2="384.5" y2="60.5" stroke="#222" stroke-width="0.8"/><text x="386.7" y="64.6" font-size="6.9" fill="#222" text-anchor="end" transform="rotate(-45 386.7 64.6)">−20kb</text><line x1="396.1666666666667" y1="58.5" x2="396.1666666666667" y2="60.5" stroke="#222" stroke-width="0.8"/><text x="398.3666666666667" y="64.6" font-size="6.9" fill="#222" text-anchor="end" transform="rotate(-45 398.3666666666667 64.6)">start</text><line x1="407.8333333333333" y1="58.5" x2="407.8333333333333" y2="60.5" stroke="#222" stroke-width="0.8"/><text x="410.0333333333333" y="64.6" font-size="6.9" fill="#222" text-anchor="end" transform="rotate(-45 410.0333333333333 64.6)">end</text><line x1="418.5" y1="58.5" x2="418.5" y2="60.5" stroke="#222" stroke-width="0.8"/><text x="421.7" y="64.6" font-size="6.9" fill="#222" text-anchor="end" transform="rotate(-45 421.7 64.6)">+20kb</text><g clip-path="url(#cp166)"><rect x="384" y="85" width="35" height="112" fill="url(#lg167)" stroke="none" stroke-width="1"/><polygon points="394.0,83 409.0,83 404.5,199 398.5,199" fill="url(#lg168)" filter="url(#bl11)"/><polygon points="398.9,83 404.1,83 402.7,199 400.3,199" fill="url(#lg169)" filter="url(#bl13)"/><g mask="url(#mk171)"><rect x="384" y="85" width="35" height="112" filter="url(#nf170)"/></g><g mask="url(#mk173)"><rect x="384" y="85" width="35" height="112" filter="url(#nf175)"/></g></g><rect x="384.5" y="85.5" width="34" height="111" fill="none" stroke="#1a1a1a" stroke-width="1"/><g clip-path="url(#cp176)"><rect x="384" y="200" width="35" height="21" fill="url(#lg177)" stroke="none" stroke-width="1"/><polygon points="399.3,198 403.7,198 402.3,223 400.7,223" fill="url(#lg178)" filter="url(#bl24)"/><g mask="url(#mk180)"><rect x="384" y="200" width="35" height="21" filter="url(#nf179)"/></g></g><rect x="384.5" y="200.5" width="34" height="20" fill="none" stroke="#1a1a1a" stroke-width="1"/><line x1="384.5" y1="221" x2="384.5" y2="223" stroke="#222" stroke-width="0.8"/><text x="386.8" y="227.2" font-size="7.2" fill="#222" text-anchor="end" transform="rotate(-45 386.8 227.2)">−10kb</text><line x1="401.5" y1="221" x2="401.5" y2="223" stroke="#222" stroke-width="0.8"/><text x="401.5" y="228.9" font-size="6.9" fill="#222" text-anchor="middle">center</text><line x1="418.5" y1="221" x2="418.5" y2="223" stroke="#222" stroke-width="0.8"/><text x="421.8" y="227.2" font-size="7.2" fill="#222" text-anchor="end" transform="rotate(-45 421.8 227.2)">+10kb</text><text x="446.5" y="31.6" font-size="7.3" fill="#222" text-anchor="middle" textLength="24.01" lengthAdjust="spacingAndGlyphs">Y1482N</text><rect x="429.5" y="35.5" width="34" height="3.5" fill="#3aa5d8" stroke="#222" stroke-width="0.7"/><g clip-path="url(#cp182)"><rect x="429" y="40" width="35" height="18.5" fill="url(#lg183)" stroke="none" stroke-width="1"/><rect x="441.1666666666667" y="38" width="10.666666666666666" height="22.5" fill="url(#lg184)" filter="url(#bl4)"/><g mask="url(#mk186)"><rect x="429" y="40" width="35" height="18.5" filter="url(#nf185)"/></g></g><rect x="429.5" y="40.5" width="34" height="17.5" fill="none" stroke="#1a1a1a" stroke-width="1"/><line x1="429.5" y1="58.5" x2="429.5" y2="60.5" stroke="#222" stroke-width="0.8"/><text x="431.7" y="64.6" font-size="6.9" fill="#222" text-anchor="end" transform="rotate(-45 431.7 64.6)">−20kb</text><line x1="441.1666666666667" y1="58.5" x2="441.1666666666667" y2="60.5" stroke="#222" stroke-width="0.8"/><text x="443.3666666666667" y="64.6" font-size="6.9" fill="#222" text-anchor="end" transform="rotate(-45 443.3666666666667 64.6)">start</text><line x1="452.8333333333333" y1="58.5" x2="452.8333333333333" y2="60.5" stroke="#222" stroke-width="0.8"/><text x="455.0333333333333" y="64.6" font-size="6.9" fill="#222" text-anchor="end" transform="rotate(-45 455.0333333333333 64.6)">end</text><line x1="463.5" y1="58.5" x2="463.5" y2="60.5" stroke="#222" stroke-width="0.8"/><text x="466.7" y="64.6" font-size="6.9" fill="#222" text-anchor="end" transform="rotate(-45 466.7 64.6)">+20kb</text><g clip-path="url(#cp188)"><rect x="429" y="85" width="35" height="112" fill="url(#lg189)" stroke="none" stroke-width="1"/><polygon points="442.0,83 451.0,83 449.3,199 443.7,199" fill="url(#lg190)" filter="url(#bl11)"/><polygon points="444.7,83 448.3,83 447.7,199 445.3,199" fill="url(#lg191)" filter="url(#bl13)"/><g mask="url(#mk193)"><rect x="429" y="85" width="35" height="112" filter="url(#nf192)"/></g><g mask="url(#mk195)"><rect x="429" y="85" width="35" height="112" filter="url(#nf197)"/></g></g><rect x="429.5" y="85.5" width="34" height="111" fill="none" stroke="#1a1a1a" stroke-width="1"/><g clip-path="url(#cp198)"><rect x="429" y="200" width="35" height="21" fill="url(#lg199)" stroke="none" stroke-width="1"/><polygon points="445.0,198 448.0,198 447.3,223 445.7,223" fill="url(#lg200)" filter="url(#bl24)"/><g mask="url(#mk202)"><rect x="429" y="200" width="35" height="21" filter="url(#nf201)"/></g></g><rect x="429.5" y="200.5" width="34" height="20" fill="none" stroke="#1a1a1a" stroke-width="1"/><line x1="429.5" y1="221" x2="429.5" y2="223" stroke="#222" stroke-width="0.8"/><text x="431.8" y="227.2" font-size="7.2" fill="#222" text-anchor="end" transform="rotate(-45 431.8 227.2)">−10kb</text><line x1="446.5" y1="221" x2="446.5" y2="223" stroke="#222" stroke-width="0.8"/><text x="446.5" y="228.9" font-size="6.9" fill="#222" text-anchor="middle">center</text><line x1="463.5" y1="221" x2="463.5" y2="223" stroke="#222" stroke-width="0.8"/><text x="466.8" y="227.2" font-size="7.2" fill="#222" text-anchor="end" transform="rotate(-45 466.8 227.2)">+10kb</text><text x="491.5" y="31.6" font-size="7.3" fill="#222" text-anchor="middle" textLength="24.01" lengthAdjust="spacingAndGlyphs">Y1503C</text><rect x="474.5" y="35.5" width="34" height="3.5" fill="#8a86b8" stroke="#222" stroke-width="0.7"/><g clip-path="url(#cp204)"><rect x="474" y="40" width="35" height="18.5" fill="url(#lg205)" stroke="none" stroke-width="1"/><rect x="486.1666666666667" y="38" width="10.666666666666666" height="22.5" fill="url(#lg206)" filter="url(#bl4)"/><g mask="url(#mk208)"><rect x="474" y="40" width="35" height="18.5" filter="url(#nf207)"/></g></g><rect x="474.5" y="40.5" width="34" height="17.5" fill="none" stroke="#1a1a1a" stroke-width="1"/><line x1="474.5" y1="58.5" x2="474.5" y2="60.5" stroke="#222" stroke-width="0.8"/><text x="476.7" y="64.6" font-size="6.9" fill="#222" text-anchor="end" transform="rotate(-45 476.7 64.6)">−20kb</text><line x1="486.1666666666667" y1="58.5" x2="486.1666666666667" y2="60.5" stroke="#222" stroke-width="0.8"/><text x="488.3666666666667" y="64.6" font-size="6.9" fill="#222" text-anchor="end" transform="rotate(-45 488.3666666666667 64.6)">start</text><line x1="497.8333333333333" y1="58.5" x2="497.8333333333333" y2="60.5" stroke="#222" stroke-width="0.8"/><text x="500.0333333333333" y="64.6" font-size="6.9" fill="#222" text-anchor="end" transform="rotate(-45 500.0333333333333 64.6)">end</text><line x1="508.5" y1="58.5" x2="508.5" y2="60.5" stroke="#222" stroke-width="0.8"/><text x="511.7" y="64.6" font-size="6.9" fill="#222" text-anchor="end" transform="rotate(-45 511.7 64.6)">+20kb</text><g clip-path="url(#cp210)"><rect x="474" y="85" width="35" height="112" fill="url(#lg211)" stroke="none" stroke-width="1"/><polygon points="487.0,83 496.0,83 494.3,199 488.7,199" fill="url(#lg212)" filter="url(#bl11)"/><polygon points="489.5,83 493.5,83 492.8,199 490.2,199" fill="url(#lg213)" filter="url(#bl13)"/><g mask="url(#mk215)"><rect x="474" y="85" width="35" height="112" filter="url(#nf214)"/></g><g mask="url(#mk217)"><rect x="474" y="85" width="35" height="112" filter="url(#nf219)"/></g></g><rect x="474.5" y="85.5" width="34" height="111" fill="none" stroke="#1a1a1a" stroke-width="1"/><g clip-path="url(#cp220)"><rect x="474" y="200" width="35" height="21" fill="url(#lg221)" stroke="none" stroke-width="1"/><polygon points="490.0,198 493.0,198 492.3,223 490.7,223" fill="url(#lg222)" filter="url(#bl24)"/><g mask="url(#mk224)"><rect x="474" y="200" width="35" height="21" filter="url(#nf223)"/></g></g><rect x="474.5" y="200.5" width="34" height="20" fill="none" stroke="#1a1a1a" stroke-width="1"/><line x1="474.5" y1="221" x2="474.5" y2="223" stroke="#222" stroke-width="0.8"/><text x="476.8" y="227.2" font-size="7.2" fill="#222" text-anchor="end" transform="rotate(-45 476.8 227.2)">−10kb</text><line x1="491.5" y1="221" x2="491.5" y2="223" stroke="#222" stroke-width="0.8"/><text x="491.5" y="228.9" font-size="6.9" fill="#222" text-anchor="middle">center</text><line x1="508.5" y1="221" x2="508.5" y2="223" stroke="#222" stroke-width="0.8"/><text x="511.8" y="227.2" font-size="7.2" fill="#222" text-anchor="end" transform="rotate(-45 511.8 227.2)">+10kb</text><text x="275.9" y="49.2" font-size="8.2" fill="#222" text-anchor="middle" textLength="50.9" lengthAdjust="spacingAndGlyphs" transform="rotate(-90 275.9 49.2)">Super-enhancer</text><text x="285.1" y="48" font-size="7.3" fill="#222" text-anchor="middle" textLength="29.3" lengthAdjust="spacingAndGlyphs" transform="rotate(-90 285.1 48)">(n = 146)</text><text x="275.9" y="141.0" font-size="8.2" fill="#222" text-anchor="middle" textLength="29.6" lengthAdjust="spacingAndGlyphs" transform="rotate(-90 275.9 141.0)">Enhancer</text><text x="285.6" y="141.2" font-size="7.6" fill="#222" text-anchor="middle" textLength="36" lengthAdjust="spacingAndGlyphs" transform="rotate(-90 285.6 141.2)">(n = 1345)</text><text x="275.9" y="210.5" font-size="8.2" fill="#222" text-anchor="middle" textLength="30.4" lengthAdjust="spacingAndGlyphs" transform="rotate(-90 275.9 210.5)">Promoter</text><text x="285.1" y="210" font-size="7.3" fill="#222" text-anchor="middle" textLength="31.5" lengthAdjust="spacingAndGlyphs" transform="rotate(-90 285.1 210)">(n = 229)</text><text x="407.8" y="251.2" font-size="7.0" fill="#333" text-anchor="end" textLength="59.7" lengthAdjust="spacingAndGlyphs">CREBBP RPKM (RL)</text><rect x="412.3" y="246" width="42.7" height="5.5" fill="url(#lg226)" stroke="#222" stroke-width="0.5"/><line x1="421.3" y1="251.5" x2="421.3" y2="253" stroke="#222" stroke-width="0.5"/><text x="421.3" y="261" font-size="6.8" fill="#222" text-anchor="middle">5</text><line x1="430.5" y1="251.5" x2="430.5" y2="253" stroke="#222" stroke-width="0.5"/><text x="430.5" y="261" font-size="6.8" fill="#222" text-anchor="middle">10</text><line x1="440.5" y1="251.5" x2="440.5" y2="253" stroke="#222" stroke-width="0.5"/><text x="440.5" y="261" font-size="6.8" fill="#222" text-anchor="middle">15</text><line x1="449.5" y1="251.5" x2="449.5" y2="253" stroke="#222" stroke-width="0.5"/><text x="449.5" y="261" font-size="6.8" fill="#222" text-anchor="middle">20</text><text x="0" y="0" font-size="12.65" font-weight="bold" fill="#111" transform="translate(8.90 286.5) scale(0.778 1)">B</text><text x="128" y="287.6" font-size="9.3" fill="#222" text-anchor="middle" textLength="10.2" lengthAdjust="spacingAndGlyphs">RL</text><line x1="33" y1="292.3" x2="223.1" y2="292.3" stroke="#333" stroke-width="1.1"/><text x="56.25" y="300.4" font-size="7.3" fill="#222" text-anchor="middle" textLength="32.9" lengthAdjust="spacingAndGlyphs">Super-enh.</text><g clip-path="url(#cp227)"><polyline points="33.10,346.28 33.49,344.23 33.87,344.85 34.26,346.88 34.64,346.40 35.03,346.87 35.41,346.50 35.80,346.33 36.19,348.95 36.57,349.44 36.96,346.99 37.34,348.58 37.73,347.71 38.12,350.47 38.50,349.18 38.89,348.44 39.27,350.25 39.66,347.99 40.05,348.26 40.43,351.28 40.82,351.37 41.20,349.70 41.59,348.39 41.97,350.26 42.36,350.78 42.75,350.04 43.13,351.26 43.52,350.48 43.90,349.59 44.29,349.19 44.68,349.81 45.06,349.52 45.45,349.20 45.83,347.97 46.22,348.06 46.60,348.41 46.99,345.05 47.38,345.29 47.76,344.20 48.15,344.83 48.53,325.38 48.92,329.89 49.31,336.19 49.69,336.21 50.08,334.68 50.46,335.01 50.85,333.94 51.23,336.76 51.62,334.61 52.01,335.48 52.39,337.46 52.78,335.94 53.16,334.36 53.55,334.55 53.94,336.38 54.32,335.93 54.71,338.90 55.09,337.79 55.48,334.82 55.86,336.87 56.25,338.16 56.64,336.15 57.02,335.32 57.41,335.47 57.79,337.08 58.18,336.74 58.56,336.36 58.95,334.92 59.34,336.30 59.72,336.98 60.11,336.46 60.49,338.91 60.88,338.82 61.27,335.25 61.65,333.67 62.04,335.61 62.42,336.36 62.81,336.92 63.20,333.83 63.58,328.58 63.97,324.78 64.35,343.65 64.74,343.47 65.12,346.37 65.51,346.14 65.90,345.29 66.28,347.10 66.67,347.98 67.05,349.03 67.44,348.45 67.83,347.39 68.21,350.83 68.60,348.43 68.98,348.48 69.37,348.39 69.75,348.97 70.14,348.80 70.53,349.80 70.91,349.66 71.30,350.08 71.68,351.27 72.07,348.47 72.46,349.37 72.84,350.49 73.23,349.33 73.61,349.23 74.00,349.48 74.38,349.32 74.77,348.46 75.16,347.94 75.54,347.74 75.93,348.00 76.31,349.17 76.70,348.21 77.09,348.09 77.47,346.42 77.86,345.18 78.24,345.06 78.63,344.74 79.01,344.34 79.40,345.87" fill="none" stroke="#8c88c4" stroke-width="1.1" stroke-linejoin="round" stroke-opacity="0.85"/><polyline points="33.10,342.52 33.49,342.89 33.87,346.21 34.26,346.45 34.64,344.26 35.03,344.91 35.41,345.43 35.80,346.94 36.19,346.22 36.57,346.49 36.96,346.84 37.34,348.50 37.73,347.82 38.12,348.15 38.50,347.25 38.89,346.52 39.27,346.83 39.66,348.33 40.05,348.78 40.43,349.48 40.82,350.33 41.20,350.41 41.59,348.98 41.97,349.47 42.36,349.23 42.75,347.46 43.13,348.59 43.52,348.34 43.90,349.26 44.29,349.76 44.68,348.50 45.06,348.83 45.45,347.22 45.83,345.16 46.22,345.77 46.60,346.87 46.99,343.86 47.38,343.48 47.76,342.89 48.15,341.41 48.53,323.47 48.92,327.24 49.31,331.76 49.69,329.46 50.08,330.08 50.46,334.63 50.85,331.58 51.23,331.85 51.62,333.24 52.01,332.88 52.39,333.11 52.78,330.78 53.16,333.05 53.55,331.28 53.94,333.84 54.32,331.01 54.71,330.92 55.09,333.27 55.48,332.70 55.86,330.81 56.25,331.86 56.64,333.13 57.02,334.55 57.41,334.00 57.79,331.99 58.18,334.85 58.56,330.87 58.95,334.30 59.34,330.85 59.72,334.08 60.11,330.60 60.49,331.94 60.88,333.00 61.27,332.89 61.65,332.10 62.04,332.29 62.42,333.45 62.81,333.37 63.20,330.43 63.58,325.49 63.97,321.93 64.35,344.20 64.74,342.60 65.12,343.71 65.51,343.81 65.90,346.84 66.28,345.53 66.67,348.31 67.05,346.74 67.44,348.37 67.83,348.83 68.21,346.91 68.60,349.70 68.98,348.47 69.37,347.49 69.75,349.62 70.14,349.80 70.53,347.58 70.91,349.12 71.30,348.10 71.68,350.35 72.07,349.16 72.46,349.70 72.84,347.90 73.23,349.73 73.61,346.65 74.00,349.58 74.38,347.03 74.77,349.19 75.16,348.17 75.54,346.06 75.93,348.00 76.31,347.64 76.70,345.65 77.09,346.38 77.47,347.23 77.86,343.74 78.24,346.23 78.63,346.28 79.01,344.91 79.40,343.66" fill="none" stroke="#f0a030" stroke-width="1.1" stroke-linejoin="round" stroke-opacity="0.85"/><polyline points="33.10,344.93 33.49,344.24 33.87,345.16 34.26,344.71 34.64,344.96 35.03,347.15 35.41,347.63 35.80,345.17 36.19,347.39 36.57,347.74 36.96,345.45 37.34,347.45 37.73,346.46 38.12,347.88 38.50,347.53 38.89,349.35 39.27,347.88 39.66,347.25 40.05,348.52 40.43,347.89 40.82,348.20 41.20,350.29 41.59,347.99 41.97,348.55 42.36,349.50 42.75,350.34 43.13,347.45 43.52,348.64 43.90,347.65 44.29,346.90 44.68,347.20 45.06,346.20 45.45,347.60 45.83,345.83 46.22,346.54 46.60,344.35 46.99,343.91 47.38,345.82 47.76,344.89 48.15,343.72 48.53,321.45 48.92,328.14 49.31,329.46 49.69,332.36 50.08,331.81 50.46,332.74 50.85,333.06 51.23,331.87 51.62,331.91 52.01,330.21 52.39,331.41 52.78,330.09 53.16,330.48 53.55,329.76 53.94,331.47 54.32,334.20 54.71,330.46 55.09,329.90 55.48,330.22 55.86,332.02 56.25,331.24 56.64,333.94 57.02,330.61 57.41,332.00 57.79,333.54 58.18,334.73 58.56,330.49 58.95,329.76 59.34,334.59 59.72,330.77 60.11,332.86 60.49,334.24 60.88,333.46 61.27,330.88 61.65,330.24 62.04,334.53 62.42,331.16 62.81,333.57 63.20,328.65 63.58,328.05 63.97,320.39 64.35,341.17 64.74,343.65 65.12,342.80 65.51,345.82 65.90,347.22 66.28,346.02 66.67,348.40 67.05,348.26 67.44,347.92 67.83,347.54 68.21,349.32 68.60,349.91 68.98,347.32 69.37,349.30 69.75,347.23 70.14,347.50 70.53,349.27 70.91,348.99 71.30,348.76 71.68,348.30 72.07,348.38 72.46,348.40 72.84,348.08 73.23,346.86 73.61,348.15 74.00,348.23 74.38,347.06 74.77,348.46 75.16,348.02 75.54,345.51 75.93,346.78 76.31,346.42 76.70,347.93 77.09,346.29 77.47,345.43 77.86,346.99 78.24,344.67 78.63,344.29 79.01,345.86 79.40,343.62" fill="none" stroke="#44b2e2" stroke-width="1.1" stroke-linejoin="round" stroke-opacity="0.85"/><polyline points="33.10,344.26 33.49,345.05 33.87,344.41 34.26,345.54 34.64,346.16 35.03,345.36 35.41,343.93 35.80,344.62 36.19,345.02 36.57,347.11 36.96,346.32 37.34,347.43 37.73,348.01 38.12,348.45 38.50,348.28 38.89,346.07 39.27,346.56 39.66,346.78 40.05,346.92 40.43,349.06 40.82,348.74 41.20,347.74 41.59,347.41 41.97,347.00 42.36,346.89 42.75,349.48 43.13,347.65 43.52,347.30 43.90,347.69 44.29,348.58 44.68,347.33 45.06,348.31 45.45,345.12 45.83,344.94 46.22,345.52 46.60,345.80 46.99,343.14 47.38,343.56 47.76,341.72 48.15,340.94 48.53,317.62 48.92,322.22 49.31,323.23 49.69,325.12 50.08,327.04 50.46,326.51 50.85,323.90 51.23,328.08 51.62,328.10 52.01,325.00 52.39,326.86 52.78,325.50 53.16,325.84 53.55,326.53 53.94,323.02 54.32,327.32 54.71,326.16 55.09,327.28 55.48,324.98 55.86,326.89 56.25,326.46 56.64,324.37 57.02,326.65 57.41,325.38 57.79,323.52 58.18,327.83 58.56,328.04 58.95,327.14 59.34,324.27 59.72,325.07 60.11,327.09 60.49,326.58 60.88,327.39 61.27,325.84 61.65,328.00 62.04,324.35 62.42,322.99 62.81,322.07 63.20,322.02 63.58,318.31 63.97,317.25 64.35,342.81 64.74,341.44 65.12,342.88 65.51,344.81 65.90,343.65 66.28,345.28 66.67,345.10 67.05,347.27 67.44,347.97 67.83,347.43 68.21,348.72 68.60,348.11 68.98,346.33 69.37,348.57 69.75,349.74 70.14,349.68 70.53,349.30 70.91,347.24 71.30,348.62 71.68,348.81 72.07,349.38 72.46,346.32 72.84,348.06 73.23,348.64 73.61,348.98 74.00,348.81 74.38,348.24 74.77,346.32 75.16,347.86 75.54,347.98 75.93,346.21 76.31,346.75 76.70,343.96 77.09,346.60 77.47,344.93 77.86,343.79 78.24,344.69 78.63,342.42 79.01,343.80 79.40,344.24" fill="none" stroke="#30b8c8" stroke-width="1.1" stroke-linejoin="round" stroke-opacity="0.85"/><polyline points="33.10,342.97 33.49,342.91 33.87,343.07 34.26,342.91 34.64,343.91 35.03,343.61 35.41,346.91 35.80,345.74 36.19,344.42 36.57,345.68 36.96,345.10 37.34,347.98 37.73,347.02 38.12,347.98 38.50,347.18 38.89,347.26 39.27,349.30 39.66,348.76 40.05,348.67 40.43,346.64 40.82,347.22 41.20,349.30 41.59,347.19 41.97,349.40 42.36,347.77 42.75,349.35 43.13,349.68 43.52,346.63 43.90,348.68 44.29,348.45 44.68,345.63 45.06,345.69 45.45,347.29 45.83,344.62 46.22,345.55 46.60,344.54 46.99,345.50 47.38,342.32 47.76,342.36 48.15,340.54 48.53,319.01 48.92,325.85 49.31,327.70 49.69,329.81 50.08,330.44 50.46,331.13 50.85,329.98 51.23,328.43 51.62,331.67 52.01,328.07 52.39,329.90 52.78,330.06 53.16,327.33 53.55,329.14 53.94,330.03 54.32,329.14 54.71,327.94 55.09,331.41 55.48,326.49 55.86,331.60 56.25,327.70 56.64,327.19 57.02,331.62 57.41,327.50 57.79,329.76 58.18,328.62 58.56,331.67 58.95,331.47 59.34,330.75 59.72,326.60 60.11,330.66 60.49,327.65 60.88,326.70 61.27,326.60 61.65,329.73 62.04,329.52 62.42,328.29 62.81,326.31 63.20,328.57 63.58,322.46 63.97,317.32 64.35,340.90 64.74,344.55 65.12,342.31 65.51,345.88 65.90,345.67 66.28,345.31 66.67,344.76 67.05,347.12 67.44,345.52 67.83,347.09 68.21,348.13 68.60,348.32 68.98,348.96 69.37,349.42 69.75,349.28 70.14,347.53 70.53,346.52 70.91,349.32 71.30,349.67 71.68,346.48 72.07,347.92 72.46,348.25 72.84,348.69 73.23,347.35 73.61,346.41 74.00,347.47 74.38,347.39 74.77,348.40 75.16,345.29 75.54,348.00 75.93,346.20 76.31,344.78 76.70,346.86 77.09,344.56 77.47,343.52 77.86,344.28 78.24,343.42 78.63,345.38 79.01,343.94 79.40,344.55" fill="none" stroke="#48a848" stroke-width="1.1" stroke-linejoin="round" stroke-opacity="0.85"/><polyline points="33.10,340.19 33.49,340.42 33.87,342.11 34.26,343.34 34.64,344.71 35.03,342.36 35.41,343.44 35.80,342.57 36.19,344.41 36.57,343.09 36.96,345.34 37.34,343.46 37.73,343.98 38.12,345.46 38.50,345.16 38.89,344.76 39.27,346.89 39.66,345.58 40.05,344.69 40.43,346.96 40.82,344.88 41.20,345.40 41.59,344.79 41.97,346.84 42.36,347.79 42.75,344.88 43.13,344.77 43.52,346.09 43.90,347.33 44.29,346.71 44.68,344.69 45.06,345.77 45.45,342.76 45.83,343.80 46.22,344.88 46.60,342.50 46.99,343.06 47.38,340.05 47.76,339.35 48.15,340.04 48.53,308.36 48.92,313.82 49.31,316.14 49.69,316.52 50.08,323.34 50.46,321.55 50.85,320.18 51.23,322.18 51.62,320.39 52.01,323.62 52.39,318.55 52.78,320.83 53.16,323.46 53.55,319.95 53.94,322.21 54.32,322.95 54.71,321.10 55.09,323.33 55.48,322.87 55.86,318.65 56.25,319.73 56.64,324.14 57.02,319.21 57.41,324.11 57.79,322.07 58.18,318.40 58.56,320.23 58.95,322.25 59.34,321.79 59.72,321.71 60.11,323.39 60.49,317.76 60.88,323.82 61.27,321.39 61.65,319.19 62.04,321.21 62.42,316.98 62.81,320.75 63.20,314.06 63.58,310.61 63.97,304.24 64.35,338.53 64.74,341.20 65.12,340.46 65.51,341.31 65.90,343.06 66.28,343.79 66.67,343.33 67.05,344.94 67.44,346.59 67.83,344.24 68.21,346.43 68.60,345.75 68.98,344.73 69.37,347.31 69.75,348.01 70.14,347.66 70.53,345.82 70.91,346.74 71.30,347.13 71.68,346.29 72.07,344.30 72.46,346.91 72.84,346.16 73.23,344.13 73.61,345.04 74.00,346.25 74.38,345.22 74.77,344.99 75.16,346.11 75.54,344.92 75.93,344.95 76.31,342.67 76.70,344.33 77.09,342.68 77.47,341.12 77.86,341.00 78.24,342.88 78.63,341.63 79.01,342.43 79.40,341.78" fill="none" stroke="#c4203c" stroke-width="1.1" stroke-linejoin="round" stroke-opacity="0.85"/></g><rect x="33.1" y="304.4" width="46.300000000000004" height="49.400000000000034" fill="none" stroke="#1a1a1a" stroke-width="1"/><line x1="30.5" y1="304.25" x2="33.1" y2="304.25" stroke="#1a1a1a" stroke-width="0.9"/><text x="28.3" y="306.8" font-size="7.1" fill="#222" text-anchor="end">10</text><line x1="30.5" y1="317.65" x2="33.1" y2="317.65" stroke="#1a1a1a" stroke-width="0.9"/><text x="28.3" y="320.2" font-size="7.1" fill="#222" text-anchor="end">8</text><line x1="30.5" y1="331.05" x2="33.1" y2="331.05" stroke="#1a1a1a" stroke-width="0.9"/><text x="28.3" y="333.6" font-size="7.1" fill="#222" text-anchor="end">6</text><line x1="30.5" y1="344.45" x2="33.1" y2="344.45" stroke="#1a1a1a" stroke-width="0.9"/><text x="28.3" y="347.0" font-size="7.1" fill="#222" text-anchor="end">4</text><line x1="33.6" y1="353.8" x2="33.6" y2="355.8" stroke="#1a1a1a" stroke-width="0.8"/><text x="36.4" y="361.8" font-size="7.2" fill="#222" text-anchor="end" transform="rotate(-45 36.4 361.8)">−20kb</text><line x1="48.53333333333334" y1="353.8" x2="48.53333333333334" y2="355.8" stroke="#1a1a1a" stroke-width="0.8"/><text x="51.333333333333336" y="361.8" font-size="7.2" fill="#222" text-anchor="end" transform="rotate(-45 51.333333333333336 361.8)">start</text><line x1="63.96666666666667" y1="353.8" x2="63.96666666666667" y2="355.8" stroke="#1a1a1a" stroke-width="0.8"/><text x="66.76666666666667" y="361.8" font-size="7.2" fill="#222" text-anchor="end" transform="rotate(-45 66.76666666666667 361.8)">end</text><line x1="78.9" y1="353.8" x2="78.9" y2="355.8" stroke="#1a1a1a" stroke-width="0.8"/><text x="81.7" y="361.8" font-size="7.2" fill="#222" text-anchor="end" transform="rotate(-45 81.7 361.8)">+20kb</text><text x="127.9" y="300.4" font-size="7.3" fill="#222" text-anchor="middle" textLength="27.7" lengthAdjust="spacingAndGlyphs">Enhancer</text><g clip-path="url(#cp228)"><polyline points="104.50,351.35 104.89,351.24 105.28,350.89 105.67,351.32 106.06,351.28 106.45,351.20 106.84,351.58 107.23,351.26 107.62,351.14 108.01,350.98 108.40,351.65 108.79,351.44 109.18,351.64 109.57,350.94 109.96,351.05 110.35,351.66 110.74,350.75 111.13,350.76 111.52,351.05 111.91,351.08 112.30,351.51 112.69,351.63 113.08,351.13 113.47,351.56 113.86,351.42 114.25,351.36 114.64,351.55 115.03,351.11 115.42,351.11 115.81,350.71 116.20,350.99 116.59,350.85 116.98,350.95 117.37,350.77 117.76,350.93 118.15,351.06 118.54,350.32 118.93,350.27 119.32,350.36 119.71,350.43 120.10,350.73 120.49,350.72 120.88,350.57 121.27,350.66 121.66,349.86 122.05,350.05 122.44,349.43 122.83,349.64 123.22,348.81 123.61,348.57 124.00,348.96 124.39,348.22 124.78,346.88 125.17,346.44 125.56,344.85 125.95,344.02 126.34,342.60 126.73,340.06 127.12,337.84 127.51,336.67 127.90,336.20 128.29,336.61 128.68,337.66 129.07,339.93 129.46,342.56 129.85,344.16 130.24,345.70 130.63,346.83 131.02,346.99 131.41,348.25 131.80,348.42 132.19,348.96 132.58,349.55 132.97,349.31 133.36,350.11 133.75,349.81 134.14,350.48 134.53,350.32 134.92,350.64 135.31,350.69 135.70,350.10 136.09,350.33 136.48,350.88 136.87,350.38 137.26,351.08 137.65,350.95 138.04,350.55 138.43,350.79 138.82,351.34 139.21,350.51 139.60,351.29 139.99,351.27 140.38,350.79 140.77,351.24 141.16,351.29 141.55,351.52 141.94,351.52 142.33,351.06 142.72,351.40 143.11,351.07 143.50,351.30 143.89,351.23 144.28,350.76 144.67,351.22 145.06,351.14 145.45,350.87 145.84,351.54 146.23,351.57 146.62,350.85 147.01,350.95 147.40,351.50 147.79,351.56 148.18,351.04 148.57,350.85 148.96,351.57 149.35,350.85 149.74,350.92 150.13,351.19 150.52,351.37 150.91,351.68 151.30,351.74" fill="none" stroke="#f0a030" stroke-width="1.1" stroke-linejoin="round" stroke-opacity="0.85"/><polyline points="104.50,350.11 104.89,349.93 105.28,349.92 105.67,350.42 106.06,350.54 106.45,350.18 106.84,350.28 107.23,349.76 107.62,349.86 108.01,349.94 108.40,349.98 108.79,349.87 109.18,350.36 109.57,350.07 109.96,350.33 110.35,349.61 110.74,350.41 111.13,349.67 111.52,350.38 111.91,349.78 112.30,350.10 112.69,350.02 113.08,349.59 113.47,350.36 113.86,350.31 114.25,349.47 114.64,349.84 115.03,350.22 115.42,349.34 115.81,349.35 116.20,350.12 116.59,349.79 116.98,350.04 117.37,349.83 117.76,349.49 118.15,349.88 118.54,349.32 118.93,349.88 119.32,349.70 119.71,349.00 120.10,349.32 120.49,349.20 120.88,348.91 121.27,348.89 121.66,348.82 122.05,348.98 122.44,348.09 122.83,347.59 123.22,347.26 123.61,347.16 124.00,346.97 124.39,346.35 124.78,345.25 125.17,344.28 125.56,343.55 125.95,341.82 126.34,339.71 126.73,337.25 127.12,334.57 127.51,332.95 127.90,332.65 128.29,332.64 128.68,334.93 129.07,337.24 129.46,339.84 129.85,341.64 130.24,343.28 130.63,344.18 131.02,345.82 131.41,346.17 131.80,347.14 132.19,347.13 132.58,348.16 132.97,348.25 133.36,348.46 133.75,348.40 134.14,349.14 134.53,348.91 134.92,349.28 135.31,349.33 135.70,349.24 136.09,348.87 136.48,349.40 136.87,349.01 137.26,349.83 137.65,349.15 138.04,349.74 138.43,349.95 138.82,349.45 139.21,349.32 139.60,350.22 139.99,350.00 140.38,349.54 140.77,349.98 141.16,350.10 141.55,350.34 141.94,350.33 142.33,349.79 142.72,349.45 143.11,349.45 143.50,349.94 143.89,350.41 144.28,350.14 144.67,349.70 145.06,349.67 145.45,349.86 145.84,350.27 146.23,349.99 146.62,350.04 147.01,349.91 147.40,350.26 147.79,349.61 148.18,349.67 148.57,350.38 148.96,350.26 149.35,349.71 149.74,350.28 150.13,349.65 150.52,350.06 150.91,349.89 151.30,349.89" fill="none" stroke="#8c88c4" stroke-width="1.1" stroke-linejoin="round" stroke-opacity="0.85"/><polyline points="104.50,349.40 104.89,348.98 105.28,348.98 105.67,348.81 106.06,349.45 106.45,349.40 106.84,349.47 107.23,349.39 107.62,348.90 108.01,349.47 108.40,349.08 108.79,349.37 109.18,349.29 109.57,349.15 109.96,348.75 110.35,348.96 110.74,349.52 111.13,349.25 111.52,349.36 111.91,348.66 112.30,348.70 112.69,348.69 113.08,348.65 113.47,348.71 113.86,348.50 114.25,348.62 114.64,349.12 115.03,348.52 115.42,348.84 115.81,348.56 116.20,348.71 116.59,348.80 116.98,348.82 117.37,348.71 117.76,348.78 118.15,348.91 118.54,348.17 118.93,348.12 119.32,347.87 119.71,348.06 120.10,348.09 120.49,347.78 120.88,348.24 121.27,347.56 121.66,347.60 122.05,347.63 122.44,347.35 122.83,346.72 123.22,346.60 123.61,345.93 124.00,345.21 124.39,344.68 124.78,344.02 125.17,342.50 125.56,341.24 125.95,339.34 126.34,337.02 126.73,334.11 127.12,331.56 127.51,328.74 127.90,327.56 128.29,328.99 128.68,330.94 129.07,333.57 129.46,337.17 129.85,339.43 130.24,340.69 130.63,342.16 131.02,343.53 131.41,344.91 131.80,345.39 132.19,345.54 132.58,345.99 132.97,346.45 133.36,347.34 133.75,346.98 134.14,347.66 134.53,347.52 134.92,348.23 135.31,347.57 135.70,348.04 136.09,348.03 136.48,348.61 136.87,348.30 137.26,348.40 137.65,348.46 138.04,348.73 138.43,348.43 138.82,348.84 139.21,348.93 139.60,349.09 139.99,348.62 140.38,349.20 140.77,349.12 141.16,349.30 141.55,348.77 141.94,348.87 142.33,348.91 142.72,349.41 143.11,349.04 143.50,349.15 143.89,349.40 144.28,349.50 144.67,348.56 145.06,349.41 145.45,349.25 145.84,349.29 146.23,348.99 146.62,349.49 147.01,349.13 147.40,349.23 147.79,348.79 148.18,349.59 148.57,349.29 148.96,349.14 149.35,348.69 149.74,349.13 150.13,349.17 150.52,348.99 150.91,349.36 151.30,349.61" fill="none" stroke="#44b2e2" stroke-width="1.1" stroke-linejoin="round" stroke-opacity="0.85"/><polyline points="104.50,348.05 104.89,347.47 105.28,347.52 105.67,347.23 106.06,347.87 106.45,347.88 106.84,347.42 107.23,347.48 107.62,347.82 108.01,347.44 108.40,347.71 108.79,347.34 109.18,347.96 109.57,347.86 109.96,347.19 110.35,347.71 110.74,347.79 111.13,347.26 111.52,347.41 111.91,347.86 112.30,347.46 112.69,347.34 113.08,347.80 113.47,347.32 113.86,347.81 114.25,347.58 114.64,347.80 115.03,347.66 115.42,346.89 115.81,347.41 116.20,346.82 116.59,347.31 116.98,347.11 117.37,346.82 117.76,346.95 118.15,347.45 118.54,346.93 118.93,346.82 119.32,347.18 119.71,347.18 120.10,346.33 120.49,346.56 120.88,346.74 121.27,346.34 121.66,346.39 122.05,345.62 122.44,345.65 122.83,345.73 123.22,344.68 123.61,344.93 124.00,344.19 124.39,343.74 124.78,342.17 125.17,341.65 125.56,339.81 125.95,338.41 126.34,335.78 126.73,332.95 127.12,330.38 127.51,328.29 127.90,327.41 128.29,328.31 128.68,330.33 129.07,333.52 129.46,335.79 129.85,338.27 130.24,339.49 130.63,340.85 131.02,342.82 131.41,343.62 131.80,343.78 132.19,344.47 132.58,345.45 132.97,345.16 133.36,345.23 133.75,345.98 134.14,346.26 134.53,346.23 134.92,346.02 135.31,346.80 135.70,346.88 136.09,347.09 136.48,346.75 136.87,346.98 137.26,347.25 137.65,347.18 138.04,347.57 138.43,347.36 138.82,346.75 139.21,347.17 139.60,347.50 139.99,346.90 140.38,347.49 140.77,347.62 141.16,347.85 141.55,347.76 141.94,347.73 142.33,347.72 142.72,347.12 143.11,347.72 143.50,347.75 143.89,347.42 144.28,347.14 144.67,347.75 145.06,347.31 145.45,347.70 145.84,347.52 146.23,347.50 146.62,347.17 147.01,347.36 147.40,347.61 147.79,347.29 148.18,347.76 148.57,347.75 148.96,347.20 149.35,347.60 149.74,347.39 150.13,347.83 150.52,347.26 150.91,347.56 151.30,347.91" fill="none" stroke="#30b8c8" stroke-width="1.1" stroke-linejoin="round" stroke-opacity="0.85"/><polyline points="104.50,347.21 104.89,348.12 105.28,347.42 105.67,347.97 106.06,347.17 106.45,348.09 106.84,347.26 107.23,347.44 107.62,347.26 108.01,347.12 108.40,347.84 108.79,347.74 109.18,347.37 109.57,347.78 109.96,347.78 110.35,347.80 110.74,347.19 111.13,347.16 111.52,347.22 111.91,347.76 112.30,347.07 112.69,347.45 113.08,347.70 113.47,347.47 113.86,347.48 114.25,347.78 114.64,347.29 115.03,347.46 115.42,347.23 115.81,346.85 116.20,347.09 116.59,347.28 116.98,346.80 117.37,346.63 117.76,347.06 118.15,346.56 118.54,347.39 118.93,347.19 119.32,347.08 119.71,346.25 120.10,346.38 120.49,346.22 120.88,346.49 121.27,346.12 121.66,345.55 122.05,346.07 122.44,345.77 122.83,345.50 123.22,344.69 123.61,343.83 124.00,343.48 124.39,342.85 124.78,341.76 125.17,340.82 125.56,338.47 125.95,337.01 126.34,334.60 126.73,331.59 127.12,328.06 127.51,326.12 127.90,324.61 128.29,326.11 128.68,328.43 129.07,331.81 129.46,333.95 129.85,336.58 130.24,338.93 130.63,340.88 131.02,341.77 131.41,342.87 131.80,343.20 132.19,343.74 132.58,344.42 132.97,345.27 133.36,345.84 133.75,345.30 134.14,345.49 134.53,346.44 134.92,346.29 135.31,346.45 135.70,346.10 136.09,347.11 136.48,347.18 136.87,346.52 137.26,346.86 137.65,347.03 138.04,346.78 138.43,347.01 138.82,346.96 139.21,347.43 139.60,347.63 139.99,347.74 140.38,347.46 140.77,347.19 141.16,347.47 141.55,347.53 141.94,347.29 142.33,347.23 142.72,347.35 143.11,347.64 143.50,347.17 143.89,347.20 144.28,347.13 144.67,347.14 145.06,348.00 145.45,347.38 145.84,347.70 146.23,347.67 146.62,347.56 147.01,347.93 147.40,347.83 147.79,347.13 148.18,347.77 148.57,347.22 148.96,347.44 149.35,347.81 149.74,347.81 150.13,347.54 150.52,347.45 150.91,347.80 151.30,348.08" fill="none" stroke="#48a848" stroke-width="1.1" stroke-linejoin="round" stroke-opacity="0.85"/><polyline points="104.50,345.32 104.89,345.19 105.28,345.25 105.67,345.21 106.06,345.24 106.45,344.99 106.84,345.36 107.23,344.99 107.62,345.58 108.01,345.29 108.40,345.25 108.79,345.42 109.18,344.83 109.57,345.23 109.96,344.75 110.35,344.58 110.74,345.23 111.13,344.60 111.52,344.66 111.91,344.78 112.30,345.37 112.69,344.93 113.08,344.74 113.47,345.03 113.86,345.07 114.25,344.95 114.64,344.96 115.03,344.42 115.42,344.79 115.81,344.67 116.20,344.41 116.59,344.06 116.98,344.62 117.37,344.79 117.76,343.82 118.15,343.86 118.54,343.81 118.93,343.95 119.32,344.10 119.71,344.03 120.10,343.73 120.49,343.39 120.88,343.55 121.27,342.68 121.66,342.36 122.05,342.69 122.44,341.47 122.83,341.30 123.22,340.28 123.61,339.95 124.00,338.71 124.39,337.87 124.78,336.24 125.17,334.46 125.56,332.51 125.95,329.34 126.34,325.47 126.73,320.90 127.12,316.38 127.51,312.58 127.90,311.05 128.29,312.72 128.68,316.43 129.07,320.80 129.46,324.78 129.85,328.73 130.24,331.90 130.63,334.16 131.02,336.61 131.41,338.21 131.80,339.39 132.19,340.29 132.58,341.15 132.97,341.18 133.36,341.40 133.75,342.59 134.14,342.40 134.53,342.45 134.92,342.87 135.31,343.68 135.70,343.40 136.09,343.94 136.48,344.15 136.87,344.44 137.26,344.06 137.65,343.78 138.04,344.65 138.43,344.69 138.82,344.53 139.21,344.93 139.60,344.58 139.99,344.38 140.38,344.69 140.77,345.13 141.16,345.18 141.55,345.06 141.94,344.64 142.33,344.43 142.72,344.86 143.11,345.27 143.50,345.19 143.89,345.02 144.28,345.34 144.67,345.35 145.06,345.06 145.45,344.69 145.84,345.28 146.23,344.68 146.62,344.70 147.01,345.14 147.40,345.35 147.79,345.40 148.18,344.95 148.57,344.81 148.96,344.79 149.35,345.42 149.74,345.22 150.13,345.62 150.52,345.35 150.91,345.37 151.30,345.54" fill="none" stroke="#c4203c" stroke-width="1.1" stroke-linejoin="round" stroke-opacity="0.85"/></g><rect x="104.5" y="304.4" width="46.80000000000001" height="49.400000000000034" fill="none" stroke="#1a1a1a" stroke-width="1"/><line x1="101.9" y1="309.4" x2="104.5" y2="309.4" stroke="#1a1a1a" stroke-width="0.9"/><text x="99.7" y="311.95" font-size="7.1" fill="#222" text-anchor="end">10</text><line x1="101.9" y1="321.4" x2="104.5" y2="321.4" stroke="#1a1a1a" stroke-width="0.9"/><text x="99.7" y="323.95" font-size="7.1" fill="#222" text-anchor="end">8</text><line x1="101.9" y1="333.4" x2="104.5" y2="333.4" stroke="#1a1a1a" stroke-width="0.9"/><text x="99.7" y="335.95" font-size="7.1" fill="#222" text-anchor="end">6</text><line x1="101.9" y1="345.4" x2="104.5" y2="345.4" stroke="#1a1a1a" stroke-width="0.9"/><text x="99.7" y="347.95" font-size="7.1" fill="#222" text-anchor="end">4</text><line x1="105.0" y1="353.8" x2="105.0" y2="355.8" stroke="#1a1a1a" stroke-width="0.8"/><text x="107.8" y="361.8" font-size="7.2" fill="#222" text-anchor="end" transform="rotate(-45 107.8 361.8)">−10kb</text><line x1="127.9" y1="353.8" x2="127.9" y2="355.8" stroke="#1a1a1a" stroke-width="0.8"/><text x="127.9" y="364.40000000000003" font-size="6.9" fill="#222" text-anchor="middle">center</text><line x1="150.8" y1="353.8" x2="150.8" y2="355.8" stroke="#1a1a1a" stroke-width="0.8"/><text x="153.60000000000002" y="361.8" font-size="7.2" fill="#222" text-anchor="end" transform="rotate(-45 153.60000000000002 361.8)">+10kb</text><text x="199.64999999999998" y="300.4" font-size="7.3" fill="#222" text-anchor="middle" textLength="28.1" lengthAdjust="spacingAndGlyphs">Promoter</text><g clip-path="url(#cp229)"><polyline points="176.20,353.03 176.59,352.16 176.98,352.25 177.37,352.51 177.76,352.94 178.15,351.99 178.54,351.96 178.94,352.44 179.33,352.45 179.72,352.89 180.11,353.27 180.50,352.66 180.89,352.31 181.28,353.15 181.67,351.95 182.06,352.88 182.45,352.87 182.84,353.18 183.23,351.60 183.63,352.02 184.02,351.79 184.41,352.21 184.80,353.16 185.19,352.67 185.58,352.38 185.97,353.00 186.36,351.61 186.75,352.57 187.14,352.91 187.53,351.80 187.92,352.93 188.32,351.59 188.71,352.35 189.10,352.17 189.49,352.49 189.88,352.24 190.27,352.70 190.66,352.92 191.05,351.51 191.44,352.52 191.83,351.57 192.22,352.46 192.61,351.15 193.01,351.20 193.40,351.34 193.79,351.23 194.18,351.41 194.57,351.01 194.96,351.83 195.35,351.02 195.74,350.15 196.13,350.81 196.52,349.13 196.91,348.53 197.31,348.43 197.70,347.27 198.09,345.42 198.48,343.23 198.87,339.43 199.26,337.79 199.65,337.23 200.04,338.27 200.43,339.88 200.82,342.23 201.21,345.34 201.60,347.06 202.00,348.20 202.39,348.76 202.78,350.29 203.17,350.14 203.56,350.60 203.95,350.78 204.34,351.74 204.73,351.94 205.12,351.79 205.51,350.96 205.90,352.02 206.29,351.69 206.69,352.24 207.08,352.63 207.47,352.75 207.86,351.56 208.25,351.66 208.64,352.36 209.03,351.88 209.42,351.92 209.81,351.58 210.20,351.50 210.59,352.43 210.98,351.49 211.38,351.55 211.77,352.17 212.16,351.70 212.55,352.36 212.94,352.56 213.33,352.79 213.72,351.76 214.11,352.94 214.50,353.10 214.89,351.90 215.28,351.96 215.67,352.44 216.06,351.86 216.46,353.16 216.85,352.83 217.24,352.78 217.63,352.57 218.02,352.99 218.41,353.16 218.80,352.72 219.19,351.80 219.58,351.66 219.97,352.06 220.36,352.50 220.75,352.88 221.15,351.71 221.54,352.43 221.93,352.10 222.32,353.25 222.71,352.95 223.10,351.92" fill="none" stroke="#f0a030" stroke-width="1.1" stroke-linejoin="round" stroke-opacity="0.85"/><polyline points="176.20,348.01 176.59,349.35 176.98,349.54 177.37,347.93 177.76,349.27 178.15,349.38 178.54,348.50 178.94,349.00 179.33,348.10 179.72,349.18 180.11,347.98 180.50,349.03 180.89,348.56 181.28,348.01 181.67,348.41 182.06,348.02 182.45,348.37 182.84,349.45 183.23,348.07 183.63,348.54 184.02,349.00 184.41,349.19 184.80,348.09 185.19,348.53 185.58,347.93 185.97,348.19 186.36,347.87 186.75,348.51 187.14,348.28 187.53,348.41 187.92,348.98 188.32,347.81 188.71,348.85 189.10,348.06 189.49,347.75 189.88,348.22 190.27,349.03 190.66,347.87 191.05,348.10 191.44,348.85 191.83,349.03 192.22,348.17 192.61,348.93 193.01,347.38 193.40,347.98 193.79,347.85 194.18,347.90 194.57,347.33 194.96,346.71 195.35,347.47 195.74,347.05 196.13,346.30 196.52,346.24 196.91,345.04 197.31,344.17 197.70,343.02 198.09,340.79 198.48,338.55 198.87,336.27 199.26,331.92 199.65,331.74 200.04,332.85 200.43,335.75 200.82,337.89 201.21,340.33 201.60,342.89 202.00,344.40 202.39,345.87 202.78,345.25 203.17,346.98 203.56,346.76 203.95,347.40 204.34,347.68 204.73,347.83 205.12,348.26 205.51,348.65 205.90,347.93 206.29,347.59 206.69,347.92 207.08,348.72 207.47,347.96 207.86,349.07 208.25,348.52 208.64,347.87 209.03,347.75 209.42,348.54 209.81,347.93 210.20,348.52 210.59,348.50 210.98,348.42 211.38,347.77 211.77,348.19 212.16,348.65 212.55,348.25 212.94,348.40 213.33,348.88 213.72,348.18 214.11,348.13 214.50,348.49 214.89,347.95 215.28,349.48 215.67,348.69 216.06,348.48 216.46,348.97 216.85,349.25 217.24,348.40 217.63,348.83 218.02,349.11 218.41,349.48 218.80,347.96 219.19,348.98 219.58,349.37 219.97,349.21 220.36,349.15 220.75,348.14 221.15,349.28 221.54,349.12 221.93,349.42 222.32,348.81 222.71,349.24 223.10,349.02" fill="none" stroke="#8c88c4" stroke-width="1.1" stroke-linejoin="round" stroke-opacity="0.85"/><polyline points="176.20,347.64 176.59,347.59 176.98,347.68 177.37,349.02 177.76,348.17 178.15,348.45 178.54,348.27 178.94,348.93 179.33,348.82 179.72,348.40 180.11,348.76 180.50,348.37 180.89,349.08 181.28,348.97 181.67,347.94 182.06,348.41 182.45,348.25 182.84,347.88 183.23,348.49 183.63,348.98 184.02,347.78 184.41,348.09 184.80,347.96 185.19,348.02 185.58,347.43 185.97,348.42 186.36,347.75 186.75,348.38 187.14,348.03 187.53,347.87 187.92,348.42 188.32,348.78 188.71,348.11 189.10,347.69 189.49,347.87 189.88,348.07 190.27,347.71 190.66,348.43 191.05,348.39 191.44,348.10 191.83,347.23 192.22,348.19 192.61,348.24 193.01,348.17 193.40,348.16 193.79,347.64 194.18,346.99 194.57,346.39 194.96,346.95 195.35,346.59 195.74,346.35 196.13,345.83 196.52,344.41 196.91,343.93 197.31,343.24 197.70,341.88 198.09,338.53 198.48,335.66 198.87,331.79 199.26,329.31 199.65,327.30 200.04,328.19 200.43,332.18 200.82,335.26 201.21,339.55 201.60,340.45 202.00,343.58 202.39,344.15 202.78,345.66 203.17,345.00 203.56,345.69 203.95,345.60 204.34,346.17 204.73,346.17 205.12,347.04 205.51,346.46 205.90,346.99 206.29,347.76 206.69,346.82 207.08,347.89 207.47,348.26 207.86,348.51 208.25,347.92 208.64,348.41 209.03,347.23 209.42,347.24 209.81,348.49 210.20,348.70 210.59,348.02 210.98,348.64 211.38,348.04 211.77,347.62 212.16,348.56 212.55,348.29 212.94,347.52 213.33,348.28 213.72,348.46 214.11,347.57 214.50,347.71 214.89,347.58 215.28,347.93 215.67,348.40 216.06,347.94 216.46,347.72 216.85,348.04 217.24,348.71 217.63,348.62 218.02,348.44 218.41,347.85 218.80,348.21 219.19,348.22 219.58,347.77 219.97,348.96 220.36,348.10 220.75,348.60 221.15,348.22 221.54,347.77 221.93,348.74 222.32,347.59 222.71,349.03 223.10,348.23" fill="none" stroke="#44b2e2" stroke-width="1.1" stroke-linejoin="round" stroke-opacity="0.85"/><polyline points="176.20,347.19 176.59,346.97 176.98,348.06 177.37,346.71 177.76,348.03 178.15,347.24 178.54,348.20 178.94,347.10 179.33,348.09 179.72,347.18 180.11,347.14 180.50,347.07 180.89,347.60 181.28,346.90 181.67,346.69 182.06,348.13 182.45,347.46 182.84,346.73 183.23,347.09 183.63,347.57 184.02,347.79 184.41,346.72 184.80,348.14 185.19,347.02 185.58,346.88 185.97,348.00 186.36,347.71 186.75,347.74 187.14,347.34 187.53,347.61 187.92,346.73 188.32,346.67 188.71,347.66 189.10,346.68 189.49,348.03 189.88,347.96 190.27,347.00 190.66,346.75 191.05,346.68 191.44,346.36 191.83,346.54 192.22,347.47 192.61,346.63 193.01,346.27 193.40,347.56 193.79,346.81 194.18,347.26 194.57,347.15 194.96,346.43 195.35,345.91 195.74,345.15 196.13,346.20 196.52,345.15 196.91,343.75 197.31,343.33 197.70,342.61 198.09,341.55 198.48,338.85 198.87,336.95 199.26,333.95 199.65,332.90 200.04,334.36 200.43,336.07 200.82,339.23 201.21,341.18 201.60,342.11 202.00,344.18 202.39,345.09 202.78,345.03 203.17,345.70 203.56,345.31 203.95,346.60 204.34,346.61 204.73,347.29 205.12,346.77 205.51,347.11 205.90,346.98 206.29,346.53 206.69,347.80 207.08,346.28 207.47,346.79 207.86,346.66 208.25,347.15 208.64,347.12 209.03,347.42 209.42,347.47 209.81,347.78 210.20,347.66 210.59,347.69 210.98,347.64 211.38,346.71 211.77,346.90 212.16,347.17 212.55,348.21 212.94,347.82 213.33,347.37 213.72,347.13 214.11,347.59 214.50,347.24 214.89,346.80 215.28,347.86 215.67,347.67 216.06,347.05 216.46,347.79 216.85,347.13 217.24,347.67 217.63,348.29 218.02,347.57 218.41,348.22 218.80,347.04 219.19,346.94 219.58,347.47 219.97,346.86 220.36,347.99 220.75,347.61 221.15,348.06 221.54,348.27 221.93,346.99 222.32,348.27 222.71,346.82 223.10,347.44" fill="none" stroke="#48a848" stroke-width="1.1" stroke-linejoin="round" stroke-opacity="0.85"/><polyline points="176.20,347.29 176.59,346.38 176.98,346.51 177.37,347.55 177.76,346.46 178.15,346.84 178.54,347.82 178.94,346.31 179.33,347.46 179.72,347.37 180.11,347.17 180.50,346.89 180.89,347.65 181.28,346.72 181.67,346.47 182.06,346.99 182.45,346.52 182.84,346.79 183.23,346.45 183.63,347.51 184.02,347.21 184.41,347.01 184.80,347.60 185.19,346.16 185.58,346.70 185.97,347.57 186.36,346.76 186.75,347.02 187.14,347.37 187.53,347.40 187.92,346.88 188.32,347.50 188.71,346.66 189.10,346.71 189.49,347.31 189.88,346.04 190.27,347.37 190.66,347.11 191.05,345.99 191.44,346.91 191.83,346.50 192.22,346.19 192.61,346.30 193.01,346.09 193.40,345.93 193.79,345.81 194.18,346.31 194.57,344.82 194.96,345.40 195.35,345.41 195.74,344.33 196.13,343.03 196.52,342.49 196.91,341.61 197.31,339.95 197.70,338.03 198.09,333.91 198.48,329.27 198.87,322.76 199.26,315.12 199.65,311.55 200.04,314.20 200.43,321.41 200.82,328.60 201.21,334.57 201.60,338.15 202.00,339.17 202.39,341.75 202.78,343.25 203.17,343.43 203.56,343.98 203.95,344.59 204.34,345.12 204.73,345.66 205.12,345.59 205.51,345.85 205.90,345.64 206.29,346.16 206.69,346.43 207.08,345.49 207.47,347.02 207.86,346.03 208.25,346.65 208.64,346.06 209.03,346.27 209.42,346.55 209.81,346.52 210.20,347.18 210.59,347.56 210.98,346.38 211.38,347.21 211.77,347.48 212.16,346.34 212.55,346.73 212.94,347.67 213.33,346.88 213.72,347.48 214.11,346.34 214.50,347.33 214.89,346.24 215.28,346.79 215.67,347.68 216.06,347.14 216.46,346.23 216.85,346.68 217.24,347.58 217.63,347.24 218.02,347.40 218.41,347.70 218.80,346.88 219.19,346.72 219.58,347.52 219.97,346.97 220.36,346.46 220.75,346.42 221.15,347.61 221.54,347.77 221.93,346.39 222.32,347.36 222.71,347.63 223.10,346.59" fill="none" stroke="#c4203c" stroke-width="1.1" stroke-linejoin="round" stroke-opacity="0.85"/></g><rect x="176.2" y="304.4" width="46.900000000000006" height="49.400000000000034" fill="none" stroke="#1a1a1a" stroke-width="1"/><line x1="173.6" y1="315.0" x2="176.2" y2="315.0" stroke="#1a1a1a" stroke-width="0.9"/><text x="171.39999999999998" y="317.55" font-size="7.1" fill="#222" text-anchor="end">12</text><line x1="173.6" y1="331.5" x2="176.2" y2="331.5" stroke="#1a1a1a" stroke-width="0.9"/><text x="171.39999999999998" y="334.05" font-size="7.1" fill="#222" text-anchor="end">8</text><line x1="173.6" y1="348.0" x2="176.2" y2="348.0" stroke="#1a1a1a" stroke-width="0.9"/><text x="171.39999999999998" y="350.55" font-size="7.1" fill="#222" text-anchor="end">4</text><line x1="176.7" y1="353.8" x2="176.7" y2="355.8" stroke="#1a1a1a" stroke-width="0.8"/><text x="179.5" y="361.8" font-size="7.2" fill="#222" text-anchor="end" transform="rotate(-45 179.5 361.8)">−10kb</text><line x1="199.64999999999998" y1="353.8" x2="199.64999999999998" y2="355.8" stroke="#1a1a1a" stroke-width="0.8"/><text x="199.64999999999998" y="364.40000000000003" font-size="6.9" fill="#222" text-anchor="middle">center</text><line x1="222.6" y1="353.8" x2="222.6" y2="355.8" stroke="#1a1a1a" stroke-width="0.8"/><text x="225.4" y="361.8" font-size="7.2" fill="#222" text-anchor="end" transform="rotate(-45 225.4 361.8)">+10kb</text><text x="14.2" y="329.4" font-size="8.6" fill="#222" text-anchor="middle" textLength="45" lengthAdjust="spacingAndGlyphs" transform="rotate(-90 14.2 329.4)">EP300 density</text><text x="0" y="0" font-size="12.21" font-weight="bold" fill="#111" transform="translate(269.10 286.6) scale(0.919 1)">D</text><text x="389" y="287.6" font-size="9.3" fill="#222" text-anchor="middle" textLength="10.2" lengthAdjust="spacingAndGlyphs">RL</text><line x1="294" y1="292.3" x2="483" y2="292.3" stroke="#333" stroke-width="1.1"/><text x="316.1" y="300.4" font-size="7.3" fill="#222" text-anchor="middle" textLength="32.9" lengthAdjust="spacingAndGlyphs">Super-enh.</text><g clip-path="url(#cp230)"><polyline points="293.50,351.66 293.88,351.62 294.25,351.43 294.63,351.23 295.01,351.70 295.38,351.75 295.76,351.68 296.14,351.30 296.51,351.81 296.89,351.37 297.27,351.45 297.64,351.89 298.02,351.60 298.40,351.69 298.77,351.74 299.15,351.29 299.53,352.02 299.90,352.09 300.28,351.38 300.66,351.81 301.03,351.97 301.41,351.87 301.79,351.85 302.16,351.38 302.54,351.96 302.92,351.94 303.29,351.64 303.67,351.65 304.05,351.30 304.42,351.36 304.80,351.70 305.18,351.78 305.55,351.23 305.93,351.04 306.31,351.73 306.68,351.09 307.06,350.89 307.44,350.96 307.81,351.18 308.19,350.58 308.57,348.68 308.94,349.50 309.32,349.06 309.70,349.65 310.07,349.90 310.45,349.54 310.83,349.55 311.20,349.48 311.58,349.17 311.96,348.93 312.33,348.77 312.71,348.75 313.09,348.73 313.46,348.99 313.84,349.60 314.22,349.76 314.59,349.20 314.97,349.29 315.35,349.13 315.72,349.86 316.10,349.74 316.48,348.82 316.85,349.22 317.23,349.11 317.61,349.86 317.98,349.48 318.36,348.84 318.74,349.16 319.11,348.73 319.49,349.73 319.87,349.41 320.24,348.97 320.62,349.42 321.00,348.98 321.37,349.27 321.75,349.82 322.13,349.83 322.50,348.69 322.88,349.71 323.26,349.50 323.63,348.99 324.01,350.65 324.39,350.68 324.76,351.09 325.14,351.18 325.52,351.05 325.89,351.53 326.27,351.53 326.65,351.40 327.02,351.44 327.40,351.95 327.78,351.93 328.15,351.94 328.53,351.51 328.91,351.55 329.28,351.35 329.66,351.52 330.04,351.93 330.41,351.53 330.79,351.36 331.17,351.86 331.54,352.12 331.92,351.82 332.30,351.88 332.67,351.95 333.05,352.04 333.43,351.96 333.80,351.36 334.18,351.98 334.56,351.51 334.93,351.81 335.31,351.80 335.69,351.28 336.06,351.66 336.44,351.72 336.82,351.48 337.19,351.26 337.57,351.36 337.95,351.06 338.32,351.39 338.70,351.26" fill="none" stroke="#c4203c" stroke-width="1.1" stroke-linejoin="round" stroke-opacity="0.85"/><polyline points="293.50,350.78 293.88,350.56 294.25,350.44 294.63,349.31 295.01,350.15 295.38,349.76 295.76,351.02 296.14,350.26 296.51,349.65 296.89,350.32 297.27,349.52 297.64,349.68 298.02,350.72 298.40,351.48 298.77,350.02 299.15,351.29 299.53,351.54 299.90,350.14 300.28,349.93 300.66,349.96 301.03,349.73 301.41,351.22 301.79,351.45 302.16,351.36 302.54,349.66 302.92,351.34 303.29,351.22 303.67,351.45 304.05,351.34 304.42,351.31 304.80,350.61 305.18,350.90 305.55,350.51 305.93,349.17 306.31,350.53 306.68,349.10 307.06,349.07 307.44,349.20 307.81,348.95 308.19,348.30 308.57,343.44 308.94,345.47 309.32,345.65 309.70,346.16 310.07,345.78 310.45,343.99 310.83,345.78 311.20,346.92 311.58,345.65 311.96,344.59 312.33,345.75 312.71,344.94 313.09,346.87 313.46,346.96 313.84,345.07 314.22,347.00 314.59,346.20 314.97,345.94 315.35,346.55 315.72,347.04 316.10,347.13 316.48,344.16 316.85,344.99 317.23,344.16 317.61,345.61 317.98,344.15 318.36,344.44 318.74,345.21 319.11,345.50 319.49,345.55 319.87,346.44 320.24,345.97 320.62,344.87 321.00,346.52 321.37,344.44 321.75,345.48 322.13,345.10 322.50,344.26 322.88,344.49 323.26,345.44 323.63,343.45 324.01,349.81 324.39,350.03 324.76,348.44 325.14,349.36 325.52,348.80 325.89,349.33 326.27,350.38 326.65,349.22 327.02,349.41 327.40,350.41 327.78,351.22 328.15,350.82 328.53,351.16 328.91,350.81 329.28,351.40 329.66,350.18 330.04,349.67 330.41,351.19 330.79,350.08 331.17,350.46 331.54,350.65 331.92,349.81 332.30,350.83 332.67,349.94 333.05,351.47 333.43,349.61 333.80,351.12 334.18,351.44 334.56,349.68 334.93,349.96 335.31,350.02 335.69,349.80 336.06,350.52 336.44,350.99 336.82,350.55 337.19,349.25 337.57,349.15 337.95,350.58 338.32,350.11 338.70,350.05" fill="none" stroke="#44b2e2" stroke-width="1.1" stroke-linejoin="round" stroke-opacity="0.85"/><polyline points="293.50,348.83 293.88,348.76 294.25,348.44 294.63,349.55 295.01,348.86 295.38,348.44 295.76,348.45 296.14,349.91 296.51,349.04 296.89,349.15 297.27,349.41 297.64,348.53 298.02,349.43 298.40,349.62 298.77,348.67 299.15,349.30 299.53,349.98 299.90,349.98 300.28,349.63 300.66,350.51 301.03,349.43 301.41,349.17 301.79,349.78 302.16,348.94 302.54,348.76 302.92,349.46 303.29,349.18 303.67,350.25 304.05,350.31 304.42,348.42 304.80,349.71 305.18,349.75 305.55,348.28 305.93,348.44 306.31,349.51 306.68,348.94 307.06,348.89 307.44,348.59 307.81,348.84 308.19,347.52 308.57,340.06 308.94,341.52 309.32,342.91 309.70,343.51 310.07,343.93 310.45,341.37 310.83,341.81 311.20,342.42 311.58,343.80 311.96,343.73 312.33,343.82 312.71,343.20 313.09,344.02 313.46,343.33 313.84,343.56 314.22,343.60 314.59,342.14 314.97,342.76 315.35,342.71 315.72,343.07 316.10,342.51 316.48,341.73 316.85,343.23 317.23,343.98 317.61,342.69 317.98,343.01 318.36,341.74 318.74,343.85 319.11,341.45 319.49,344.15 319.87,342.49 320.24,342.80 320.62,343.20 321.00,341.38 321.37,341.94 321.75,343.59 322.13,342.44 322.50,341.85 322.88,343.23 323.26,342.16 323.63,338.82 324.01,347.11 324.39,347.95 324.76,348.30 325.14,348.37 325.52,349.06 325.89,348.03 326.27,348.02 326.65,349.10 327.02,350.13 327.40,349.48 327.78,348.77 328.15,349.78 328.53,350.27 328.91,350.16 329.28,349.16 329.66,349.36 330.04,350.04 330.41,349.39 330.79,349.12 331.17,348.72 331.54,348.98 331.92,349.75 332.30,349.00 332.67,348.75 333.05,348.84 333.43,349.05 333.80,349.34 334.18,349.46 334.56,348.76 334.93,349.17 335.31,348.94 335.69,349.87 336.06,350.10 336.44,349.70 336.82,349.04 337.19,349.02 337.57,349.71 337.95,349.68 338.32,348.13 338.70,349.81" fill="none" stroke="#8c88c4" stroke-width="1.1" stroke-linejoin="round" stroke-opacity="0.85"/><polyline points="293.50,346.82 293.88,346.14 294.25,346.20 294.63,345.83 295.01,347.97 295.38,345.56 295.76,347.04 296.14,346.43 296.51,346.45 296.89,345.86 297.27,348.26 297.64,347.96 298.02,346.73 298.40,347.24 298.77,346.67 299.15,348.08 299.53,345.97 299.90,349.39 300.28,346.84 300.66,348.10 301.03,349.36 301.41,347.00 301.79,349.24 302.16,348.55 302.54,348.19 302.92,348.75 303.29,348.66 303.67,348.91 304.05,346.03 304.42,348.66 304.80,348.25 305.18,348.39 305.55,345.19 305.93,346.28 306.31,345.02 306.68,344.18 307.06,345.56 307.44,345.53 307.81,345.10 308.19,345.04 308.57,316.10 308.94,319.63 309.32,324.61 309.70,323.73 310.07,322.77 310.45,322.65 310.83,323.15 311.20,323.61 311.58,326.24 311.96,324.95 312.33,322.81 312.71,326.01 313.09,325.61 313.46,329.06 313.84,328.18 314.22,331.12 314.59,328.46 314.97,328.63 315.35,333.24 315.72,329.20 316.10,331.91 316.48,326.15 316.85,329.65 317.23,328.89 317.61,323.50 317.98,324.26 318.36,327.13 318.74,324.17 319.11,322.06 319.49,326.19 319.87,323.38 320.24,326.84 320.62,326.91 321.00,328.13 321.37,330.92 321.75,329.49 322.13,328.67 322.50,327.06 322.88,324.73 323.26,320.82 323.63,306.22 324.01,344.95 324.39,343.26 324.76,346.60 325.14,344.54 325.52,347.38 325.89,345.96 326.27,346.98 326.65,346.81 327.02,346.18 327.40,345.95 327.78,348.95 328.15,345.89 328.53,346.82 328.91,348.88 329.28,346.80 329.66,346.44 330.04,348.05 330.41,346.25 330.79,348.85 331.17,347.80 331.54,348.57 331.92,346.47 332.30,348.33 332.67,348.52 333.05,345.79 333.43,347.89 333.80,347.67 334.18,346.79 334.56,348.64 334.93,346.33 335.31,346.72 335.69,347.39 336.06,346.25 336.44,345.92 336.82,348.69 337.19,345.53 337.57,347.07 337.95,346.08 338.32,346.41 338.70,345.33" fill="none" stroke="#48a848" stroke-width="1.1" stroke-linejoin="round" stroke-opacity="0.85"/><polyline points="293.50,345.95 293.88,345.87 294.25,345.32 294.63,345.25 295.01,345.33 295.38,346.57 295.76,345.27 296.14,346.52 296.51,346.83 296.89,347.36 297.27,346.44 297.64,347.29 298.02,347.05 298.40,346.31 298.77,345.95 299.15,346.03 299.53,347.58 299.90,347.66 300.28,347.23 300.66,346.55 301.03,345.90 301.41,345.98 301.79,345.67 302.16,346.44 302.54,346.31 302.92,347.06 303.29,346.96 303.67,347.15 304.05,346.32 304.42,346.07 304.80,346.04 305.18,346.34 305.55,346.12 305.93,346.35 306.31,344.85 306.68,345.16 307.06,344.51 307.44,344.07 307.81,344.94 308.19,344.93 308.57,331.65 308.94,331.49 309.32,332.82 309.70,334.68 310.07,333.53 310.45,335.24 310.83,333.36 311.20,336.24 311.58,333.86 311.96,332.99 312.33,335.05 312.71,334.89 313.09,336.11 313.46,335.58 313.84,335.73 314.22,335.50 314.59,336.34 314.97,335.49 315.35,336.21 315.72,334.67 316.10,335.10 316.48,335.76 316.85,333.13 317.23,335.46 317.61,334.64 317.98,333.31 318.36,333.81 318.74,333.04 319.11,334.35 319.49,333.39 319.87,336.35 320.24,333.89 320.62,335.34 321.00,335.38 321.37,333.69 321.75,333.71 322.13,335.02 322.50,334.60 322.88,334.23 323.26,330.43 323.63,328.92 324.01,344.60 324.39,344.36 324.76,345.80 325.14,345.61 325.52,345.34 325.89,344.49 326.27,344.95 326.65,345.83 327.02,345.48 327.40,346.78 327.78,345.87 328.15,345.27 328.53,347.27 328.91,345.54 329.28,345.47 329.66,346.92 330.04,345.92 330.41,345.54 330.79,347.48 331.17,346.76 331.54,346.46 331.92,345.99 332.30,347.19 332.67,346.06 333.05,346.14 333.43,345.77 333.80,346.02 334.18,345.70 334.56,346.26 334.93,346.36 335.31,346.51 335.69,346.60 336.06,346.43 336.44,346.32 336.82,346.50 337.19,347.02 337.57,346.40 337.95,345.09 338.32,346.51 338.70,344.90" fill="none" stroke="#f0a030" stroke-width="1.1" stroke-linejoin="round" stroke-opacity="0.85"/></g><rect x="293.5" y="304.4" width="45.19999999999999" height="49.5" fill="none" stroke="#1a1a1a" stroke-width="1"/><line x1="290.9" y1="309.5" x2="293.5" y2="309.5" stroke="#1a1a1a" stroke-width="0.9"/><text x="288.7" y="312.05" font-size="7.1" fill="#222" text-anchor="end">15</text><line x1="290.9" y1="325.9" x2="293.5" y2="325.9" stroke="#1a1a1a" stroke-width="0.9"/><text x="288.7" y="328.45" font-size="7.1" fill="#222" text-anchor="end">10</text><line x1="290.9" y1="342.3" x2="293.5" y2="342.3" stroke="#1a1a1a" stroke-width="0.9"/><text x="288.7" y="344.85" font-size="7.1" fill="#222" text-anchor="end">5</text><line x1="294.0" y1="353.9" x2="294.0" y2="355.9" stroke="#1a1a1a" stroke-width="0.8"/><text x="296.8" y="361.9" font-size="7.2" fill="#222" text-anchor="end" transform="rotate(-45 296.8 361.9)">−20kb</text><line x1="308.56666666666666" y1="353.9" x2="308.56666666666666" y2="355.9" stroke="#1a1a1a" stroke-width="0.8"/><text x="311.3666666666667" y="361.9" font-size="7.2" fill="#222" text-anchor="end" transform="rotate(-45 311.3666666666667 361.9)">start</text><line x1="323.6333333333333" y1="353.9" x2="323.6333333333333" y2="355.9" stroke="#1a1a1a" stroke-width="0.8"/><text x="326.43333333333334" y="361.9" font-size="7.2" fill="#222" text-anchor="end" transform="rotate(-45 326.43333333333334 361.9)">end</text><line x1="338.2" y1="353.9" x2="338.2" y2="355.9" stroke="#1a1a1a" stroke-width="0.8"/><text x="341.0" y="361.9" font-size="7.2" fill="#222" text-anchor="end" transform="rotate(-45 341.0 361.9)">+20kb</text><text x="387.8" y="300.4" font-size="7.3" fill="#222" text-anchor="middle" textLength="27.7" lengthAdjust="spacingAndGlyphs">Enhancer</text><g clip-path="url(#cp231)"><polyline points="365.50,351.91 365.87,351.96 366.24,351.99 366.62,351.73 366.99,351.84 367.36,351.80 367.73,351.85 368.10,351.91 368.47,351.79 368.85,351.84 369.22,351.77 369.59,351.81 369.96,351.75 370.33,351.88 370.70,351.98 371.07,351.98 371.45,351.78 371.82,351.97 372.19,351.80 372.56,351.81 372.93,352.00 373.31,351.75 373.68,352.01 374.05,351.72 374.42,351.73 374.79,351.94 375.16,351.76 375.54,351.75 375.91,351.96 376.28,351.77 376.65,351.95 377.02,351.68 377.39,351.75 377.76,351.64 378.14,351.95 378.51,351.85 378.88,351.74 379.25,351.74 379.62,351.87 380.00,351.62 380.37,351.62 380.74,351.79 381.11,351.83 381.48,351.63 381.85,351.70 382.23,351.58 382.60,351.60 382.97,351.60 383.34,351.68 383.71,351.58 384.08,351.39 384.45,351.20 384.83,351.19 385.20,350.93 385.57,350.81 385.94,350.44 386.31,350.22 386.69,349.98 387.06,349.68 387.43,349.41 387.80,349.30 388.17,349.14 388.54,349.42 388.92,349.83 389.29,350.40 389.66,350.52 390.03,350.95 390.40,350.88 390.77,351.11 391.15,351.20 391.52,351.34 391.89,351.48 392.26,351.39 392.63,351.40 393.00,351.69 393.38,351.66 393.75,351.58 394.12,351.63 394.49,351.74 394.86,351.74 395.23,351.58 395.61,351.83 395.98,351.86 396.35,351.71 396.72,351.86 397.09,351.66 397.46,351.86 397.84,351.66 398.21,351.85 398.58,351.68 398.95,351.74 399.32,351.75 399.69,351.93 400.06,351.95 400.44,352.00 400.81,351.95 401.18,351.78 401.55,351.99 401.92,351.94 402.30,351.83 402.67,351.97 403.04,351.91 403.41,351.95 403.78,351.80 404.15,351.99 404.53,351.69 404.90,351.83 405.27,351.79 405.64,351.84 406.01,351.86 406.38,351.70 406.75,351.73 407.13,351.76 407.50,352.03 407.87,351.84 408.24,351.72 408.61,351.82 408.99,351.87 409.36,351.82 409.73,351.98 410.10,351.79" fill="none" stroke="#c4203c" stroke-width="1.1" stroke-linejoin="round" stroke-opacity="0.85"/><polyline points="365.50,350.76 365.87,351.01 366.24,350.90 366.62,350.92 366.99,350.71 367.36,350.73 367.73,350.64 368.10,350.97 368.47,350.83 368.85,350.99 369.22,350.91 369.59,350.79 369.96,350.98 370.33,350.91 370.70,350.72 371.07,350.76 371.45,350.89 371.82,350.74 372.19,350.64 372.56,350.97 372.93,350.63 373.31,350.67 373.68,350.81 374.05,350.88 374.42,350.55 374.79,350.80 375.16,350.89 375.54,350.88 375.91,350.56 376.28,350.65 376.65,350.55 377.02,350.57 377.39,350.64 377.76,350.45 378.14,350.67 378.51,350.58 378.88,350.45 379.25,350.51 379.62,350.38 380.00,350.47 380.37,350.38 380.74,350.62 381.11,350.49 381.48,350.42 381.85,350.44 382.23,350.30 382.60,350.27 382.97,350.09 383.34,349.81 383.71,349.76 384.08,349.57 384.45,349.39 384.83,349.05 385.20,348.38 385.57,347.99 385.94,347.36 386.31,346.75 386.69,345.59 387.06,344.86 387.43,344.01 387.80,343.46 388.17,343.90 388.54,344.70 388.92,345.61 389.29,346.47 389.66,347.29 390.03,348.16 390.40,348.75 390.77,349.03 391.15,349.36 391.52,349.63 391.89,349.53 392.26,349.71 392.63,350.07 393.00,350.04 393.38,350.23 393.75,350.10 394.12,350.35 394.49,350.48 394.86,350.53 395.23,350.44 395.61,350.60 395.98,350.50 396.35,350.40 396.72,350.63 397.09,350.72 397.46,350.42 397.84,350.64 398.21,350.82 398.58,350.86 398.95,350.84 399.32,350.64 399.69,350.58 400.06,350.74 400.44,350.90 400.81,350.78 401.18,350.53 401.55,350.73 401.92,350.55 402.30,350.61 402.67,350.96 403.04,350.67 403.41,350.69 403.78,350.76 404.15,350.87 404.53,350.72 404.90,350.94 405.27,350.81 405.64,350.81 406.01,350.61 406.38,350.64 406.75,350.90 407.13,350.80 407.50,350.93 407.87,350.63 408.24,350.65 408.61,350.89 408.99,350.75 409.36,350.77 409.73,350.96 410.10,350.71" fill="none" stroke="#8c88c4" stroke-width="1.1" stroke-linejoin="round" stroke-opacity="0.85"/><polyline points="365.50,350.98 365.87,350.71 366.24,350.93 366.62,350.80 366.99,350.71 367.36,350.66 367.73,350.79 368.10,350.77 368.47,350.97 368.85,350.79 369.22,350.81 369.59,350.61 369.96,350.73 370.33,350.64 370.70,350.77 371.07,350.87 371.45,350.59 371.82,350.59 372.19,350.77 372.56,350.88 372.93,350.70 373.31,350.70 373.68,350.58 374.05,350.64 374.42,350.67 374.79,350.63 375.16,350.70 375.54,350.82 375.91,350.80 376.28,350.42 376.65,350.45 377.02,350.65 377.39,350.39 377.76,350.52 378.14,350.66 378.51,350.32 378.88,350.40 379.25,350.22 379.62,350.29 380.00,350.48 380.37,350.21 380.74,350.08 381.11,349.97 381.48,350.12 381.85,349.94 382.23,349.76 382.60,349.84 382.97,349.40 383.34,349.23 383.71,349.29 384.08,348.77 384.45,348.48 384.83,348.08 385.20,347.31 385.57,346.38 385.94,345.58 386.31,344.54 386.69,342.97 387.06,341.39 387.43,340.15 387.80,339.80 388.17,340.53 388.54,341.32 388.92,342.93 389.29,344.55 389.66,345.75 390.03,346.75 390.40,347.28 390.77,348.10 391.15,348.30 391.52,348.97 391.89,349.09 392.26,349.37 392.63,349.73 393.00,349.91 393.38,349.68 393.75,349.76 394.12,350.21 394.49,350.04 394.86,350.00 395.23,350.10 395.61,350.16 395.98,350.43 396.35,350.31 396.72,350.44 397.09,350.29 397.46,350.42 397.84,350.38 398.21,350.40 398.58,350.62 398.95,350.50 399.32,350.77 399.69,350.74 400.06,350.45 400.44,350.69 400.81,350.58 401.18,350.64 401.55,350.78 401.92,350.65 402.30,350.53 402.67,350.78 403.04,350.78 403.41,350.85 403.78,350.86 404.15,350.60 404.53,350.65 404.90,350.55 405.27,350.68 405.64,350.56 406.01,350.87 406.38,350.89 406.75,350.88 407.13,350.82 407.50,350.57 407.87,350.89 408.24,350.80 408.61,350.96 408.99,350.98 409.36,350.77 409.73,350.74 410.10,350.79" fill="none" stroke="#44b2e2" stroke-width="1.1" stroke-linejoin="round" stroke-opacity="0.85"/><polyline points="365.50,347.94 365.87,347.88 366.24,347.74 366.62,348.01 366.99,347.98 367.36,348.05 367.73,348.01 368.10,348.04 368.47,347.97 368.85,347.81 369.22,347.60 369.59,347.71 369.96,347.83 370.33,347.80 370.70,347.67 371.07,347.81 371.45,347.89 371.82,347.56 372.19,347.63 372.56,347.82 372.93,347.81 373.31,347.78 373.68,347.40 374.05,347.72 374.42,347.47 374.79,347.30 375.16,347.65 375.54,347.46 375.91,347.38 376.28,347.16 376.65,347.41 377.02,347.32 377.39,347.26 377.76,347.28 378.14,346.94 378.51,346.80 378.88,346.87 379.25,346.92 379.62,346.53 380.00,346.39 380.37,346.27 380.74,346.23 381.11,345.83 381.48,345.68 381.85,345.44 382.23,345.15 382.60,344.92 382.97,344.41 383.34,343.77 383.71,343.23 384.08,342.66 384.45,341.63 384.83,340.62 385.20,339.75 385.57,338.30 385.94,336.68 386.31,335.02 386.69,332.95 387.06,331.41 387.43,330.33 387.80,329.73 388.17,330.40 388.54,331.59 388.92,333.21 389.29,334.89 389.66,336.43 390.03,338.12 390.40,339.74 390.77,340.78 391.15,341.95 391.52,342.55 391.89,343.46 392.26,344.03 392.63,344.33 393.00,344.67 393.38,345.12 393.75,345.56 394.12,345.68 394.49,346.06 394.86,346.36 395.23,346.42 395.61,346.41 395.98,346.56 396.35,346.86 396.72,346.70 397.09,346.80 397.46,347.11 397.84,346.90 398.21,347.26 398.58,347.40 398.95,347.27 399.32,347.18 399.69,347.33 400.06,347.40 400.44,347.46 400.81,347.58 401.18,347.61 401.55,347.60 401.92,347.57 402.30,347.43 402.67,347.81 403.04,347.76 403.41,347.50 403.78,347.63 404.15,347.89 404.53,347.76 404.90,347.69 405.27,347.60 405.64,347.95 406.01,347.63 406.38,347.69 406.75,347.91 407.13,347.82 407.50,347.71 407.87,347.96 408.24,347.78 408.61,347.84 408.99,348.05 409.36,347.98 409.73,347.93 410.10,348.05" fill="none" stroke="#f0a030" stroke-width="1.1" stroke-linejoin="round" stroke-opacity="0.85"/><polyline points="365.50,348.40 365.87,348.31 366.24,348.47 366.62,348.36 366.99,348.46 367.36,348.48 367.73,348.36 368.10,348.42 368.47,348.34 368.85,348.15 369.22,348.43 369.59,348.18 369.96,348.38 370.33,348.09 370.70,348.11 371.07,348.31 371.45,348.04 371.82,348.08 372.19,348.33 372.56,348.18 372.93,348.04 373.31,347.93 373.68,348.22 374.05,348.17 374.42,347.93 374.79,347.83 375.16,348.16 375.54,348.14 375.91,347.83 376.28,347.98 376.65,347.91 377.02,347.67 377.39,347.68 377.76,347.66 378.14,347.52 378.51,347.52 378.88,347.42 379.25,347.40 379.62,347.34 380.00,347.45 380.37,346.99 380.74,346.85 381.11,346.93 381.48,346.63 381.85,346.67 382.23,346.22 382.60,345.86 382.97,345.63 383.34,345.13 383.71,344.39 384.08,343.98 384.45,342.96 384.83,341.96 385.20,340.34 385.57,338.15 385.94,335.64 386.31,332.47 386.69,327.87 387.06,323.23 387.43,319.24 387.80,317.68 388.17,319.33 388.54,323.43 388.92,327.97 389.29,332.46 389.66,335.51 390.03,338.47 390.40,340.24 390.77,341.76 391.15,343.00 391.52,343.92 391.89,344.56 392.26,345.16 392.63,345.35 393.00,345.85 393.38,346.21 393.75,346.40 394.12,346.69 394.49,347.01 394.86,347.22 395.23,346.96 395.61,347.13 395.98,347.54 396.35,347.42 396.72,347.43 397.09,347.45 397.46,347.85 397.84,347.88 398.21,347.83 398.58,347.78 398.95,348.04 399.32,347.82 399.69,347.83 400.06,347.99 400.44,347.85 400.81,348.07 401.18,347.91 401.55,348.12 401.92,348.13 402.30,348.16 402.67,348.04 403.04,347.98 403.41,348.33 403.78,348.13 404.15,348.04 404.53,348.11 404.90,348.31 405.27,348.27 405.64,348.07 406.01,348.35 406.38,348.06 406.75,348.30 407.13,348.25 407.50,348.18 407.87,348.20 408.24,348.24 408.61,348.14 408.99,348.24 409.36,348.13 409.73,348.24 410.10,348.27" fill="none" stroke="#48a848" stroke-width="1.1" stroke-linejoin="round" stroke-opacity="0.85"/></g><rect x="365.5" y="304.4" width="44.60000000000002" height="49.80000000000001" fill="none" stroke="#1a1a1a" stroke-width="1"/><line x1="362.9" y1="307.3" x2="365.5" y2="307.3" stroke="#1a1a1a" stroke-width="0.9"/><text x="360.7" y="309.85" font-size="7.1" fill="#222" text-anchor="end">15</text><line x1="362.9" y1="324.45" x2="365.5" y2="324.45" stroke="#1a1a1a" stroke-width="0.9"/><text x="360.7" y="327.0" font-size="7.1" fill="#222" text-anchor="end">10</text><line x1="362.9" y1="341.6" x2="365.5" y2="341.6" stroke="#1a1a1a" stroke-width="0.9"/><text x="360.7" y="344.15000000000003" font-size="7.1" fill="#222" text-anchor="end">5</text><line x1="366.0" y1="354.2" x2="366.0" y2="356.2" stroke="#1a1a1a" stroke-width="0.8"/><text x="368.8" y="362.2" font-size="7.2" fill="#222" text-anchor="end" transform="rotate(-45 368.8 362.2)">−10kb</text><line x1="387.8" y1="354.2" x2="387.8" y2="356.2" stroke="#1a1a1a" stroke-width="0.8"/><text x="387.8" y="364.8" font-size="6.9" fill="#222" text-anchor="middle">center</text><line x1="409.6" y1="354.2" x2="409.6" y2="356.2" stroke="#1a1a1a" stroke-width="0.8"/><text x="412.40000000000003" y="362.2" font-size="7.2" fill="#222" text-anchor="end" transform="rotate(-45 412.40000000000003 362.2)">+10kb</text><text x="459.85" y="300.4" font-size="7.3" fill="#222" text-anchor="middle" textLength="28.1" lengthAdjust="spacingAndGlyphs">Promoter</text><g clip-path="url(#cp232)"><polyline points="436.70,352.39 437.09,352.28 437.47,352.43 437.86,352.13 438.24,352.40 438.63,352.25 439.01,352.08 439.40,352.32 439.79,352.06 440.17,352.17 440.56,352.25 440.94,352.21 441.33,352.23 441.72,352.33 442.10,352.04 442.49,352.31 442.87,352.04 443.26,352.10 443.64,352.47 444.03,352.37 444.42,352.27 444.80,352.11 445.19,352.40 445.57,352.20 445.96,352.31 446.35,352.11 446.73,352.05 447.12,352.12 447.50,352.37 447.89,352.11 448.27,352.25 448.66,352.07 449.05,352.23 449.43,352.02 449.82,351.98 450.20,352.05 450.59,352.04 450.98,352.03 451.36,352.12 451.75,352.30 452.13,351.92 452.52,352.14 452.90,352.32 453.29,352.11 453.68,352.09 454.06,352.16 454.45,351.77 454.83,352.12 455.22,351.70 455.61,351.79 455.99,351.87 456.38,351.67 456.76,351.47 457.15,351.42 457.53,350.85 457.92,350.51 458.31,349.83 458.69,349.19 459.08,348.33 459.46,347.41 459.85,347.08 460.24,347.57 460.62,348.45 461.01,349.32 461.39,349.91 461.78,350.39 462.17,350.82 462.55,351.09 462.94,351.67 463.32,351.64 463.71,351.91 464.09,351.77 464.48,351.85 464.87,351.91 465.25,351.82 465.64,352.15 466.02,351.95 466.41,352.04 466.80,352.23 467.18,351.90 467.57,352.34 467.95,352.17 468.34,352.15 468.72,352.13 469.11,351.97 469.50,352.17 469.88,352.03 470.27,352.30 470.65,352.22 471.04,352.38 471.43,352.16 471.81,352.26 472.20,352.10 472.58,352.41 472.97,352.26 473.35,352.03 473.74,352.47 474.13,352.18 474.51,352.17 474.90,352.15 475.28,352.23 475.67,352.26 476.06,352.05 476.44,352.36 476.83,352.17 477.21,352.19 477.60,352.16 477.98,352.28 478.37,352.49 478.76,352.14 479.14,352.37 479.53,352.14 479.91,352.05 480.30,352.15 480.69,352.32 481.07,352.11 481.46,352.33 481.84,352.36 482.23,352.24 482.61,352.21 483.00,352.19" fill="none" stroke="#c4203c" stroke-width="1.1" stroke-linejoin="round" stroke-opacity="0.85"/><polyline points="436.70,351.59 437.09,352.01 437.47,351.70 437.86,351.81 438.24,351.60 438.63,351.84 439.01,351.61 439.40,351.95 439.79,351.57 440.17,351.83 440.56,351.94 440.94,351.86 441.33,351.73 441.72,352.00 442.10,351.84 442.49,352.00 442.87,351.98 443.26,351.93 443.64,351.90 444.03,351.87 444.42,351.64 444.80,351.80 445.19,351.60 445.57,351.57 445.96,351.57 446.35,351.54 446.73,351.70 447.12,351.65 447.50,351.55 447.89,351.70 448.27,351.87 448.66,351.69 449.05,351.68 449.43,351.83 449.82,351.85 450.20,351.80 450.59,351.55 450.98,351.48 451.36,351.53 451.75,351.61 452.13,351.77 452.52,351.75 452.90,351.42 453.29,351.44 453.68,351.42 454.06,351.49 454.45,351.45 454.83,351.34 455.22,351.26 455.61,350.91 455.99,350.88 456.38,350.56 456.76,350.34 457.15,349.91 457.53,349.31 457.92,348.60 458.31,347.92 458.69,346.25 459.08,344.71 459.46,343.23 459.85,342.74 460.24,343.17 460.62,344.73 461.01,346.58 461.39,347.67 461.78,348.57 462.17,349.31 462.55,349.75 462.94,350.29 463.32,350.50 463.71,350.99 464.09,350.88 464.48,351.25 464.87,351.09 465.25,351.09 465.64,351.40 466.02,351.60 466.41,351.66 466.80,351.48 467.18,351.68 467.57,351.44 467.95,351.53 468.34,351.60 468.72,351.54 469.11,351.80 469.50,351.67 469.88,351.88 470.27,351.66 470.65,351.56 471.04,351.86 471.43,351.62 471.81,351.49 472.20,351.81 472.58,351.87 472.97,351.85 473.35,351.59 473.74,351.94 474.13,351.63 474.51,351.87 474.90,351.65 475.28,351.59 475.67,351.61 476.06,351.91 476.44,351.75 476.83,351.86 477.21,351.61 477.60,351.88 477.98,351.94 478.37,351.83 478.76,351.98 479.14,351.92 479.53,351.70 479.91,351.88 480.30,351.94 480.69,351.60 481.07,351.91 481.46,351.67 481.84,351.72 482.23,351.78 482.61,351.74 483.00,351.77" fill="none" stroke="#8c88c4" stroke-width="1.1" stroke-linejoin="round" stroke-opacity="0.85"/><polyline points="436.70,351.74 437.09,351.62 437.47,351.81 437.86,351.69 438.24,351.59 438.63,351.78 439.01,351.68 439.40,351.68 439.79,351.62 440.17,351.99 440.56,351.93 440.94,351.55 441.33,351.66 441.72,351.88 442.10,351.65 442.49,351.91 442.87,351.82 443.26,351.78 443.64,351.87 444.03,351.91 444.42,351.74 444.80,351.67 445.19,351.81 445.57,351.65 445.96,351.50 446.35,351.91 446.73,351.80 447.12,351.88 447.50,351.60 447.89,351.71 448.27,351.69 448.66,351.76 449.05,351.51 449.43,351.50 449.82,351.63 450.20,351.44 450.59,351.69 450.98,351.61 451.36,351.30 451.75,351.61 452.13,351.61 452.52,351.62 452.90,351.28 453.29,351.16 453.68,351.44 454.06,351.17 454.45,351.11 454.83,351.03 455.22,350.93 455.61,350.68 455.99,350.56 456.38,349.92 456.76,349.87 457.15,349.20 457.53,348.46 457.92,347.49 458.31,346.24 458.69,344.43 459.08,342.06 459.46,340.35 459.85,339.44 460.24,340.29 460.62,342.15 461.01,344.47 461.39,346.28 461.78,347.75 462.17,348.69 462.55,349.15 462.94,349.85 463.32,350.13 463.71,350.52 464.09,350.71 464.48,350.95 464.87,350.76 465.25,351.01 465.64,351.16 466.02,351.36 466.41,351.15 466.80,351.33 467.18,351.57 467.57,351.59 467.95,351.28 468.34,351.59 468.72,351.58 469.11,351.75 469.50,351.41 469.88,351.72 470.27,351.59 470.65,351.53 471.04,351.63 471.43,351.72 471.81,351.78 472.20,351.59 472.58,351.80 472.97,351.65 473.35,351.50 473.74,351.52 474.13,351.64 474.51,351.68 474.90,351.89 475.28,351.60 475.67,351.56 476.06,351.82 476.44,351.95 476.83,351.74 477.21,351.79 477.60,351.60 477.98,351.65 478.37,351.80 478.76,351.76 479.14,351.78 479.53,351.70 479.91,351.72 480.30,351.71 480.69,351.91 481.07,351.65 481.46,351.99 481.84,351.90 482.23,351.77 482.61,352.01 483.00,351.75" fill="none" stroke="#44b2e2" stroke-width="1.1" stroke-linejoin="round" stroke-opacity="0.85"/><polyline points="436.70,348.23 437.09,348.76 437.47,348.46 437.86,348.51 438.24,348.18 438.63,348.57 439.01,348.52 439.40,348.42 439.79,348.55 440.17,348.18 440.56,348.19 440.94,348.29 441.33,348.74 441.72,348.09 442.10,348.38 442.49,348.34 442.87,348.37 443.26,348.37 443.64,348.08 444.03,348.51 444.42,348.59 444.80,347.99 445.19,348.47 445.57,348.45 445.96,348.32 446.35,347.98 446.73,348.31 447.12,348.54 447.50,348.34 447.89,348.33 448.27,348.44 448.66,347.81 449.05,347.88 449.43,348.24 449.82,348.12 450.20,347.56 450.59,347.69 450.98,347.79 451.36,347.62 451.75,347.25 452.13,347.66 452.52,347.27 452.90,347.56 453.29,347.08 453.68,347.06 454.06,346.77 454.45,346.47 454.83,346.13 455.22,345.42 455.61,345.31 455.99,344.96 456.38,343.67 456.76,342.69 457.15,341.56 457.53,340.42 457.92,338.47 458.31,335.82 458.69,333.52 459.08,330.69 459.46,328.10 459.85,327.40 460.24,328.13 460.62,330.62 461.01,332.92 461.39,336.00 461.78,338.47 462.17,340.42 462.55,341.95 462.94,342.78 463.32,343.70 463.71,344.44 464.09,344.92 464.48,345.62 464.87,346.16 465.25,346.45 465.64,346.91 466.02,346.97 466.41,347.08 466.80,346.97 467.18,347.31 467.57,347.76 467.95,347.56 468.34,347.78 468.72,347.54 469.11,347.59 469.50,347.82 469.88,347.83 470.27,348.05 470.65,348.19 471.04,347.87 471.43,347.93 471.81,348.11 472.20,347.88 472.58,347.99 472.97,348.09 473.35,348.52 473.74,347.96 474.13,348.57 474.51,348.52 474.90,348.59 475.28,348.56 475.67,348.22 476.06,348.33 476.44,348.64 476.83,348.60 477.21,348.24 477.60,348.54 477.98,348.62 478.37,348.23 478.76,348.61 479.14,348.74 479.53,348.45 479.91,348.31 480.30,348.81 480.69,348.39 481.07,348.70 481.46,348.24 481.84,348.52 482.23,348.61 482.61,348.62 483.00,348.80" fill="none" stroke="#f0a030" stroke-width="1.1" stroke-linejoin="round" stroke-opacity="0.85"/><polyline points="436.70,348.60 437.09,348.01 437.47,348.55 437.86,348.15 438.24,348.07 438.63,348.13 439.01,348.43 439.40,348.39 439.79,348.14 440.17,347.96 440.56,348.17 440.94,348.24 441.33,348.34 441.72,348.32 442.10,348.10 442.49,348.29 442.87,348.21 443.26,348.14 443.64,348.13 444.03,348.52 444.42,348.38 444.80,348.04 445.19,348.12 445.57,347.93 445.96,348.45 446.35,348.31 446.73,348.11 447.12,347.92 447.50,348.28 447.89,347.87 448.27,348.09 448.66,348.13 449.05,347.74 449.43,348.20 449.82,347.60 450.20,347.98 450.59,347.90 450.98,347.96 451.36,347.71 451.75,347.39 452.13,347.73 452.52,347.41 452.90,347.38 453.29,347.35 453.68,347.32 454.06,346.75 454.45,346.73 454.83,346.42 455.22,346.00 455.61,345.93 455.99,344.91 456.38,344.16 456.76,343.67 457.15,342.01 457.53,340.30 457.92,338.00 458.31,334.21 458.69,328.75 459.08,320.86 459.46,312.54 459.85,308.53 460.24,312.52 460.62,320.76 461.01,328.73 461.39,334.24 461.78,337.82 462.17,340.46 462.55,342.45 462.94,343.65 463.32,344.10 463.71,344.92 464.09,345.50 464.48,346.17 464.87,346.46 465.25,346.53 465.64,346.84 466.02,346.97 466.41,347.53 466.80,347.20 467.18,347.65 467.57,347.66 467.95,347.60 468.34,347.38 468.72,347.82 469.11,347.71 469.50,348.05 469.88,347.60 470.27,348.11 470.65,347.94 471.04,347.87 471.43,347.89 471.81,348.09 472.20,347.97 472.58,348.43 472.97,347.78 473.35,348.09 473.74,348.08 474.13,348.33 474.51,348.19 474.90,348.09 475.28,348.26 475.67,348.47 476.06,348.43 476.44,347.97 476.83,348.44 477.21,348.23 477.60,348.11 477.98,348.45 478.37,348.05 478.76,348.29 479.14,347.97 479.53,348.48 479.91,348.34 480.30,348.39 480.69,348.45 481.07,348.35 481.46,348.36 481.84,348.38 482.23,348.06 482.61,348.44 483.00,348.62" fill="none" stroke="#48a848" stroke-width="1.1" stroke-linejoin="round" stroke-opacity="0.85"/></g><rect x="436.7" y="304.4" width="46.30000000000001" height="49.60000000000002" fill="none" stroke="#1a1a1a" stroke-width="1"/><line x1="434.09999999999997" y1="310.8" x2="436.7" y2="310.8" stroke="#1a1a1a" stroke-width="0.9"/><text x="431.9" y="313.35" font-size="7.1" fill="#222" text-anchor="end">20</text><line x1="434.09999999999997" y1="322.2" x2="436.7" y2="322.2" stroke="#1a1a1a" stroke-width="0.9"/><text x="431.9" y="324.75" font-size="7.1" fill="#222" text-anchor="end">15</text><line x1="434.09999999999997" y1="333.6" x2="436.7" y2="333.6" stroke="#1a1a1a" stroke-width="0.9"/><text x="431.9" y="336.15000000000003" font-size="7.1" fill="#222" text-anchor="end">10</text><line x1="434.09999999999997" y1="345.0" x2="436.7" y2="345.0" stroke="#1a1a1a" stroke-width="0.9"/><text x="431.9" y="347.55" font-size="7.1" fill="#222" text-anchor="end">5</text><line x1="437.2" y1="354" x2="437.2" y2="356" stroke="#1a1a1a" stroke-width="0.8"/><text x="440.0" y="362.0" font-size="7.2" fill="#222" text-anchor="end" transform="rotate(-45 440.0 362.0)">−10kb</text><line x1="459.85" y1="354" x2="459.85" y2="356" stroke="#1a1a1a" stroke-width="0.8"/><text x="459.85" y="364.6" font-size="6.9" fill="#222" text-anchor="middle">center</text><line x1="482.5" y1="354" x2="482.5" y2="356" stroke="#1a1a1a" stroke-width="0.8"/><text x="485.3" y="362.0" font-size="7.2" fill="#222" text-anchor="end" transform="rotate(-45 485.3 362.0)">+10kb</text><text x="275.2" y="329.4" font-size="8.6" fill="#222" text-anchor="middle" textLength="50" lengthAdjust="spacingAndGlyphs" transform="rotate(-90 275.2 329.4)">CREBBP density</text><line x1="176.3" y1="387.8" x2="181.8" y2="387.8" stroke="#48a848" stroke-width="1.2"/><text x="184.5" y="390.2" font-size="6.9" fill="#48a848" text-anchor="start" textLength="10.5" lengthAdjust="spacingAndGlyphs">WT</text><line x1="203.2" y1="387.8" x2="208.7" y2="387.8" stroke="#c4203c" stroke-width="1.2"/><text x="211.5" y="390.2" font-size="6.9" fill="#c4203c" text-anchor="start" textLength="9.5" lengthAdjust="spacingAndGlyphs">KO</text><line x1="229.5" y1="387.8" x2="235.0" y2="387.8" stroke="#f0a030" stroke-width="1.2"/><text x="237.4" y="390.2" font-size="6.9" fill="#f0a030" text-anchor="start" textLength="25" lengthAdjust="spacingAndGlyphs">R1446C</text><line x1="268" y1="387.8" x2="273.5" y2="387.8" stroke="#44b2e2" stroke-width="1.2"/><text x="275.7" y="390.2" font-size="6.9" fill="#44b2e2" text-anchor="start" textLength="25.8" lengthAdjust="spacingAndGlyphs">Y1482N</text><line x1="307.3" y1="387.8" x2="312.8" y2="387.8" stroke="#8c88c4" stroke-width="1.2"/><text x="315" y="390.2" font-size="6.9" fill="#8c88c4" text-anchor="start" textLength="24.6" lengthAdjust="spacingAndGlyphs">Y1503C</text><text x="0" y="0" font-size="12.50" font-weight="bold" fill="#111" transform="translate(9.10 414.8) scale(0.768 1)">E</text><ellipse cx="63.3" cy="429.5" rx="16.8" ry="12.6" fill="#f6e4ef" stroke="#bdb4ba" stroke-width="1"/><ellipse cx="63.3" cy="428.3" rx="14.5" ry="10" fill="#f3dcec" stroke="#d8c8d2" stroke-width="0.6"/><circle cx="57.2" cy="424.6" r="0.9" fill="#c79ad0" opacity="0.8"/><circle cx="67.0" cy="422.4" r="0.9" fill="#c79ad0" opacity="0.8"/><circle cx="63.3" cy="422.3" r="0.9" fill="#c79ad0" opacity="0.8"/><circle cx="71.4" cy="429.3" r="0.9" fill="#c79ad0" opacity="0.8"/><circle cx="72.3" cy="426.7" r="0.9" fill="#c79ad0" opacity="0.8"/><circle cx="67.0" cy="427.2" r="0.9" fill="#c79ad0" opacity="0.8"/><circle cx="58.6" cy="429.1" r="0.9" fill="#c79ad0" opacity="0.8"/><circle cx="56.0" cy="427.2" r="0.9" fill="#c79ad0" opacity="0.8"/><circle cx="69.1" cy="428.7" r="0.9" fill="#c79ad0" opacity="0.8"/><circle cx="62.1" cy="434.6" r="0.9" fill="#c79ad0" opacity="0.8"/><circle cx="64.4" cy="425.9" r="0.9" fill="#c79ad0" opacity="0.8"/><circle cx="65.2" cy="426.2" r="0.9" fill="#c79ad0" opacity="0.8"/><circle cx="61.1" cy="426.9" r="0.9" fill="#c79ad0" opacity="0.8"/><circle cx="74.3" cy="428.6" r="0.9" fill="#c79ad0" opacity="0.8"/><circle cx="65.3" cy="431.4" r="0.9" fill="#c79ad0" opacity="0.8"/><circle cx="74.2" cy="427.8" r="0.9" fill="#c79ad0" opacity="0.8"/><circle cx="61.4" cy="434.7" r="0.9" fill="#c79ad0" opacity="0.8"/><circle cx="55.2" cy="427.2" r="0.9" fill="#c79ad0" opacity="0.8"/><circle cx="67.0" cy="434.6" r="0.9" fill="#c79ad0" opacity="0.8"/><circle cx="60.1" cy="422.5" r="0.9" fill="#c79ad0" opacity="0.8"/><circle cx="68.7" cy="426.3" r="0.9" fill="#c79ad0" opacity="0.8"/><circle cx="61.1" cy="430.5" r="0.9" fill="#c79ad0" opacity="0.8"/><circle cx="65.7" cy="429.8" r="0.9" fill="#c79ad0" opacity="0.8"/><circle cx="61.3" cy="433.3" r="0.9" fill="#c79ad0" opacity="0.8"/><circle cx="73.1" cy="428.6" r="0.9" fill="#c79ad0" opacity="0.8"/><circle cx="60.8" cy="431.6" r="0.9" fill="#c79ad0" opacity="0.8"/><circle cx="67.2" cy="424.4" r="0.9" fill="#c79ad0" opacity="0.8"/><circle cx="60.9" cy="432.6" r="0.9" fill="#c79ad0" opacity="0.8"/><circle cx="63.3" cy="427.0" r="0.9" fill="#c79ad0" opacity="0.8"/><circle cx="65.6" cy="428.3" r="0.9" fill="#c79ad0" opacity="0.8"/><circle cx="64.0" cy="422.5" r="0.9" fill="#c79ad0" opacity="0.8"/><circle cx="73.7" cy="429.2" r="0.9" fill="#c79ad0" opacity="0.8"/><circle cx="58.4" cy="432.2" r="0.9" fill="#c79ad0" opacity="0.8"/><circle cx="66.4" cy="428.6" r="0.9" fill="#c79ad0" opacity="0.8"/><circle cx="68.5" cy="434.3" r="0.9" fill="#c79ad0" opacity="0.8"/><circle cx="67.2" cy="433.8" r="0.9" fill="#c79ad0" opacity="0.8"/><circle cx="73.7" cy="425.8" r="0.9" fill="#c79ad0" opacity="0.8"/><circle cx="60.3" cy="431.7" r="0.9" fill="#c79ad0" opacity="0.8"/><circle cx="54.4" cy="427.6" r="0.9" fill="#c79ad0" opacity="0.8"/><circle cx="71.4" cy="432.0" r="0.9" fill="#c79ad0" opacity="0.8"/><g fill="none" stroke="#cfcfcf" stroke-width="0.9"><path d="M109 419 Q109 411.5 115.3 411.5 Q121.6 411.5 121.6 419 Q121.6 428 115.3 430 Q109 428 109 419 Z" fill="#fbfbfb"/><path d="M109 418 Q110 412 115.3 412 Q121 412 121.6 418 Q119 414.5 115 415 Q111 415 109 418 Z" fill="#e2e2e2"/><path d="M112.3 420.2 h1.6 M116.8 420.2 h1.6 M115.3 421.5 v2.2 M113.8 426 h3" stroke="#e0e0e0" stroke-width="0.6"/><path d="M112.5 429 L112.5 432.5 Q104 434 100.5 440"/><path d="M118.5 429 L118.5 432.5 Q127 434 131 440"/></g><rect x="121" y="433.8" width="3.4" height="4" rx="1.3" fill="#9c4a66"/><path d="M161.3 411 L166.6 425" stroke="#c9c9c9" stroke-width="2.3" stroke-linecap="round"/><path d="M165.6 422.5 L167.3 427" stroke="#b8b8b8" stroke-width="0.7"/><g stroke="#d4c4c4" stroke-width="0.7" fill="#f7eeee"><path d="M151.2 432.2 Q153 429.6 156.5 429.2 Q159 428 163 428.3 Q170 427.8 174.5 430.2 Q177.6 432.6 176.8 436.2 Q175 438.8 170 439.2 L160 439.4 Q156.5 439.2 155.5 437.6 Q153 436 151.2 432.2 Z"/><path d="M176 436 Q181 437 182.6 439.6 Q180 442 173 440.6" fill="none"/><ellipse cx="157.2" cy="429.6" rx="1.6" ry="1.3" fill="#f0dede"/></g><ellipse cx="160.5" cy="434.2" rx="2.6" ry="2.4" fill="#dcefe6" opacity="0.9"/><ellipse cx="168.3" cy="434" rx="2.8" ry="2.6" fill="#e8a0a0" opacity="0.9"/><circle cx="172.8" cy="419.6" r="1.1" fill="#b0707e"/><circle cx="175.5" cy="418.2" r="1.1" fill="#b0707e"/><circle cx="175.2" cy="421.6" r="1.1" fill="#b0707e"/><text x="64.3" y="451.9" font-size="7" fill="#222" text-anchor="middle">Isogenic</text><text x="64.3" y="460.2" font-size="7" fill="#222" text-anchor="middle">cell line</text><text x="64.3" y="468.5" font-size="7" fill="#222" text-anchor="middle">PM vs WT</text><text x="114.8" y="451.9" font-size="7" fill="#222" text-anchor="middle">Primary</text><text x="114.8" y="460.2" font-size="7" fill="#222" text-anchor="middle">FL tumor</text><text x="114.8" y="468.5" font-size="7" fill="#222" text-anchor="middle">PM vs WT</text><text x="165" y="451.9" font-size="7" fill="#222" text-anchor="middle">PDX</text><text x="165" y="460.2" font-size="7" fill="#222" text-anchor="middle">DLBCL tumor</text><text x="165" y="468.5" font-size="7" fill="#222" text-anchor="middle">PM vs WT</text><g clip-path="url(#cp233)"><rect x="43.5" y="472.5" width="41.5" height="165.5" fill="url(#lg234)" stroke="none" stroke-width="1"/><polygon points="59.75,470.5 68.75,470.5 73.25,640.0 55.25,640.0" fill="url(#lg235)" filter="url(#bl236)"/><polygon points="62.75,470.5 65.75,470.5 68.25,640.0 60.25,640.0" fill="url(#lg237)" filter="url(#bl238)"/><g mask="url(#mk240)"><rect x="43.5" y="472.5" width="41.5" height="165.5" filter="url(#nf239)"/></g></g><rect x="44.0" y="473.0" width="40.5" height="164.5" fill="none" stroke="#1a1a1a" stroke-width="1"/><line x1="44.0" y1="638" x2="44.0" y2="640" stroke="#222" stroke-width="0.8"/><text x="46.8" y="646.0" font-size="7.2" fill="#222" text-anchor="end" transform="rotate(-45 46.8 646.0)">−10kb</text><line x1="64.25" y1="638" x2="64.25" y2="640" stroke="#222" stroke-width="0.8"/><text x="64.25" y="650" font-size="6.8" fill="#222" text-anchor="middle">center</text><line x1="84.5" y1="638" x2="84.5" y2="640" stroke="#222" stroke-width="0.8"/><text x="87.3" y="646.0" font-size="7.2" fill="#222" text-anchor="end" transform="rotate(-45 87.3 646.0)">+10kb</text><g clip-path="url(#cp242)"><rect x="94" y="472.5" width="41.5" height="165.5" fill="url(#lg243)" stroke="none" stroke-width="1"/><polygon points="111.75,470.5 117.75,470.5 118.75,640.0 110.75,640.0" fill="url(#lg244)" filter="url(#bl236)"/><polygon points="113.85,470.5 115.65,470.5 116.05,640.0 113.45,640.0" fill="url(#lg245)" filter="url(#bl24)"/><g mask="url(#mk247)"><rect x="94" y="472.5" width="41.5" height="165.5" filter="url(#nf246)"/></g></g><rect x="94.5" y="473.0" width="40.5" height="164.5" fill="none" stroke="#1a1a1a" stroke-width="1"/><line x1="94.5" y1="638" x2="94.5" y2="640" stroke="#222" stroke-width="0.8"/><text x="97.3" y="646.0" font-size="7.2" fill="#222" text-anchor="end" transform="rotate(-45 97.3 646.0)">−10kb</text><line x1="114.75" y1="638" x2="114.75" y2="640" stroke="#222" stroke-width="0.8"/><text x="114.75" y="650" font-size="6.8" fill="#222" text-anchor="middle">center</text><line x1="135.0" y1="638" x2="135.0" y2="640" stroke="#222" stroke-width="0.8"/><text x="137.8" y="646.0" font-size="7.2" fill="#222" text-anchor="end" transform="rotate(-45 137.8 646.0)">+10kb</text><g clip-path="url(#cp249)"><rect x="144.4" y="472.5" width="41.29999999999998" height="165.5" fill="url(#lg250)" stroke="none" stroke-width="1"/><polygon points="160.05,470.5 170.05,470.5 175.05,640.0 155.05,640.0" fill="url(#lg251)" filter="url(#bl236)"/><polygon points="163.55,470.5 166.55,470.5 170.55,640.0 159.55,640.0" fill="url(#lg252)" filter="url(#bl253)"/><g mask="url(#mk255)"><rect x="144.4" y="472.5" width="41.29999999999998" height="165.5" filter="url(#nf254)"/></g></g><rect x="144.9" y="473.0" width="40.29999999999998" height="164.5" fill="none" stroke="#1a1a1a" stroke-width="1"/><line x1="144.9" y1="638" x2="144.9" y2="640" stroke="#222" stroke-width="0.8"/><text x="147.70000000000002" y="646.0" font-size="7.2" fill="#222" text-anchor="end" transform="rotate(-45 147.70000000000002 646.0)">−10kb</text><line x1="165.05" y1="638" x2="165.05" y2="640" stroke="#222" stroke-width="0.8"/><text x="165.05" y="650" font-size="6.8" fill="#222" text-anchor="middle">center</text><line x1="185.2" y1="638" x2="185.2" y2="640" stroke="#222" stroke-width="0.8"/><text x="188.0" y="646.0" font-size="7.2" fill="#222" text-anchor="end" transform="rotate(-45 188.0 646.0)">+10kb</text><text x="25.5" y="552.9" font-size="7.7" fill="#222" text-anchor="middle" textLength="96" lengthAdjust="spacingAndGlyphs" transform="rotate(-90 25.5 552.9)">CREBBP loss (KAT-PM vs WT)</text><text x="36.0" y="557.4" font-size="7.7" fill="#222" text-anchor="middle" textLength="105" lengthAdjust="spacingAndGlyphs" transform="rotate(-90 36.0 557.4)">in isogenic cell lines (n = 8002)</text><text x="192.9" y="553.3" font-size="7" fill="#222" text-anchor="start" textLength="57" lengthAdjust="spacingAndGlyphs">Log2 Fold Change</text><text x="192.9" y="561" font-size="7" fill="#222" text-anchor="start" textLength="50.5" lengthAdjust="spacingAndGlyphs">(vs CREBBP WT)</text><rect x="213.3" y="565" width="5.6" height="42.5" fill="url(#lg257)" stroke="#222" stroke-width="0.7"/><line x1="211.3" y1="565.4" x2="213.3" y2="565.4" stroke="#222" stroke-width="0.7"/><text x="208" y="567.8" font-size="6.8" fill="#222" text-anchor="end">2</text><line x1="211.3" y1="575.7" x2="213.3" y2="575.7" stroke="#222" stroke-width="0.7"/><text x="208" y="578.1" font-size="6.8" fill="#222" text-anchor="end">1</text><line x1="211.3" y1="586" x2="213.3" y2="586" stroke="#222" stroke-width="0.7"/><text x="208" y="588.4" font-size="6.8" fill="#222" text-anchor="end">0</text><line x1="211.3" y1="596.3" x2="213.3" y2="596.3" stroke="#222" stroke-width="0.7"/><text x="208" y="598.6999999999999" font-size="6.8" fill="#222" text-anchor="end">−1</text><line x1="211.3" y1="606.6" x2="213.3" y2="606.6" stroke="#222" stroke-width="0.7"/><text x="208" y="609.0" font-size="6.8" fill="#222" text-anchor="end">−2</text><text x="0" y="0" font-size="12.50" font-weight="bold" fill="#111" transform="translate(270.30 414.6) scale(0.799 1)">F</text><text x="313.3" y="426.2" font-size="9.6" fill="#222" text-anchor="middle" textLength="37.4" lengthAdjust="spacingAndGlyphs">Cell lines</text><text x="366.2" y="426.2" font-size="9.6" fill="#222" text-anchor="middle" textLength="46.7" lengthAdjust="spacingAndGlyphs">Primary FLs</text><text x="425" y="426.2" font-size="9.6" fill="#222" text-anchor="middle" textLength="50" lengthAdjust="spacingAndGlyphs">PDX models</text><text x="313.8" y="439" font-size="7" fill="#222" text-anchor="middle" textLength="38.4" lengthAdjust="spacingAndGlyphs"><tspan font-style="italic">P</tspan> &lt; 2.2e−16</text><text x="366.3" y="439" font-size="7" fill="#222" text-anchor="middle" textLength="38.4" lengthAdjust="spacingAndGlyphs"><tspan font-style="italic">P</tspan> &lt; 2.2e−16</text><text x="424.6" y="439" font-size="7" fill="#222" text-anchor="middle" textLength="38.4" lengthAdjust="spacingAndGlyphs"><tspan font-style="italic">P</tspan> &lt; 2.2e−16</text><line x1="292.6" y1="441" x2="292.6" y2="493.2" stroke="#1a1a1a" stroke-width="1.1"/><line x1="290.3" y1="443.2" x2="292.6" y2="443.2" stroke="#1a1a1a" stroke-width="0.9"/><text x="287.4" y="445.7" font-size="7.0" fill="#222" text-anchor="end">15</text><line x1="290.3" y1="459.4" x2="292.6" y2="459.4" stroke="#1a1a1a" stroke-width="0.9"/><text x="287.4" y="461.9" font-size="7.0" fill="#222" text-anchor="end">10</text><line x1="290.3" y1="475.6" x2="292.6" y2="475.6" stroke="#1a1a1a" stroke-width="0.9"/><text x="287.4" y="478.1" font-size="7.0" fill="#222" text-anchor="end">5</text><line x1="290.3" y1="491.7" x2="292.6" y2="491.7" stroke="#1a1a1a" stroke-width="0.9"/><text x="287.4" y="494.2" font-size="7.0" fill="#222" text-anchor="end">0</text><line x1="345.6" y1="441" x2="345.6" y2="493.2" stroke="#1a1a1a" stroke-width="1.1"/><line x1="343.3" y1="443.2" x2="345.6" y2="443.2" stroke="#1a1a1a" stroke-width="0.9"/><line x1="343.3" y1="459.4" x2="345.6" y2="459.4" stroke="#1a1a1a" stroke-width="0.9"/><line x1="343.3" y1="475.6" x2="345.6" y2="475.6" stroke="#1a1a1a" stroke-width="0.9"/><line x1="343.3" y1="491.7" x2="345.6" y2="491.7" stroke="#1a1a1a" stroke-width="0.9"/><line x1="404.4" y1="441" x2="404.4" y2="493.2" stroke="#1a1a1a" stroke-width="1.1"/><line x1="402.09999999999997" y1="443.2" x2="404.4" y2="443.2" stroke="#1a1a1a" stroke-width="0.9"/><line x1="402.09999999999997" y1="459.4" x2="404.4" y2="459.4" stroke="#1a1a1a" stroke-width="0.9"/><line x1="402.09999999999997" y1="475.6" x2="404.4" y2="475.6" stroke="#1a1a1a" stroke-width="0.9"/><line x1="402.09999999999997" y1="491.7" x2="404.4" y2="491.7" stroke="#1a1a1a" stroke-width="0.9"/><text x="276" y="466.5" font-size="7.2" fill="#222" text-anchor="middle" textLength="46" lengthAdjust="spacingAndGlyphs" transform="rotate(-90 276 466.5)">RPKM in peak</text><line x1="304.6" y1="443" x2="304.6" y2="460.0" stroke="#333" stroke-width="0.9"/><polygon points="304.15,460.00 304.15,460.51 304.15,461.02 304.15,461.52 304.15,462.03 304.15,462.54 304.15,463.05 304.15,463.56 304.15,464.07 304.15,464.57 304.15,465.08 304.15,465.59 304.15,466.10 304.15,466.61 304.14,467.12 304.02,467.62 303.88,468.13 303.72,468.64 303.54,469.15 303.34,469.66 303.13,470.17 302.91,470.68 302.68,471.18 302.44,471.69 302.19,472.20 301.94,472.71 301.70,473.22 301.46,473.73 301.24,474.23 301.02,474.74 300.83,475.25 300.66,475.76 300.51,476.27 300.39,476.77 300.29,477.28 300.23,477.79 300.20,478.30 300.20,478.81 300.22,479.32 300.26,479.82 300.31,480.33 300.39,480.84 300.47,481.35 300.58,481.86 300.70,482.37 300.84,482.88 300.99,483.38 301.16,483.89 301.34,484.40 301.54,484.91 301.75,485.42 301.97,485.93 302.21,486.43 302.46,486.94 302.72,487.45 302.99,487.96 303.28,488.47 303.40,488.98 303.58,489.48 303.99,489.99 304.15,490.50 305.05,490.50 305.21,489.99 305.62,489.48 305.80,488.98 305.92,488.47 306.21,487.96 306.48,487.45 306.74,486.94 306.99,486.43 307.23,485.93 307.45,485.42 307.66,484.91 307.86,484.40 308.04,483.89 308.21,483.38 308.36,482.88 308.50,482.37 308.62,481.86 308.73,481.35 308.81,480.84 308.89,480.33 308.94,479.82 308.98,479.32 309.00,478.81 309.00,478.30 308.97,477.79 308.91,477.28 308.81,476.77 308.69,476.27 308.54,475.76 308.37,475.25 308.18,474.74 307.96,474.23 307.74,473.73 307.50,473.22 307.26,472.71 307.01,472.20 306.76,471.69 306.52,471.18 306.29,470.68 306.07,470.17 305.86,469.66 305.66,469.15 305.48,468.64 305.32,468.13 305.18,467.62 305.06,467.12 305.05,466.61 305.05,466.10 305.05,465.59 305.05,465.08 305.05,464.57 305.05,464.07 305.05,463.56 305.05,463.05 305.05,462.54 305.05,462.03 305.05,461.52 305.05,461.02 305.05,460.51 305.05,460.00" fill="#3db33a" stroke="#1e2a20" stroke-width="0.6" stroke-linejoin="round"/><line x1="323.5" y1="443" x2="323.5" y2="473.0" stroke="#333" stroke-width="0.9"/><polygon points="323.05,473.00 323.05,473.29 323.05,473.58 323.05,473.88 323.05,474.17 323.05,474.46 323.05,474.75 323.05,475.04 323.05,475.33 323.05,475.62 323.05,475.92 323.05,476.21 323.05,476.50 323.05,476.79 323.05,477.08 322.97,477.38 322.79,477.67 322.57,477.96 322.32,478.25 322.02,478.54 321.68,478.83 321.31,479.12 320.89,479.42 320.44,479.71 319.96,480.00 319.46,480.29 318.94,480.58 318.41,480.88 317.88,481.17 317.37,481.46 316.88,481.75 316.42,482.04 316.00,482.33 315.63,482.62 315.33,482.92 315.08,483.21 314.91,483.50 314.82,483.79 314.80,484.08 314.85,484.38 314.95,484.67 315.10,484.96 315.31,485.25 315.57,485.54 315.88,485.83 316.23,486.12 316.63,486.42 317.06,486.71 317.53,487.00 318.03,487.29 318.55,487.58 319.09,487.88 319.65,488.17 320.21,488.46 320.77,488.75 321.32,489.04 321.85,489.33 322.36,489.62 322.82,489.92 323.05,490.21 323.05,490.50 323.95,490.50 323.95,490.21 324.18,489.92 324.64,489.62 325.15,489.33 325.68,489.04 326.23,488.75 326.79,488.46 327.35,488.17 327.91,487.88 328.45,487.58 328.97,487.29 329.47,487.00 329.94,486.71 330.37,486.42 330.77,486.12 331.12,485.83 331.43,485.54 331.69,485.25 331.90,484.96 332.05,484.67 332.15,484.38 332.20,484.08 332.18,483.79 332.09,483.50 331.92,483.21 331.67,482.92 331.37,482.62 331.00,482.33 330.58,482.04 330.12,481.75 329.63,481.46 329.12,481.17 328.59,480.88 328.06,480.58 327.54,480.29 327.04,480.00 326.56,479.71 326.11,479.42 325.69,479.12 325.32,478.83 324.98,478.54 324.68,478.25 324.43,477.96 324.21,477.67 324.03,477.38 323.95,477.08 323.95,476.79 323.95,476.50 323.95,476.21 323.95,475.92 323.95,475.62 323.95,475.33 323.95,475.04 323.95,474.75 323.95,474.46 323.95,474.17 323.95,473.88 323.95,473.58 323.95,473.29 323.95,473.00" fill="#174d8c" stroke="#1e2a20" stroke-width="0.6" stroke-linejoin="round"/><line x1="357" y1="443" x2="357" y2="463.0" stroke="#333" stroke-width="0.9"/><polygon points="356.55,463.00 356.55,463.46 356.55,463.92 356.55,464.38 356.55,464.83 356.55,465.29 356.55,465.75 356.55,466.21 356.55,466.67 356.55,467.12 356.55,467.58 356.55,468.04 356.55,468.50 356.55,468.96 356.55,469.42 356.44,469.88 356.30,470.33 356.15,470.79 355.98,471.25 355.79,471.71 355.58,472.17 355.36,472.62 355.13,473.08 354.89,473.54 354.65,474.00 354.40,474.46 354.15,474.92 353.91,475.38 353.68,475.83 353.46,476.29 353.25,476.75 353.07,477.21 352.90,477.67 352.76,478.12 352.65,478.58 352.57,479.04 352.52,479.50 352.50,479.96 352.51,480.42 352.53,480.88 352.58,481.33 352.64,481.79 352.73,482.25 352.83,482.71 352.95,483.17 353.09,483.62 353.24,484.08 353.41,484.54 353.60,485.00 353.80,485.46 354.02,485.92 354.25,486.38 354.50,486.83 354.76,487.29 355.03,487.75 355.31,488.21 355.61,488.67 355.81,489.12 356.05,489.58 356.44,490.04 356.55,490.50 357.45,490.50 357.56,490.04 357.95,489.58 358.19,489.12 358.39,488.67 358.69,488.21 358.97,487.75 359.24,487.29 359.50,486.83 359.75,486.38 359.98,485.92 360.20,485.46 360.40,485.00 360.59,484.54 360.76,484.08 360.91,483.62 361.05,483.17 361.17,482.71 361.27,482.25 361.36,481.79 361.42,481.33 361.47,480.88 361.49,480.42 361.50,479.96 361.48,479.50 361.43,479.04 361.35,478.58 361.24,478.12 361.10,477.67 360.93,477.21 360.75,476.75 360.54,476.29 360.32,475.83 360.09,475.38 359.85,474.92 359.60,474.46 359.35,474.00 359.11,473.54 358.87,473.08 358.64,472.62 358.42,472.17 358.21,471.71 358.02,471.25 357.85,470.79 357.70,470.33 357.56,469.88 357.45,469.42 357.45,468.96 357.45,468.50 357.45,468.04 357.45,467.58 357.45,467.12 357.45,466.67 357.45,466.21 357.45,465.75 357.45,465.29 357.45,464.83 357.45,464.38 357.45,463.92 357.45,463.46 357.45,463.00" fill="#3db33a" stroke="#1e2a20" stroke-width="0.6" stroke-linejoin="round"/><line x1="375.6" y1="443" x2="375.6" y2="474.0" stroke="#333" stroke-width="0.9"/><polygon points="375.15,474.00 375.15,474.27 375.15,474.55 375.15,474.82 375.15,475.10 375.15,475.38 375.15,475.65 375.15,475.93 375.15,476.20 375.15,476.48 375.15,476.75 375.15,477.02 375.15,477.30 375.15,477.57 375.15,477.85 374.98,478.12 374.78,478.40 374.54,478.68 374.25,478.95 373.93,479.23 373.55,479.50 373.14,479.77 372.69,480.05 372.21,480.32 371.70,480.60 371.18,480.88 370.64,481.15 370.11,481.43 369.59,481.70 369.10,481.98 368.63,482.25 368.22,482.52 367.85,482.80 367.56,483.07 367.33,483.35 367.18,483.62 367.11,483.90 367.11,484.18 367.17,484.45 367.27,484.73 367.42,485.00 367.62,485.27 367.86,485.55 368.14,485.82 368.47,486.10 368.83,486.38 369.22,486.65 369.65,486.93 370.10,487.20 370.57,487.48 371.07,487.75 371.57,488.02 372.09,488.30 372.60,488.57 373.12,488.85 373.62,489.12 374.10,489.40 374.56,489.68 374.99,489.95 375.15,490.23 375.15,490.50 376.05,490.50 376.05,490.23 376.21,489.95 376.64,489.68 377.10,489.40 377.58,489.12 378.08,488.85 378.60,488.57 379.11,488.30 379.63,488.02 380.13,487.75 380.63,487.48 381.10,487.20 381.55,486.93 381.98,486.65 382.37,486.38 382.73,486.10 383.06,485.82 383.34,485.55 383.58,485.27 383.78,485.00 383.93,484.73 384.03,484.45 384.09,484.18 384.09,483.90 384.02,483.62 383.87,483.35 383.64,483.07 383.35,482.80 382.98,482.52 382.57,482.25 382.10,481.98 381.61,481.70 381.09,481.43 380.56,481.15 380.02,480.88 379.50,480.60 378.99,480.32 378.51,480.05 378.06,479.77 377.65,479.50 377.27,479.23 376.95,478.95 376.66,478.68 376.42,478.40 376.22,478.12 376.05,477.85 376.05,477.57 376.05,477.30 376.05,477.02 376.05,476.75 376.05,476.48 376.05,476.20 376.05,475.93 376.05,475.65 376.05,475.38 376.05,475.10 376.05,474.82 376.05,474.55 376.05,474.27 376.05,474.00" fill="#174d8c" stroke="#1e2a20" stroke-width="0.6" stroke-linejoin="round"/><line x1="415.4" y1="443" x2="415.4" y2="456.0" stroke="#333" stroke-width="0.9"/><polygon points="414.95,456.00 414.95,456.54 414.95,457.08 414.95,457.62 414.95,458.17 414.95,458.71 414.95,459.25 414.95,459.79 414.95,460.33 414.95,460.88 414.95,461.42 414.95,461.96 414.95,462.50 414.95,463.04 414.95,463.58 414.95,464.12 414.95,464.67 414.87,465.21 414.75,465.75 414.62,466.29 414.47,466.83 414.30,467.38 414.11,467.92 413.92,468.46 413.70,469.00 413.47,469.54 413.23,470.08 412.97,470.62 412.71,471.17 412.43,471.71 412.15,472.25 411.86,472.79 411.57,473.33 411.29,473.88 411.00,474.42 410.72,474.96 410.45,475.50 410.18,476.04 409.93,476.58 409.70,477.12 409.48,477.67 409.28,478.21 409.11,478.75 408.96,479.29 408.83,479.83 408.73,480.38 408.66,480.92 408.61,481.46 408.60,482.00 408.65,482.54 408.79,483.08 409.02,483.62 409.34,484.17 409.75,484.71 410.25,485.25 410.83,485.79 411.49,486.33 412.25,486.88 413.09,487.42 414.07,487.96 413.51,488.50 417.29,488.50 416.73,487.96 417.71,487.42 418.55,486.88 419.31,486.33 419.97,485.79 420.55,485.25 421.05,484.71 421.46,484.17 421.78,483.62 422.01,483.08 422.15,482.54 422.20,482.00 422.19,481.46 422.14,480.92 422.07,480.38 421.97,479.83 421.84,479.29 421.69,478.75 421.52,478.21 421.32,477.67 421.10,477.12 420.87,476.58 420.62,476.04 420.35,475.50 420.08,474.96 419.80,474.42 419.51,473.88 419.22,473.33 418.94,472.79 418.65,472.25 418.37,471.71 418.09,471.17 417.83,470.62 417.57,470.08 417.33,469.54 417.10,469.00 416.88,468.46 416.69,467.92 416.50,467.38 416.33,466.83 416.18,466.29 416.05,465.75 415.93,465.21 415.85,464.67 415.85,464.12 415.85,463.58 415.85,463.04 415.85,462.50 415.85,461.96 415.85,461.42 415.85,460.88 415.85,460.33 415.85,459.79 415.85,459.25 415.85,458.71 415.85,458.17 415.85,457.62 415.85,457.08 415.85,456.54 415.85,456.00" fill="#3db33a" stroke="#1e2a20" stroke-width="0.6" stroke-linejoin="round"/><line x1="434.2" y1="443" x2="434.2" y2="462.0" stroke="#333" stroke-width="0.9"/><polygon points="433.75,462.00 433.75,462.45 433.75,462.90 433.75,463.35 433.75,463.80 433.75,464.25 433.75,464.70 433.75,465.15 433.75,465.60 433.75,466.05 433.75,466.50 433.75,466.95 433.75,467.40 433.75,467.85 433.75,468.30 433.75,468.75 433.75,469.20 433.74,469.65 433.61,470.10 433.47,470.55 433.31,471.00 433.12,471.45 432.91,471.90 432.68,472.35 432.42,472.80 432.15,473.25 431.85,473.70 431.53,474.15 431.19,474.60 430.84,475.05 430.47,475.50 430.09,475.95 429.71,476.40 429.32,476.85 428.93,477.30 428.54,477.75 428.16,478.20 427.80,478.65 427.45,479.10 427.12,479.55 426.81,480.00 426.54,480.45 426.29,480.90 426.08,481.35 425.90,481.80 425.76,482.25 425.67,482.70 425.61,483.15 425.60,483.60 425.68,484.05 425.88,484.50 426.19,484.95 426.60,485.40 427.13,485.85 427.76,486.30 428.49,486.75 429.33,487.20 430.27,487.65 431.32,488.10 432.54,488.55 431.86,489.00 436.54,489.00 435.86,488.55 437.08,488.10 438.13,487.65 439.07,487.20 439.91,486.75 440.64,486.30 441.27,485.85 441.80,485.40 442.21,484.95 442.52,484.50 442.72,484.05 442.80,483.60 442.79,483.15 442.73,482.70 442.64,482.25 442.50,481.80 442.32,481.35 442.11,480.90 441.86,480.45 441.59,480.00 441.28,479.55 440.95,479.10 440.60,478.65 440.24,478.20 439.86,477.75 439.47,477.30 439.08,476.85 438.69,476.40 438.31,475.95 437.93,475.50 437.56,475.05 437.21,474.60 436.87,474.15 436.55,473.70 436.25,473.25 435.98,472.80 435.72,472.35 435.49,471.90 435.28,471.45 435.09,471.00 434.93,470.55 434.79,470.10 434.66,469.65 434.65,469.20 434.65,468.75 434.65,468.30 434.65,467.85 434.65,467.40 434.65,466.95 434.65,466.50 434.65,466.05 434.65,465.60 434.65,465.15 434.65,464.70 434.65,464.25 434.65,463.80 434.65,463.35 434.65,462.90 434.65,462.45 434.65,462.00" fill="#174d8c" stroke="#1e2a20" stroke-width="0.6" stroke-linejoin="round"/><rect x="454.8" y="460.8" width="3" height="3" fill="#3db33a" stroke="none" stroke-width="1"/><text x="460.6" y="464" font-size="7" fill="#222" text-anchor="start" textLength="9.6" lengthAdjust="spacingAndGlyphs">WT</text><rect x="454.8" y="470.4" width="3" height="3" fill="#174d8c" stroke="none" stroke-width="1"/><text x="460.6" y="473.6" font-size="7" fill="#222" text-anchor="start" textLength="24" lengthAdjust="spacingAndGlyphs">KAT-PM</text><rect x="0" y="0" width="520" height="669" fill="none" stroke="#545454" stroke-width="2.8"/></svg></body></html>
